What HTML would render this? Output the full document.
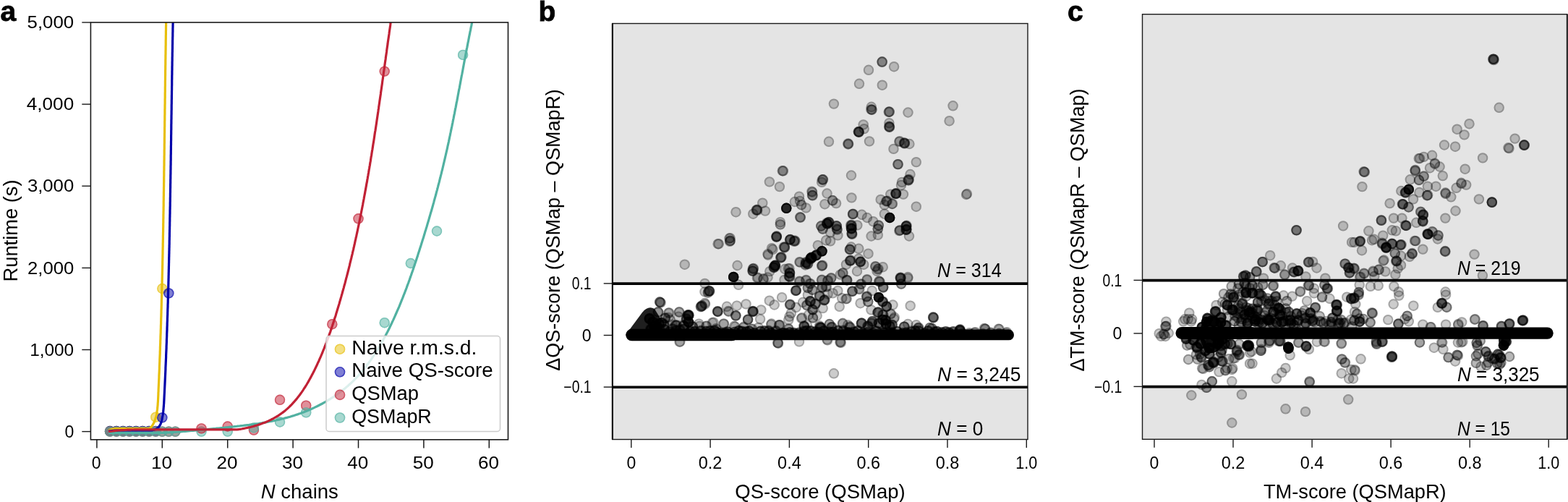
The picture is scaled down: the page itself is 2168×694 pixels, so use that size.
<!DOCTYPE html>
<html><head><meta charset="utf-8"><title>Figure</title>
<style>html,body{margin:0;padding:0;background:#fff;}svg{display:block;}text{font-family:"Liberation Sans", Arial, sans-serif;fill:#000;}.fa0{fill:#000;fill-opacity:0.243}.sa0{fill:none;stroke:#000;stroke-width:2;stroke-opacity:0.243}.fa1{fill:#000;fill-opacity:0.200}.sa1{fill:none;stroke:#000;stroke-width:2;stroke-opacity:0.200}.fa2{fill:#000;fill-opacity:0.284}.sa2{fill:none;stroke:#000;stroke-width:2;stroke-opacity:0.284}.fa3{fill:#000;fill-opacity:0.832}.sa3{fill:none;stroke:#000;stroke-width:2;stroke-opacity:0.832}.fa4{fill:#000;fill-opacity:0.893}.sa4{fill:none;stroke:#000;stroke-width:2;stroke-opacity:0.893}.fa5{fill:#000;fill-opacity:0.252}.sa5{fill:none;stroke:#000;stroke-width:2;stroke-opacity:0.252}</style>
</head><body>
<svg width="2168" height="694" viewBox="0 0 2168 694">
<defs><clipPath id="clipA"><rect x="125" y="31" width="577.5" height="576.5"/></clipPath></defs>
<rect width="2168" height="694" fill="#fff"/>
<rect x="125.4" y="31.0" width="577.1" height="576.8" fill="#fff"/>
<g clip-path="url(#clipA)">
<circle cx="152.0" cy="596.0" r="7.2" fill="#E8BF0A" fill-opacity="0.5"/><circle cx="152.0" cy="596.0" r="6.4" fill="none" stroke="#E8BF0A" stroke-opacity="0.5" stroke-width="1.6"/>
<circle cx="161.0" cy="596.0" r="7.2" fill="#E8BF0A" fill-opacity="0.5"/><circle cx="161.0" cy="596.0" r="6.4" fill="none" stroke="#E8BF0A" stroke-opacity="0.5" stroke-width="1.6"/>
<circle cx="170.1" cy="596.0" r="7.2" fill="#E8BF0A" fill-opacity="0.5"/><circle cx="170.1" cy="596.0" r="6.4" fill="none" stroke="#E8BF0A" stroke-opacity="0.5" stroke-width="1.6"/>
<circle cx="179.1" cy="596.0" r="7.2" fill="#E8BF0A" fill-opacity="0.5"/><circle cx="179.1" cy="596.0" r="6.4" fill="none" stroke="#E8BF0A" stroke-opacity="0.5" stroke-width="1.6"/>
<circle cx="188.1" cy="596.0" r="7.2" fill="#E8BF0A" fill-opacity="0.5"/><circle cx="188.1" cy="596.0" r="6.4" fill="none" stroke="#E8BF0A" stroke-opacity="0.5" stroke-width="1.6"/>
<circle cx="197.2" cy="596.0" r="7.2" fill="#E8BF0A" fill-opacity="0.5"/><circle cx="197.2" cy="596.0" r="6.4" fill="none" stroke="#E8BF0A" stroke-opacity="0.5" stroke-width="1.6"/>
<circle cx="206.2" cy="596.0" r="7.2" fill="#E8BF0A" fill-opacity="0.5"/><circle cx="206.2" cy="596.0" r="6.4" fill="none" stroke="#E8BF0A" stroke-opacity="0.5" stroke-width="1.6"/>
<circle cx="152.0" cy="596.0" r="7.2" fill="#0000AA" fill-opacity="0.5"/><circle cx="152.0" cy="596.0" r="6.4" fill="none" stroke="#0000AA" stroke-opacity="0.5" stroke-width="1.6"/>
<circle cx="161.0" cy="596.0" r="7.2" fill="#0000AA" fill-opacity="0.5"/><circle cx="161.0" cy="596.0" r="6.4" fill="none" stroke="#0000AA" stroke-opacity="0.5" stroke-width="1.6"/>
<circle cx="170.1" cy="596.0" r="7.2" fill="#0000AA" fill-opacity="0.5"/><circle cx="170.1" cy="596.0" r="6.4" fill="none" stroke="#0000AA" stroke-opacity="0.5" stroke-width="1.6"/>
<circle cx="179.1" cy="596.0" r="7.2" fill="#0000AA" fill-opacity="0.5"/><circle cx="179.1" cy="596.0" r="6.4" fill="none" stroke="#0000AA" stroke-opacity="0.5" stroke-width="1.6"/>
<circle cx="188.1" cy="596.0" r="7.2" fill="#0000AA" fill-opacity="0.5"/><circle cx="188.1" cy="596.0" r="6.4" fill="none" stroke="#0000AA" stroke-opacity="0.5" stroke-width="1.6"/>
<circle cx="197.2" cy="596.0" r="7.2" fill="#0000AA" fill-opacity="0.5"/><circle cx="197.2" cy="596.0" r="6.4" fill="none" stroke="#0000AA" stroke-opacity="0.5" stroke-width="1.6"/>
<circle cx="206.2" cy="596.0" r="7.2" fill="#0000AA" fill-opacity="0.5"/><circle cx="206.2" cy="596.0" r="6.4" fill="none" stroke="#0000AA" stroke-opacity="0.5" stroke-width="1.6"/>
<circle cx="215.3" cy="596.0" r="7.2" fill="#0000AA" fill-opacity="0.5"/><circle cx="215.3" cy="596.0" r="6.4" fill="none" stroke="#0000AA" stroke-opacity="0.5" stroke-width="1.6"/>
<circle cx="152.0" cy="596.6" r="7.2" fill="#C12135" fill-opacity="0.5"/><circle cx="152.0" cy="596.6" r="6.4" fill="none" stroke="#C12135" stroke-opacity="0.5" stroke-width="1.6"/>
<circle cx="161.0" cy="596.6" r="7.2" fill="#C12135" fill-opacity="0.5"/><circle cx="161.0" cy="596.6" r="6.4" fill="none" stroke="#C12135" stroke-opacity="0.5" stroke-width="1.6"/>
<circle cx="170.1" cy="596.6" r="7.2" fill="#C12135" fill-opacity="0.5"/><circle cx="170.1" cy="596.6" r="6.4" fill="none" stroke="#C12135" stroke-opacity="0.5" stroke-width="1.6"/>
<circle cx="179.1" cy="596.6" r="7.2" fill="#C12135" fill-opacity="0.5"/><circle cx="179.1" cy="596.6" r="6.4" fill="none" stroke="#C12135" stroke-opacity="0.5" stroke-width="1.6"/>
<circle cx="188.1" cy="596.6" r="7.2" fill="#C12135" fill-opacity="0.5"/><circle cx="188.1" cy="596.6" r="6.4" fill="none" stroke="#C12135" stroke-opacity="0.5" stroke-width="1.6"/>
<circle cx="197.2" cy="596.6" r="7.2" fill="#C12135" fill-opacity="0.5"/><circle cx="197.2" cy="596.6" r="6.4" fill="none" stroke="#C12135" stroke-opacity="0.5" stroke-width="1.6"/>
<circle cx="206.2" cy="596.6" r="7.2" fill="#C12135" fill-opacity="0.5"/><circle cx="206.2" cy="596.6" r="6.4" fill="none" stroke="#C12135" stroke-opacity="0.5" stroke-width="1.6"/>
<circle cx="215.3" cy="596.6" r="7.2" fill="#C12135" fill-opacity="0.5"/><circle cx="215.3" cy="596.6" r="6.4" fill="none" stroke="#C12135" stroke-opacity="0.5" stroke-width="1.6"/>
<circle cx="224.3" cy="596.6" r="7.2" fill="#C12135" fill-opacity="0.5"/><circle cx="224.3" cy="596.6" r="6.4" fill="none" stroke="#C12135" stroke-opacity="0.5" stroke-width="1.6"/>
<circle cx="233.3" cy="596.6" r="7.2" fill="#C12135" fill-opacity="0.5"/><circle cx="233.3" cy="596.6" r="6.4" fill="none" stroke="#C12135" stroke-opacity="0.5" stroke-width="1.6"/>
<circle cx="242.4" cy="596.6" r="7.2" fill="#C12135" fill-opacity="0.5"/><circle cx="242.4" cy="596.6" r="6.4" fill="none" stroke="#C12135" stroke-opacity="0.5" stroke-width="1.6"/>
<circle cx="152.0" cy="596.6" r="7.2" fill="#51B1A1" fill-opacity="0.5"/><circle cx="152.0" cy="596.6" r="6.4" fill="none" stroke="#51B1A1" stroke-opacity="0.5" stroke-width="1.6"/>
<circle cx="161.0" cy="596.6" r="7.2" fill="#51B1A1" fill-opacity="0.5"/><circle cx="161.0" cy="596.6" r="6.4" fill="none" stroke="#51B1A1" stroke-opacity="0.5" stroke-width="1.6"/>
<circle cx="170.1" cy="596.6" r="7.2" fill="#51B1A1" fill-opacity="0.5"/><circle cx="170.1" cy="596.6" r="6.4" fill="none" stroke="#51B1A1" stroke-opacity="0.5" stroke-width="1.6"/>
<circle cx="179.1" cy="596.6" r="7.2" fill="#51B1A1" fill-opacity="0.5"/><circle cx="179.1" cy="596.6" r="6.4" fill="none" stroke="#51B1A1" stroke-opacity="0.5" stroke-width="1.6"/>
<circle cx="188.1" cy="596.6" r="7.2" fill="#51B1A1" fill-opacity="0.5"/><circle cx="188.1" cy="596.6" r="6.4" fill="none" stroke="#51B1A1" stroke-opacity="0.5" stroke-width="1.6"/>
<circle cx="197.2" cy="596.6" r="7.2" fill="#51B1A1" fill-opacity="0.5"/><circle cx="197.2" cy="596.6" r="6.4" fill="none" stroke="#51B1A1" stroke-opacity="0.5" stroke-width="1.6"/>
<circle cx="206.2" cy="596.6" r="7.2" fill="#51B1A1" fill-opacity="0.5"/><circle cx="206.2" cy="596.6" r="6.4" fill="none" stroke="#51B1A1" stroke-opacity="0.5" stroke-width="1.6"/>
<circle cx="215.3" cy="596.6" r="7.2" fill="#51B1A1" fill-opacity="0.5"/><circle cx="215.3" cy="596.6" r="6.4" fill="none" stroke="#51B1A1" stroke-opacity="0.5" stroke-width="1.6"/>
<circle cx="224.3" cy="596.6" r="7.2" fill="#51B1A1" fill-opacity="0.5"/><circle cx="224.3" cy="596.6" r="6.4" fill="none" stroke="#51B1A1" stroke-opacity="0.5" stroke-width="1.6"/>
<circle cx="233.3" cy="596.6" r="7.2" fill="#51B1A1" fill-opacity="0.5"/><circle cx="233.3" cy="596.6" r="6.4" fill="none" stroke="#51B1A1" stroke-opacity="0.5" stroke-width="1.6"/>
<circle cx="242.4" cy="596.6" r="7.2" fill="#51B1A1" fill-opacity="0.5"/><circle cx="242.4" cy="596.6" r="6.4" fill="none" stroke="#51B1A1" stroke-opacity="0.5" stroke-width="1.6"/>
<circle cx="278.5" cy="596.6" r="7.2" fill="#51B1A1" fill-opacity="0.5"/><circle cx="278.5" cy="596.6" r="6.4" fill="none" stroke="#51B1A1" stroke-opacity="0.5" stroke-width="1.6"/>
<circle cx="314.7" cy="596.6" r="7.2" fill="#51B1A1" fill-opacity="0.5"/><circle cx="314.7" cy="596.6" r="6.4" fill="none" stroke="#51B1A1" stroke-opacity="0.5" stroke-width="1.6"/>
<circle cx="278.5" cy="592.4" r="7.2" fill="#C12135" fill-opacity="0.5"/><circle cx="278.5" cy="592.4" r="6.4" fill="none" stroke="#C12135" stroke-opacity="0.5" stroke-width="1.6"/>
<circle cx="314.7" cy="589.5" r="7.2" fill="#C12135" fill-opacity="0.5"/><circle cx="314.7" cy="589.5" r="6.4" fill="none" stroke="#C12135" stroke-opacity="0.5" stroke-width="1.6"/>
<circle cx="350.9" cy="594.6" r="7.2" fill="#C12135" fill-opacity="0.5"/><circle cx="350.9" cy="594.6" r="6.4" fill="none" stroke="#C12135" stroke-opacity="0.5" stroke-width="1.6"/>
<circle cx="215.3" cy="576.7" r="7.2" fill="#E8BF0A" fill-opacity="0.5"/><circle cx="215.3" cy="576.7" r="6.4" fill="none" stroke="#E8BF0A" stroke-opacity="0.5" stroke-width="1.6"/>
<circle cx="224.3" cy="399.0" r="7.2" fill="#E8BF0A" fill-opacity="0.5"/><circle cx="224.3" cy="399.0" r="6.4" fill="none" stroke="#E8BF0A" stroke-opacity="0.5" stroke-width="1.6"/>
<circle cx="224.3" cy="577.4" r="7.2" fill="#0000AA" fill-opacity="0.5"/><circle cx="224.3" cy="577.4" r="6.4" fill="none" stroke="#0000AA" stroke-opacity="0.5" stroke-width="1.6"/>
<circle cx="233.3" cy="405.4" r="7.2" fill="#0000AA" fill-opacity="0.5"/><circle cx="233.3" cy="405.4" r="6.4" fill="none" stroke="#0000AA" stroke-opacity="0.5" stroke-width="1.6"/>
<circle cx="387.0" cy="552.8" r="7.2" fill="#C12135" fill-opacity="0.5"/><circle cx="387.0" cy="552.8" r="6.4" fill="none" stroke="#C12135" stroke-opacity="0.5" stroke-width="1.6"/>
<circle cx="423.2" cy="560.7" r="7.2" fill="#C12135" fill-opacity="0.5"/><circle cx="423.2" cy="560.7" r="6.4" fill="none" stroke="#C12135" stroke-opacity="0.5" stroke-width="1.6"/>
<circle cx="459.3" cy="448.2" r="7.2" fill="#C12135" fill-opacity="0.5"/><circle cx="459.3" cy="448.2" r="6.4" fill="none" stroke="#C12135" stroke-opacity="0.5" stroke-width="1.6"/>
<circle cx="495.5" cy="302.3" r="7.2" fill="#C12135" fill-opacity="0.5"/><circle cx="495.5" cy="302.3" r="6.4" fill="none" stroke="#C12135" stroke-opacity="0.5" stroke-width="1.6"/>
<circle cx="531.7" cy="98.6" r="7.2" fill="#C12135" fill-opacity="0.5"/><circle cx="531.7" cy="98.6" r="6.4" fill="none" stroke="#C12135" stroke-opacity="0.5" stroke-width="1.6"/>
<circle cx="350.9" cy="591.4" r="7.2" fill="#51B1A1" fill-opacity="0.5"/><circle cx="350.9" cy="591.4" r="6.4" fill="none" stroke="#51B1A1" stroke-opacity="0.5" stroke-width="1.6"/>
<circle cx="387.0" cy="583.5" r="7.2" fill="#51B1A1" fill-opacity="0.5"/><circle cx="387.0" cy="583.5" r="6.4" fill="none" stroke="#51B1A1" stroke-opacity="0.5" stroke-width="1.6"/>
<circle cx="423.2" cy="570.4" r="7.2" fill="#51B1A1" fill-opacity="0.5"/><circle cx="423.2" cy="570.4" r="6.4" fill="none" stroke="#51B1A1" stroke-opacity="0.5" stroke-width="1.6"/>
<circle cx="531.7" cy="446.2" r="7.2" fill="#51B1A1" fill-opacity="0.5"/><circle cx="531.7" cy="446.2" r="6.4" fill="none" stroke="#51B1A1" stroke-opacity="0.5" stroke-width="1.6"/>
<circle cx="567.8" cy="364.0" r="7.2" fill="#51B1A1" fill-opacity="0.5"/><circle cx="567.8" cy="364.0" r="6.4" fill="none" stroke="#51B1A1" stroke-opacity="0.5" stroke-width="1.6"/>
<circle cx="604.0" cy="319.5" r="7.2" fill="#51B1A1" fill-opacity="0.5"/><circle cx="604.0" cy="319.5" r="6.4" fill="none" stroke="#51B1A1" stroke-opacity="0.5" stroke-width="1.6"/>
<circle cx="640.1" cy="75.9" r="7.2" fill="#51B1A1" fill-opacity="0.5"/><circle cx="640.1" cy="75.9" r="6.4" fill="none" stroke="#51B1A1" stroke-opacity="0.5" stroke-width="1.6"/>
<path d="M150.0,595.3 L151.6,594.5 L153.4,593.8 L155.2,593.3 L157.1,592.9 L159.1,592.7 L161.1,592.6 L163.2,592.6 L165.3,592.6 L167.5,592.6 L169.7,592.6 L172.0,592.6 L174.3,592.6 L176.6,592.6 L178.8,592.6 L181.2,592.6 L183.4,592.6 L185.7,592.6 L188.0,592.6 L190.2,592.6 L192.4,592.6 L194.5,592.6 L196.6,592.6 L198.7,592.6 L200.6,592.6 L202.5,592.6 L204.3,592.6 L206.0,592.6 L207.5,591.8 L208.9,590.5 L210.1,589.0 L211.2,587.4 L212.2,585.6 L213.1,583.8 L213.8,581.9 L214.5,579.9 L215.1,578.0 L215.7,576.0 L216.2,574.1 L216.6,572.1 L216.9,570.0 L217.2,568.0 L217.5,566.0 L217.7,563.9 L217.9,561.9 L218.1,559.8 L218.2,557.7 L218.4,555.6 L218.5,553.5 L218.6,551.4 L218.7,549.3 L218.8,547.2 L218.9,545.1 L218.9,543.0 L219.1,541.0 L219.1,538.9 L219.2,536.8 L219.3,534.7 L219.4,532.6 L219.5,530.5 L219.6,528.4 L219.7,526.3 L219.8,524.2 L219.9,522.1 L219.9,520.0 L220.0,517.9 L220.1,515.9 L220.2,513.8 L220.3,511.7 L220.4,509.6 L220.4,507.5 L220.5,505.4 L220.6,503.3 L220.7,501.2 L220.8,499.1 L220.8,497.0 L220.9,495.0 L221.0,492.9 L221.1,490.8 L221.2,488.7 L221.2,486.6 L221.3,484.5 L221.4,482.4 L221.4,480.3 L221.5,478.3 L221.6,476.2 L221.7,474.1 L221.7,472.0 L221.8,469.9 L221.9,467.8 L221.9,465.7 L222.0,463.6 L222.1,461.6 L222.2,459.5 L222.2,457.4 L222.3,455.3 L222.4,453.2 L222.4,451.1 L222.5,449.1 L222.6,447.0 L222.6,444.9 L222.7,442.8 L222.7,440.7 L222.8,438.6 L222.9,436.6 L222.9,434.5 L223.0,432.4 L223.0,430.3 L223.1,428.2 L223.2,426.1 L223.2,424.1 L223.3,422.0 L223.3,419.9 L223.4,417.8 L223.4,415.7 L223.5,413.6 L223.6,411.6 L223.6,409.5 L223.7,407.4 L223.7,405.3 L223.8,403.2 L223.8,401.2 L223.9,399.1 L223.9,397.0 L224.0,394.9 L224.0,392.8 L224.1,390.8 L224.1,388.7 L224.2,386.6 L224.2,384.5 L224.3,382.4 L224.3,380.4 L224.4,378.3 L224.4,376.2 L224.5,374.1 L224.5,372.0 L224.6,369.9 L224.6,367.9 L224.7,365.8 L224.7,363.7 L224.7,361.6 L224.8,359.6 L224.8,357.5 L224.9,355.4 L224.9,353.3 L225.0,351.2 L225.0,349.2 L225.0,347.1 L225.1,345.0 L225.1,342.9 L225.2,340.9 L225.2,338.8 L225.2,336.7 L225.3,334.6 L225.3,332.5 L225.4,330.5 L225.4,328.4 L225.4,326.3 L225.5,324.2 L225.5,322.1 L225.6,320.1 L225.6,318.0 L225.6,315.9 L225.7,313.8 L225.7,311.8 L225.7,309.7 L225.8,307.6 L225.8,305.5 L225.8,303.4 L225.9,301.4 L225.9,299.3 L225.9,297.2 L226.0,295.1 L226.0,293.1 L226.1,291.0 L226.1,288.9 L226.1,286.8 L226.2,284.8 L226.2,282.7 L226.2,280.6 L226.2,278.5 L226.3,276.4 L226.3,274.4 L226.3,272.3 L226.4,270.2 L226.4,268.1 L226.4,266.1 L226.5,264.0 L226.5,261.9 L226.5,259.8 L226.6,257.8 L226.6,255.7 L226.6,253.6 L226.7,251.5 L226.7,249.4 L226.7,247.4 L226.7,245.3 L226.8,243.2 L226.8,241.1 L226.8,239.1 L226.8,237.0 L226.9,234.9 L226.9,232.8 L226.9,230.7 L227.0,228.7 L227.0,226.6 L227.0,224.5 L227.0,222.4 L227.1,220.4 L227.1,218.3 L227.1,216.2 L227.2,214.1 L227.2,212.1 L227.2,210.0 L227.2,207.9 L227.3,205.8 L227.3,203.7 L227.3,201.7 L227.3,199.6 L227.4,197.5 L227.4,195.4 L227.4,193.3 L227.4,191.3 L227.5,189.2 L227.5,187.1 L227.5,185.0 L227.6,183.0 L227.6,180.9 L227.6,178.8 L227.6,176.7 L227.7,174.6 L227.7,172.6 L227.7,170.5 L227.7,168.4 L227.8,166.3 L227.8,164.2 L227.8,162.2 L227.8,160.1 L227.9,158.0 L227.9,155.9 L227.9,153.8 L227.9,151.8 L228.0,149.7 L228.0,147.6 L228.0,145.5 L228.1,143.4 L228.1,141.4 L228.1,139.3 L228.1,137.2 L228.2,135.1 L228.2,133.1 L228.2,131.0 L228.2,128.9 L228.3,126.8 L228.3,124.7 L228.3,122.7 L228.3,120.6 L228.4,118.5 L228.4,116.4 L228.4,114.3 L228.4,112.2 L228.5,110.2 L228.5,108.1 L228.5,106.0 L228.6,103.9 L228.6,101.8 L228.6,99.8 L228.6,97.7 L228.7,95.6 L228.7,93.5 L228.7,91.4 L228.8,89.3 L228.8,87.2 L228.8,85.2 L228.8,83.1 L228.9,81.0 L228.9,78.9 L228.9,76.8 L229.0,74.8 L229.0,72.7 L229.0,70.6 L229.1,68.5 L229.1,66.4 L229.1,64.3 L229.2,62.2 L229.2,60.1 L229.2,58.1 L229.2,56.0 L229.3,53.9 L229.3,51.8 L229.3,49.7 L229.4,47.6 L229.4,45.5 L229.4,43.5 L229.5,41.4 L229.5,39.3 L229.5,37.2 L229.6,35.1 L229.6,33.0 L229.6,30.9" fill="none" stroke="#E8BF0A" stroke-width="3.2"/>
<path d="M150.0,596.0 L152.1,595.8 L154.2,595.6 L156.3,595.4 L158.3,595.2 L160.4,595.1 L162.5,595.1 L164.6,595.0 L166.7,595.0 L168.8,595.0 L170.9,595.0 L173.0,595.0 L175.2,595.0 L177.3,595.0 L179.4,595.0 L181.6,595.0 L183.7,595.0 L185.9,595.0 L188.1,595.0 L190.2,595.0 L192.4,595.0 L194.6,595.0 L196.8,595.0 L199.1,595.0 L201.3,595.0 L203.5,595.0 L205.7,595.0 L207.9,595.0 L210.0,594.9 L212.0,594.5 L213.9,593.9 L215.7,593.1 L217.3,592.2 L218.7,591.1 L219.9,589.7 L221.0,588.2 L221.9,586.5 L222.6,584.6 L223.2,582.7 L223.8,580.6 L224.2,578.5 L224.6,576.4 L225.0,574.3 L225.3,572.2 L225.6,570.0 L225.8,567.9 L226.0,565.8 L226.2,563.7 L226.4,561.5 L226.5,559.4 L226.7,557.3 L226.8,555.2 L226.9,553.1 L227.0,551.0 L227.1,548.8 L227.2,546.7 L227.3,544.6 L227.4,542.5 L227.5,540.4 L227.6,538.2 L227.7,536.1 L227.8,534.0 L227.9,531.9 L228.0,529.8 L228.1,527.7 L228.2,525.5 L228.3,523.4 L228.4,521.3 L228.5,519.2 L228.6,517.1 L228.7,515.0 L228.8,512.8 L228.9,510.7 L228.9,508.6 L229.0,506.5 L229.1,504.4 L229.2,502.2 L229.3,500.1 L229.4,498.0 L229.5,495.9 L229.6,493.8 L229.6,491.7 L229.7,489.6 L229.8,487.4 L229.9,485.3 L230.0,483.2 L230.1,481.1 L230.1,479.0 L230.2,476.9 L230.3,474.8 L230.4,472.6 L230.4,470.5 L230.5,468.4 L230.6,466.3 L230.7,464.2 L230.7,462.1 L230.8,459.9 L230.9,457.8 L231.0,455.7 L231.0,453.6 L231.1,451.5 L231.2,449.4 L231.2,447.2 L231.3,445.1 L231.4,443.0 L231.4,440.9 L231.5,438.8 L231.6,436.7 L231.7,434.6 L231.7,432.5 L231.8,430.3 L231.8,428.2 L231.9,426.1 L232.0,424.0 L232.0,421.9 L232.1,419.8 L232.2,417.7 L232.2,415.5 L232.3,413.4 L232.3,411.3 L232.4,409.2 L232.5,407.1 L232.5,405.0 L232.6,402.9 L232.6,400.8 L232.7,398.6 L232.8,396.5 L232.8,394.4 L232.9,392.3 L232.9,390.2 L233.0,388.1 L233.0,386.0 L233.1,383.9 L233.1,381.7 L233.2,379.6 L233.2,377.5 L233.3,375.4 L233.3,373.3 L233.4,371.2 L233.4,369.1 L233.5,366.9 L233.5,364.8 L233.6,362.7 L233.6,360.6 L233.7,358.5 L233.7,356.4 L233.8,354.3 L233.8,352.2 L233.9,350.1 L233.9,347.9 L234.0,345.8 L234.0,343.7 L234.1,341.6 L234.1,339.5 L234.2,337.4 L234.2,335.3 L234.2,333.1 L234.3,331.0 L234.3,328.9 L234.4,326.8 L234.4,324.7 L234.4,322.6 L234.5,320.5 L234.5,318.4 L234.6,316.2 L234.6,314.1 L234.7,312.0 L234.7,309.9 L234.7,307.8 L234.8,305.7 L234.8,303.6 L234.8,301.5 L234.9,299.4 L234.9,297.2 L235.0,295.1 L235.0,293.0 L235.0,290.9 L235.1,288.8 L235.1,286.7 L235.2,284.6 L235.2,282.5 L235.2,280.4 L235.3,278.2 L235.3,276.1 L235.3,274.0 L235.4,271.9 L235.4,269.8 L235.4,267.7 L235.5,265.6 L235.5,263.5 L235.5,261.3 L235.6,259.2 L235.6,257.1 L235.6,255.0 L235.7,252.9 L235.7,250.8 L235.7,248.7 L235.8,246.6 L235.8,244.4 L235.8,242.3 L235.9,240.2 L235.9,238.1 L235.9,236.0 L236.0,233.9 L236.0,231.8 L236.0,229.7 L236.1,227.6 L236.1,225.4 L236.1,223.3 L236.2,221.2 L236.2,219.1 L236.2,217.0 L236.2,214.9 L236.3,212.8 L236.3,210.7 L236.3,208.6 L236.4,206.4 L236.4,204.3 L236.4,202.2 L236.5,200.1 L236.5,198.0 L236.5,195.9 L236.6,193.8 L236.6,191.7 L236.6,189.5 L236.6,187.4 L236.7,185.3 L236.7,183.2 L236.7,181.1 L236.8,179.0 L236.8,176.9 L236.8,174.8 L236.8,172.6 L236.9,170.5 L236.9,168.4 L236.9,166.3 L237.0,164.2 L237.0,162.1 L237.0,160.0 L237.1,157.8 L237.1,155.7 L237.1,153.6 L237.2,151.5 L237.2,149.4 L237.2,147.3 L237.2,145.2 L237.3,143.1 L237.3,140.9 L237.3,138.8 L237.4,136.7 L237.4,134.6 L237.4,132.5 L237.5,130.4 L237.5,128.3 L237.5,126.2 L237.6,124.0 L237.6,121.9 L237.6,119.8 L237.7,117.7 L237.7,115.6 L237.7,113.5 L237.7,111.3 L237.8,109.2 L237.8,107.1 L237.8,105.0 L237.9,102.9 L237.9,100.8 L237.9,98.7 L238.0,96.5 L238.0,94.4 L238.0,92.3 L238.1,90.2 L238.1,88.1 L238.1,86.0 L238.2,83.9 L238.2,81.8 L238.2,79.6 L238.3,77.5 L238.3,75.4 L238.3,73.3 L238.4,71.2 L238.4,69.1 L238.5,66.9 L238.5,64.8 L238.5,62.7 L238.6,60.6 L238.6,58.5 L238.6,56.4 L238.7,54.2 L238.7,52.1 L238.8,50.0 L238.8,47.9 L238.8,45.8 L238.9,43.7 L238.9,41.6 L238.9,39.4 L239.0,37.3 L239.0,35.2 L239.1,33.1 L239.1,31.0" fill="none" stroke="#0000AA" stroke-width="3.2"/>
<path d="M150.1,598.6 L152.4,598.6 L154.6,598.6 L156.8,598.6 L159.1,598.6 L161.3,598.6 L163.6,598.6 L165.8,598.6 L168.0,598.6 L170.2,598.6 L172.5,598.6 L174.7,598.6 L176.9,598.6 L179.1,598.6 L181.3,598.6 L183.6,598.6 L185.8,598.6 L188.0,598.6 L190.2,598.6 L192.4,598.6 L194.6,598.6 L196.8,598.6 L199.0,598.6 L201.2,598.6 L203.4,598.6 L205.6,598.6 L207.8,598.6 L210.0,598.6 L212.2,598.6 L214.4,598.6 L216.6,598.6 L218.7,598.6 L220.9,598.6 L223.1,598.5 L225.3,598.4 L227.5,598.2 L229.7,598.1 L231.9,598.0 L234.1,597.9 L236.2,597.7 L238.4,597.6 L240.6,597.4 L242.8,597.3 L245.0,597.1 L247.2,597.0 L249.3,596.8 L251.5,596.6 L253.7,596.5 L255.9,596.3 L258.1,596.1 L260.3,595.9 L262.5,595.7 L264.6,595.5 L266.8,595.4 L269.0,595.2 L271.2,595.0 L273.4,594.8 L275.6,594.6 L277.8,594.4 L280.0,594.2 L282.2,594.0 L284.4,593.8 L286.6,593.5 L288.8,593.3 L291.0,593.1 L293.2,592.9 L295.4,592.7 L297.6,592.5 L299.8,592.2 L302.0,592.0 L304.2,591.8 L306.4,591.6 L308.6,591.4 L310.9,591.1 L313.1,590.9 L315.3,590.7 L317.5,590.4 L319.8,590.2 L322.0,590.0 L324.2,589.7 L326.4,589.5 L328.6,589.2 L330.9,589.0 L333.1,588.7 L335.3,588.5 L337.6,588.2 L339.8,587.9 L342.0,587.6 L344.2,587.4 L346.4,587.1 L348.7,586.8 L350.9,586.5 L353.1,586.1 L355.3,585.8 L357.5,585.5 L359.7,585.1 L361.9,584.8 L364.1,584.4 L366.3,584.0 L368.5,583.6 L370.7,583.2 L372.9,582.8 L375.1,582.4 L377.3,582.0 L379.4,581.5 L381.6,581.0 L383.8,580.5 L385.9,580.1 L388.1,579.5 L390.2,579.0 L392.4,578.5 L394.5,577.9 L396.7,577.4 L398.8,576.8 L400.9,576.2 L403.0,575.5 L405.1,574.9 L407.2,574.2 L409.3,573.5 L411.4,572.9 L413.5,572.1 L415.6,571.4 L417.6,570.6 L419.7,569.9 L421.8,569.1 L423.8,568.2 L425.8,567.4 L427.8,566.6 L429.9,565.7 L431.9,564.8 L433.9,563.9 L435.8,562.9 L437.8,562.0 L439.8,561.0 L441.7,560.0 L443.6,559.0 L445.6,558.0 L447.5,556.9 L449.4,555.9 L451.3,554.8 L453.2,553.6 L455.0,552.5 L456.9,551.4 L458.7,550.2 L460.5,549.0 L462.4,547.8 L464.1,546.6 L465.9,545.3 L467.7,544.0 L469.4,542.8 L471.2,541.5 L472.9,540.1 L474.6,538.8 L476.3,537.4 L478.0,536.0 L479.6,534.6 L481.3,533.2 L482.9,531.7 L484.5,530.3 L486.1,528.8 L487.7,527.3 L489.2,525.8 L490.8,524.2 L492.3,522.6 L493.8,521.1 L495.3,519.5 L496.8,517.8 L498.2,516.2 L499.6,514.5 L501.1,512.9 L502.5,511.2 L503.8,509.5 L505.2,507.7 L506.6,506.0 L507.9,504.2 L509.2,502.5 L510.5,500.7 L511.8,498.9 L513.1,497.1 L514.3,495.3 L515.6,493.4 L516.8,491.6 L518.0,489.7 L519.2,487.9 L520.4,486.0 L521.6,484.1 L522.8,482.2 L523.9,480.3 L525.0,478.3 L526.2,476.4 L527.3,474.5 L528.4,472.5 L529.5,470.6 L530.5,468.6 L531.6,466.6 L532.7,464.7 L533.7,462.7 L534.7,460.7 L535.8,458.7 L536.8,456.7 L537.8,454.7 L538.8,452.7 L539.7,450.7 L540.7,448.7 L541.7,446.7 L542.6,444.6 L543.6,442.6 L544.5,440.6 L545.4,438.6 L546.3,436.6 L547.2,434.5 L548.1,432.5 L549.0,430.4 L549.9,428.4 L550.8,426.4 L551.7,424.3 L552.5,422.3 L553.4,420.2 L554.2,418.1 L555.0,416.1 L555.9,414.0 L556.7,412.0 L557.5,409.9 L558.3,407.8 L559.1,405.8 L559.9,403.7 L560.7,401.6 L561.5,399.6 L562.3,397.5 L563.0,395.4 L563.8,393.3 L564.6,391.2 L565.3,389.2 L566.1,387.1 L566.8,385.0 L567.5,382.9 L568.3,380.8 L569.0,378.7 L569.7,376.6 L570.5,374.5 L571.2,372.4 L571.9,370.3 L572.6,368.2 L573.3,366.1 L574.0,364.1 L574.7,361.9 L575.4,359.9 L576.1,357.8 L576.8,355.6 L577.5,353.6 L578.1,351.4 L578.8,349.3 L579.5,347.2 L580.2,345.1 L580.8,343.0 L581.5,340.9 L582.2,338.8 L582.8,336.7 L583.5,334.6 L584.1,332.5 L584.8,330.4 L585.5,328.3 L586.1,326.2 L586.8,324.1 L587.4,321.9 L588.0,319.8 L588.7,317.7 L589.3,315.6 L590.0,313.5 L590.6,311.4 L591.2,309.3 L591.8,307.2 L592.5,305.1 L593.1,302.9 L593.7,300.8 L594.3,298.7 L594.9,296.6 L595.5,294.5 L596.2,292.3 L596.8,290.2 L597.4,288.1 L598.0,286.0 L598.6,283.9 L599.2,281.7 L599.8,279.6 L600.3,277.5 L600.9,275.4 L601.5,273.2 L602.1,271.1 L602.7,269.0 L603.2,266.9 L603.8,264.7 L604.4,262.6 L604.9,260.5 L605.5,258.3 L606.0,256.2 L606.6,254.1 L607.2,251.9 L607.7,249.8 L608.2,247.7 L608.8,245.5 L609.3,243.4 L609.9,241.2 L610.4,239.1 L610.9,236.9 L611.5,234.8 L612.0,232.7 L612.5,230.5 L613.0,228.4 L613.5,226.2 L614.0,224.1 L614.5,221.9 L615.0,219.8 L615.5,217.6 L616.0,215.5 L616.5,213.3 L617.0,211.2 L617.5,209.0 L618.0,206.8 L618.5,204.7 L618.9,202.5 L619.4,200.4 L619.9,198.2 L620.4,196.0 L620.8,193.9 L621.3,191.7 L621.7,189.5 L622.2,187.4 L622.6,185.2 L623.1,183.0 L623.5,180.9 L624.0,178.7 L624.4,176.5 L624.9,174.3 L625.3,172.2 L625.8,170.0 L626.2,167.8 L626.6,165.7 L627.1,163.5 L627.5,161.3 L627.9,159.1 L628.4,157.0 L628.8,154.8 L629.2,152.6 L629.6,150.4 L630.1,148.3 L630.5,146.1 L630.9,143.9 L631.3,141.7 L631.8,139.6 L632.2,137.4 L632.6,135.2 L633.0,133.0 L633.4,130.8 L633.8,128.7 L634.2,126.5 L634.6,124.3 L635.1,122.1 L635.5,120.0 L635.9,117.8 L636.3,115.6 L636.7,113.4 L637.1,111.2 L637.5,109.0 L637.9,106.9 L638.3,104.7 L638.8,102.5 L639.2,100.3 L639.6,98.2 L640.0,96.0 L640.4,93.8 L640.8,91.6 L641.2,89.5 L641.6,87.3 L642.0,85.1 L642.4,82.9 L642.9,80.8 L643.3,78.6 L643.7,76.4 L644.1,74.2 L644.5,72.1 L644.9,69.9 L645.3,67.7 L645.8,65.6 L646.2,63.4 L646.6,61.2 L647.0,59.1 L647.5,56.9 L647.9,54.7 L648.3,52.6 L648.7,50.4 L649.2,48.2 L649.6,46.1 L650.0,43.9 L650.5,41.8 L650.9,39.6 L651.3,37.4 L651.8,35.3 L652.2,33.1 L652.6,31.0" fill="none" stroke="#51B1A1" stroke-width="3.2"/>
<path d="M150.1,596.7 L152.1,596.4 L154.1,596.1 L156.1,595.9 L158.2,595.6 L160.2,595.4 L162.2,595.2 L164.2,595.0 L166.2,594.9 L168.2,594.7 L170.2,594.6 L172.3,594.5 L174.3,594.3 L176.3,594.2 L178.3,594.1 L180.4,594.1 L182.4,594.0 L184.4,594.0 L186.4,593.9 L188.5,593.9 L190.5,593.9 L192.6,593.9 L194.6,593.9 L196.6,593.9 L198.7,593.9 L200.7,593.9 L202.7,593.9 L204.8,593.9 L206.8,593.9 L208.9,593.9 L210.9,593.9 L213.0,593.9 L215.0,593.9 L217.1,593.9 L219.1,593.9 L221.2,593.9 L223.2,593.9 L225.3,593.9 L227.3,593.9 L229.4,593.9 L231.4,593.9 L233.5,593.9 L235.5,593.9 L237.6,593.9 L239.6,593.9 L241.7,593.9 L243.7,593.9 L245.8,593.9 L247.9,593.9 L249.9,593.9 L252.0,593.9 L254.0,593.9 L256.1,593.9 L258.1,593.9 L260.2,593.9 L262.3,593.9 L264.3,593.9 L266.4,593.9 L268.4,593.9 L270.5,593.9 L272.6,593.9 L274.6,593.9 L276.7,593.9 L278.7,593.9 L280.8,593.9 L282.9,593.9 L284.9,593.9 L287.0,593.9 L289.0,593.9 L291.1,593.9 L293.1,593.9 L295.2,593.9 L297.3,593.9 L299.3,593.9 L301.4,593.9 L303.4,593.9 L305.5,593.9 L307.6,593.9 L309.6,593.9 L311.6,593.9 L313.7,593.9 L315.8,593.9 L317.8,593.9 L319.9,593.9 L321.9,593.9 L324.0,593.9 L326.0,593.9 L328.0,593.9 L330.1,593.7 L332.1,593.3 L334.1,593.0 L336.1,592.6 L338.1,592.2 L340.2,591.8 L342.1,591.4 L344.1,590.9 L346.1,590.5 L348.1,590.0 L350.1,589.5 L352.0,588.9 L353.9,588.3 L355.9,587.8 L357.8,587.1 L359.7,586.5 L361.6,585.8 L363.4,585.1 L365.3,584.4 L367.2,583.7 L369.0,582.9 L370.8,582.1 L372.6,581.3 L374.4,580.4 L376.1,579.5 L377.9,578.6 L379.6,577.6 L381.3,576.7 L383.0,575.6 L384.7,574.6 L386.3,573.5 L387.9,572.4 L389.5,571.3 L391.1,570.1 L392.7,568.9 L394.2,567.7 L395.7,566.4 L397.2,565.1 L398.6,563.8 L400.1,562.4 L401.5,561.0 L402.9,559.6 L404.3,558.1 L405.6,556.7 L407.0,555.2 L408.3,553.6 L409.6,552.1 L410.9,550.5 L412.1,548.9 L413.4,547.3 L414.6,545.7 L415.8,544.0 L417.0,542.4 L418.2,540.7 L419.3,539.0 L420.4,537.2 L421.6,535.5 L422.7,533.7 L423.8,532.0 L424.8,530.2 L425.9,528.4 L426.9,526.6 L427.9,524.8 L429.0,522.9 L430.0,521.1 L430.9,519.2 L431.9,517.4 L432.9,515.5 L433.8,513.7 L434.8,511.8 L435.7,509.9 L436.6,508.0 L437.5,506.1 L438.4,504.3 L439.2,502.4 L440.1,500.5 L441.0,498.6 L441.8,496.7 L442.6,494.8 L443.5,492.9 L444.3,491.0 L445.1,489.1 L445.9,487.2 L446.6,485.3 L447.4,483.4 L448.2,481.5 L448.9,479.6 L449.7,477.7 L450.4,475.8 L451.2,473.9 L451.9,471.9 L452.6,470.0 L453.3,468.1 L454.0,466.2 L454.7,464.3 L455.4,462.3 L456.1,460.4 L456.8,458.5 L457.4,456.6 L458.1,454.6 L458.7,452.7 L459.4,450.8 L460.0,448.8 L460.6,446.9 L461.3,444.9 L461.9,443.0 L462.5,441.1 L463.1,439.1 L463.8,437.2 L464.4,435.2 L464.9,433.3 L465.6,431.4 L466.1,429.4 L466.7,427.5 L467.3,425.5 L467.9,423.6 L468.5,421.6 L469.1,419.7 L469.6,417.7 L470.2,415.8 L470.8,413.8 L471.3,411.9 L471.9,409.9 L472.4,407.9 L473.0,406.0 L473.5,404.0 L474.1,402.1 L474.6,400.1 L475.2,398.1 L475.7,396.2 L476.2,394.2 L476.8,392.2 L477.3,390.3 L477.8,388.3 L478.3,386.4 L478.8,384.4 L479.4,382.4 L479.9,380.4 L480.4,378.5 L480.9,376.5 L481.4,374.5 L481.9,372.6 L482.4,370.6 L482.9,368.6 L483.4,366.6 L483.8,364.6 L484.3,362.7 L484.8,360.7 L485.3,358.7 L485.8,356.7 L486.2,354.8 L486.7,352.8 L487.2,350.8 L487.6,348.8 L488.1,346.8 L488.6,344.8 L489.0,342.9 L489.5,340.9 L489.9,338.9 L490.4,336.9 L490.8,334.9 L491.2,332.9 L491.7,330.9 L492.1,328.9 L492.6,326.9 L493.0,325.0 L493.4,323.0 L493.9,321.0 L494.3,319.0 L494.7,317.0 L495.1,315.0 L495.5,313.0 L496.0,311.0 L496.4,309.0 L496.8,307.0 L497.2,305.0 L497.6,303.0 L498.0,301.0 L498.4,299.0 L498.8,297.0 L499.2,295.0 L499.6,293.0 L500.0,291.0 L500.4,289.0 L500.8,287.0 L501.2,285.0 L501.6,283.0 L501.9,281.0 L502.3,279.0 L502.7,277.0 L503.1,275.0 L503.4,273.0 L503.8,271.0 L504.2,268.9 L504.6,266.9 L504.9,264.9 L505.3,262.9 L505.7,260.9 L506.0,258.9 L506.4,256.9 L506.7,254.9 L507.1,252.9 L507.5,250.9 L507.8,248.8 L508.2,246.8 L508.5,244.8 L508.9,242.8 L509.2,240.8 L509.6,238.8 L509.9,236.8 L510.2,234.8 L510.6,232.8 L510.9,230.7 L511.3,228.7 L511.6,226.7 L511.9,224.7 L512.3,222.7 L512.6,220.7 L512.9,218.6 L513.2,216.6 L513.6,214.6 L513.9,212.6 L514.2,210.6 L514.5,208.6 L514.9,206.5 L515.2,204.5 L515.5,202.5 L515.8,200.5 L516.1,198.5 L516.5,196.4 L516.8,194.4 L517.1,192.4 L517.4,190.4 L517.7,188.4 L518.0,186.3 L518.3,184.3 L518.6,182.3 L519.0,180.3 L519.3,178.3 L519.6,176.2 L519.9,174.2 L520.2,172.2 L520.5,170.2 L520.8,168.2 L521.1,166.1 L521.4,164.1 L521.7,162.1 L522.0,160.1 L522.3,158.0 L522.6,156.0 L522.9,154.0 L523.1,152.0 L523.5,150.0 L523.7,147.9 L524.0,145.9 L524.3,143.9 L524.6,141.9 L524.9,139.8 L525.2,137.8 L525.5,135.8 L525.8,133.8 L526.1,131.8 L526.4,129.7 L526.6,127.7 L526.9,125.7 L527.2,123.7 L527.5,121.7 L527.8,119.6 L528.1,117.6 L528.4,115.6 L528.6,113.6 L528.9,111.5 L529.2,109.5 L529.5,107.5 L529.8,105.5 L530.1,103.5 L530.3,101.4 L530.6,99.4 L530.9,97.4 L531.2,95.4 L531.5,93.4 L531.8,91.3 L532.0,89.3 L532.3,87.3 L532.6,85.3 L532.9,83.3 L533.2,81.2 L533.4,79.2 L533.7,77.2 L534.0,75.2 L534.3,73.2 L534.6,71.2 L534.8,69.1 L535.1,67.1 L535.4,65.1 L535.7,63.1 L536.0,61.1 L536.2,59.0 L536.5,57.0 L536.8,55.0 L537.1,53.0 L537.4,51.0 L537.7,49.0 L538.0,47.0 L538.2,45.0 L538.5,42.9 L538.8,40.9 L539.1,38.9 L539.4,36.9 L539.7,34.9 L539.9,32.9 L540.2,30.9" fill="none" stroke="#C12135" stroke-width="3.2"/>
</g>
<rect x="451" y="464.5" width="240.5" height="132" rx="4" fill="#fff" fill-opacity="0.8" stroke="#cccccc" stroke-width="1.5"/>
<circle cx="470" cy="482.7" r="7.3" fill="#E8BF0A" fill-opacity="0.5"/><circle cx="470" cy="482.7" r="6.5" fill="none" stroke="#E8BF0A" stroke-opacity="0.5" stroke-width="1.6"/>
<text x="486.2" y="489.7" font-size="26.8" text-anchor="start" font-weight="normal" textLength="173.3" lengthAdjust="spacingAndGlyphs">Naive r.m.s.d.</text>
<circle cx="470" cy="514.3" r="7.3" fill="#0000AA" fill-opacity="0.5"/><circle cx="470" cy="514.3" r="6.5" fill="none" stroke="#0000AA" stroke-opacity="0.5" stroke-width="1.6"/>
<text x="486.2" y="521.3" font-size="26.8" text-anchor="start" font-weight="normal" textLength="195.4" lengthAdjust="spacingAndGlyphs">Naive QS-score</text>
<circle cx="470" cy="545.9" r="7.3" fill="#C12135" fill-opacity="0.5"/><circle cx="470" cy="545.9" r="6.5" fill="none" stroke="#C12135" stroke-opacity="0.5" stroke-width="1.6"/>
<text x="486.2" y="552.9" font-size="26.8" text-anchor="start" font-weight="normal" textLength="92.8" lengthAdjust="spacingAndGlyphs">QSMap</text>
<circle cx="470" cy="577.5" r="7.3" fill="#51B1A1" fill-opacity="0.5"/><circle cx="470" cy="577.5" r="6.5" fill="none" stroke="#51B1A1" stroke-opacity="0.5" stroke-width="1.6"/>
<text x="486.2" y="584.5" font-size="26.8" text-anchor="start" font-weight="normal" textLength="110.6" lengthAdjust="spacingAndGlyphs">QSMapR</text>
<rect x="125.4" y="31.0" width="577.1" height="576.8" fill="none" stroke="#1a1a1a" stroke-width="1.6"/>
<line x1="113.3" y1="596.6" x2="125.4" y2="596.6" stroke="#1a1a1a" stroke-width="1.4"/>
<text x="102.2" y="604.8" font-size="23.0" text-anchor="end" font-weight="normal">0</text>
<line x1="113.3" y1="483.5" x2="125.4" y2="483.5" stroke="#1a1a1a" stroke-width="1.4"/>
<text x="102.2" y="491.7" font-size="23.0" text-anchor="end" font-weight="normal" textLength="61.0" lengthAdjust="spacingAndGlyphs">1,000</text>
<line x1="113.3" y1="370.4" x2="125.4" y2="370.4" stroke="#1a1a1a" stroke-width="1.4"/>
<text x="102.2" y="378.6" font-size="23.0" text-anchor="end" font-weight="normal" textLength="64.2" lengthAdjust="spacingAndGlyphs">2,000</text>
<line x1="113.3" y1="257.2" x2="125.4" y2="257.2" stroke="#1a1a1a" stroke-width="1.4"/>
<text x="102.2" y="265.4" font-size="23.0" text-anchor="end" font-weight="normal" textLength="64.3" lengthAdjust="spacingAndGlyphs">3,000</text>
<line x1="113.3" y1="144.1" x2="125.4" y2="144.1" stroke="#1a1a1a" stroke-width="1.4"/>
<text x="102.2" y="152.3" font-size="23.0" text-anchor="end" font-weight="normal" textLength="65.4" lengthAdjust="spacingAndGlyphs">4,000</text>
<line x1="113.3" y1="31.0" x2="125.4" y2="31.0" stroke="#1a1a1a" stroke-width="1.4"/>
<text x="102.2" y="39.2" font-size="23.0" text-anchor="end" font-weight="normal" textLength="64.6" lengthAdjust="spacingAndGlyphs">5,000</text>
<line x1="133.9" y1="607.8" x2="133.9" y2="619.5" stroke="#1a1a1a" stroke-width="1.5"/>
<text x="133.2" y="648.2" font-size="23.0" text-anchor="middle" font-weight="normal">0</text>
<line x1="224.3" y1="607.8" x2="224.3" y2="619.5" stroke="#1a1a1a" stroke-width="1.5"/>
<text x="223.6" y="648.2" font-size="23.0" text-anchor="middle" font-weight="normal" textLength="29.0" lengthAdjust="spacingAndGlyphs">10</text>
<line x1="314.7" y1="607.8" x2="314.7" y2="619.5" stroke="#1a1a1a" stroke-width="1.5"/>
<text x="314.0" y="648.2" font-size="23.0" text-anchor="middle" font-weight="normal" textLength="29.0" lengthAdjust="spacingAndGlyphs">20</text>
<line x1="405.1" y1="607.8" x2="405.1" y2="619.5" stroke="#1a1a1a" stroke-width="1.5"/>
<text x="404.4" y="648.2" font-size="23.0" text-anchor="middle" font-weight="normal" textLength="29.0" lengthAdjust="spacingAndGlyphs">30</text>
<line x1="495.5" y1="607.8" x2="495.5" y2="619.5" stroke="#1a1a1a" stroke-width="1.5"/>
<text x="494.8" y="648.2" font-size="23.0" text-anchor="middle" font-weight="normal" textLength="29.0" lengthAdjust="spacingAndGlyphs">40</text>
<line x1="585.9" y1="607.8" x2="585.9" y2="619.5" stroke="#1a1a1a" stroke-width="1.5"/>
<text x="585.2" y="648.2" font-size="23.0" text-anchor="middle" font-weight="normal" textLength="29.0" lengthAdjust="spacingAndGlyphs">50</text>
<line x1="676.3" y1="607.8" x2="676.3" y2="619.5" stroke="#1a1a1a" stroke-width="1.5"/>
<text x="675.6" y="648.2" font-size="23.0" text-anchor="middle" font-weight="normal" textLength="29.0" lengthAdjust="spacingAndGlyphs">60</text>
<text x="23.6" y="319.0" font-size="27.5" text-anchor="middle" font-weight="normal" textLength="141.0" lengthAdjust="spacingAndGlyphs" transform="rotate(-90 23.6 319.0)">Runtime (s)</text>
<text x="360.8" y="688.8" font-size="27.5" textLength="107" lengthAdjust="spacingAndGlyphs"><tspan font-style="italic">N</tspan> chains</text>
<text x="0.5" y="29.2" font-size="39.0" text-anchor="start" font-weight="bold" stroke="#000" stroke-width="0.8">a</text>
<rect x="846.7" y="32.5" width="574.3" height="575.0" fill="#e4e4e4"/>
<rect x="846.7" y="391.9" width="574.3" height="143.2" fill="#fff"/>
<text x="1296.0" y="383.1" font-size="27.5" textLength="88.8" lengthAdjust="spacingAndGlyphs"><tspan font-style="italic">N</tspan> = 314</text>
<text x="1296.0" y="526.6" font-size="27.5" textLength="115.4" lengthAdjust="spacingAndGlyphs"><tspan font-style="italic">N</tspan> = 3,245</text>
<text x="1296.0" y="601.5" font-size="27.5" textLength="63.2" lengthAdjust="spacingAndGlyphs"><tspan font-style="italic">N</tspan> = 0</text>
<g>
<line x1="873.5" y1="463.1" x2="1012.0" y2="463.1" stroke="#000" stroke-width="16.5" stroke-linecap="round"/>
<line x1="1012.0" y1="462.9" x2="1394.6" y2="462.9" stroke="#000" stroke-width="14.8" stroke-linecap="round"/>
<path d="M865,463 L888,432 Q896,422 905,427 L913,440 L917,457 L870,468 Z" fill="#000" fill-opacity="0.88"/>
<circle class="fa0" cx="1219.6" cy="85.8" r="7.2"/><circle class="sa0" cx="1219.6" cy="85.8" r="6.2"/>
<circle class="fa0" cx="1219.7" cy="85.3" r="7.2"/><circle class="sa0" cx="1219.7" cy="85.3" r="6.2"/>
<circle class="fa1" cx="1236.1" cy="92.2" r="7.2"/><circle class="sa1" cx="1236.1" cy="92.2" r="6.2"/>
<circle class="fa1" cx="1201.0" cy="96.8" r="7.2"/><circle class="sa1" cx="1201.0" cy="96.8" r="6.2"/>
<circle class="fa1" cx="1188.0" cy="115.8" r="7.2"/><circle class="sa1" cx="1188.0" cy="115.8" r="6.2"/>
<circle class="fa1" cx="1219.8" cy="117.7" r="7.2"/><circle class="sa1" cx="1219.8" cy="117.7" r="6.2"/>
<circle class="fa1" cx="1152.9" cy="143.6" r="7.2"/><circle class="sa1" cx="1152.9" cy="143.6" r="6.2"/>
<circle class="fa1" cx="1204.3" cy="151.4" r="7.2"/><circle class="sa1" cx="1204.3" cy="151.4" r="6.2"/>
<circle class="fa1" cx="1205.4" cy="151.7" r="7.2"/><circle class="sa1" cx="1205.4" cy="151.7" r="6.2"/>
<circle class="fa1" cx="1205.4" cy="151.6" r="7.2"/><circle class="sa1" cx="1205.4" cy="151.6" r="6.2"/>
<circle class="fa1" cx="1204.8" cy="147.8" r="7.2"/><circle class="sa1" cx="1204.8" cy="147.8" r="6.2"/>
<circle class="fa1" cx="1229.6" cy="154.5" r="7.2"/><circle class="sa1" cx="1229.6" cy="154.5" r="6.2"/>
<circle class="fa1" cx="1228.7" cy="154.8" r="7.2"/><circle class="sa1" cx="1228.7" cy="154.8" r="6.2"/>
<circle class="fa1" cx="1229.7" cy="154.7" r="7.2"/><circle class="sa1" cx="1229.7" cy="154.7" r="6.2"/>
<circle class="fa1" cx="1255.5" cy="155.5" r="7.2"/><circle class="sa1" cx="1255.5" cy="155.5" r="6.2"/>
<circle class="fa1" cx="1317.6" cy="146.3" r="7.2"/><circle class="sa1" cx="1317.6" cy="146.3" r="6.2"/>
<circle class="fa1" cx="1312.6" cy="167.2" r="7.2"/><circle class="sa1" cx="1312.6" cy="167.2" r="6.2"/>
<circle class="fa1" cx="1193.7" cy="172.4" r="7.2"/><circle class="sa1" cx="1193.7" cy="172.4" r="6.2"/>
<circle class="fa1" cx="1194.7" cy="178.1" r="7.2"/><circle class="sa1" cx="1194.7" cy="178.1" r="6.2"/>
<circle class="fa1" cx="1186.8" cy="182.0" r="7.2"/><circle class="sa1" cx="1186.8" cy="182.0" r="6.2"/>
<circle class="fa1" cx="1186.9" cy="182.3" r="7.2"/><circle class="sa1" cx="1186.9" cy="182.3" r="6.2"/>
<circle class="fa1" cx="1187.6" cy="182.6" r="7.2"/><circle class="sa1" cx="1187.6" cy="182.6" r="6.2"/>
<circle class="fa1" cx="1187.7" cy="182.2" r="7.2"/><circle class="sa1" cx="1187.7" cy="182.2" r="6.2"/>
<circle class="fa1" cx="1187.6" cy="182.8" r="7.2"/><circle class="sa1" cx="1187.6" cy="182.8" r="6.2"/>
<circle class="fa1" cx="1229.4" cy="170.1" r="7.2"/><circle class="sa1" cx="1229.4" cy="170.1" r="6.2"/>
<circle class="fa1" cx="1229.5" cy="175.9" r="7.2"/><circle class="sa1" cx="1229.5" cy="175.9" r="6.2"/>
<circle class="fa1" cx="1230.1" cy="175.7" r="7.2"/><circle class="sa1" cx="1230.1" cy="175.7" r="6.2"/>
<circle class="fa1" cx="1229.4" cy="174.7" r="7.2"/><circle class="sa1" cx="1229.4" cy="174.7" r="6.2"/>
<circle class="fa1" cx="1229.6" cy="175.0" r="7.2"/><circle class="sa1" cx="1229.6" cy="175.0" r="6.2"/>
<circle class="fa1" cx="1146.0" cy="195.8" r="7.2"/><circle class="sa1" cx="1146.0" cy="195.8" r="6.2"/>
<circle class="fa1" cx="1173.2" cy="199.0" r="7.2"/><circle class="sa1" cx="1173.2" cy="199.0" r="6.2"/>
<circle class="fa1" cx="1172.6" cy="198.4" r="7.2"/><circle class="sa1" cx="1172.6" cy="198.4" r="6.2"/>
<circle class="fa1" cx="1172.5" cy="199.5" r="7.2"/><circle class="sa1" cx="1172.5" cy="199.5" r="6.2"/>
<circle class="fa1" cx="1202.0" cy="195.4" r="7.2"/><circle class="sa1" cx="1202.0" cy="195.4" r="6.2"/>
<circle class="fa1" cx="1243.3" cy="195.9" r="7.2"/><circle class="sa1" cx="1243.3" cy="195.9" r="6.2"/>
<circle class="fa1" cx="1244.0" cy="195.1" r="7.2"/><circle class="sa1" cx="1244.0" cy="195.1" r="6.2"/>
<circle class="fa1" cx="1250.7" cy="198.6" r="7.2"/><circle class="sa1" cx="1250.7" cy="198.6" r="6.2"/>
<circle class="fa1" cx="1249.9" cy="197.8" r="7.2"/><circle class="sa1" cx="1249.9" cy="197.8" r="6.2"/>
<circle class="fa1" cx="1250.6" cy="197.4" r="7.2"/><circle class="sa1" cx="1250.6" cy="197.4" r="6.2"/>
<circle class="fa1" cx="1251.0" cy="197.9" r="7.2"/><circle class="sa1" cx="1251.0" cy="197.9" r="6.2"/>
<circle class="fa1" cx="1257.4" cy="199.0" r="7.2"/><circle class="sa1" cx="1257.4" cy="199.0" r="6.2"/>
<circle class="fa1" cx="1235.5" cy="205.9" r="7.2"/><circle class="sa1" cx="1235.5" cy="205.9" r="6.2"/>
<circle class="fa0" cx="1081.8" cy="236.2" r="7.2"/><circle class="sa0" cx="1081.8" cy="236.2" r="6.2"/>
<circle class="fa0" cx="1082.9" cy="236.3" r="7.2"/><circle class="sa0" cx="1082.9" cy="236.3" r="6.2"/>
<circle class="fa1" cx="1063.9" cy="251.4" r="7.2"/><circle class="sa1" cx="1063.9" cy="251.4" r="6.2"/>
<circle class="fa1" cx="1077.9" cy="258.1" r="7.2"/><circle class="sa1" cx="1077.9" cy="258.1" r="6.2"/>
<circle class="fa1" cx="1123.1" cy="265.6" r="7.2"/><circle class="sa1" cx="1123.1" cy="265.6" r="6.2"/>
<circle class="fa1" cx="1122.5" cy="264.7" r="7.2"/><circle class="sa1" cx="1122.5" cy="264.7" r="6.2"/>
<circle class="fa0" cx="1123.6" cy="270.3" r="7.2"/><circle class="sa0" cx="1123.6" cy="270.3" r="6.2"/>
<circle class="fa0" cx="1123.0" cy="270.0" r="7.2"/><circle class="sa0" cx="1123.0" cy="270.0" r="6.2"/>
<circle class="fa1" cx="1105.0" cy="271.7" r="7.2"/><circle class="sa1" cx="1105.0" cy="271.7" r="6.2"/>
<circle class="fa1" cx="1098.8" cy="279.0" r="7.2"/><circle class="sa1" cx="1098.8" cy="279.0" r="6.2"/>
<circle class="fa2" cx="1108.1" cy="283.2" r="7.2"/><circle class="sa2" cx="1108.1" cy="283.2" r="6.2"/>
<circle class="fa1" cx="1114.5" cy="287.4" r="7.2"/><circle class="sa1" cx="1114.5" cy="287.4" r="6.2"/>
<circle class="fa1" cx="1106.0" cy="278.0" r="7.2"/><circle class="sa1" cx="1106.0" cy="278.0" r="6.2"/>
<circle class="fa3" cx="1087.3" cy="287.8" r="7.2"/><circle class="sa3" cx="1087.3" cy="287.8" r="6.2"/>
<circle class="fa1" cx="1054.3" cy="280.7" r="7.2"/><circle class="sa1" cx="1054.3" cy="280.7" r="6.2"/>
<circle class="fa1" cx="1046.0" cy="290.2" r="7.2"/><circle class="sa1" cx="1046.0" cy="290.2" r="6.2"/>
<circle class="fa1" cx="1047.0" cy="289.8" r="7.2"/><circle class="sa1" cx="1047.0" cy="289.8" r="6.2"/>
<circle class="fa1" cx="1045.8" cy="290.6" r="7.2"/><circle class="sa1" cx="1045.8" cy="290.6" r="6.2"/>
<circle class="fa1" cx="1047.2" cy="290.8" r="7.2"/><circle class="sa1" cx="1047.2" cy="290.8" r="6.2"/>
<circle class="fa1" cx="1058.0" cy="291.6" r="7.2"/><circle class="sa1" cx="1058.0" cy="291.6" r="6.2"/>
<circle class="fa1" cx="1041.3" cy="295.7" r="7.2"/><circle class="sa1" cx="1041.3" cy="295.7" r="6.2"/>
<circle class="fa1" cx="1017.5" cy="293.2" r="7.2"/><circle class="sa1" cx="1017.5" cy="293.2" r="6.2"/>
<circle class="fa0" cx="1106.2" cy="300.3" r="7.2"/><circle class="sa0" cx="1106.2" cy="300.3" r="6.2"/>
<circle class="fa0" cx="1106.9" cy="300.6" r="7.2"/><circle class="sa0" cx="1106.9" cy="300.6" r="6.2"/>
<circle class="fa2" cx="1078.9" cy="310.4" r="7.2"/><circle class="sa2" cx="1078.9" cy="310.4" r="6.2"/>
<circle class="fa1" cx="1078.9" cy="307.2" r="7.2"/><circle class="sa1" cx="1078.9" cy="307.2" r="6.2"/>
<circle class="fa1" cx="1008.4" cy="329.5" r="7.2"/><circle class="sa1" cx="1008.4" cy="329.5" r="6.2"/>
<circle class="fa1" cx="1009.6" cy="329.1" r="7.2"/><circle class="sa1" cx="1009.6" cy="329.1" r="6.2"/>
<circle class="fa1" cx="1135.4" cy="312.5" r="7.2"/><circle class="sa1" cx="1135.4" cy="312.5" r="6.2"/>
<circle class="fa0" cx="1241.3" cy="227.1" r="7.2"/><circle class="sa0" cx="1241.3" cy="227.1" r="6.2"/>
<circle class="fa0" cx="1241.8" cy="227.1" r="7.2"/><circle class="sa0" cx="1241.8" cy="227.1" r="6.2"/>
<circle class="fa1" cx="1266.8" cy="224.1" r="7.2"/><circle class="sa1" cx="1266.8" cy="224.1" r="6.2"/>
<circle class="fa1" cx="1177.0" cy="242.5" r="7.2"/><circle class="sa1" cx="1177.0" cy="242.5" r="6.2"/>
<circle class="fa1" cx="1137.8" cy="248.3" r="7.2"/><circle class="sa1" cx="1137.8" cy="248.3" r="6.2"/>
<circle class="fa1" cx="1136.8" cy="248.5" r="7.2"/><circle class="sa1" cx="1136.8" cy="248.5" r="6.2"/>
<circle class="fa1" cx="1138.0" cy="248.3" r="7.2"/><circle class="sa1" cx="1138.0" cy="248.3" r="6.2"/>
<circle class="fa1" cx="1136.2" cy="251.9" r="7.2"/><circle class="sa1" cx="1136.2" cy="251.9" r="6.2"/>
<circle class="fa1" cx="1258.5" cy="241.0" r="7.2"/><circle class="sa1" cx="1258.5" cy="241.0" r="6.2"/>
<circle class="fa1" cx="1255.6" cy="248.4" r="7.2"/><circle class="sa1" cx="1255.6" cy="248.4" r="6.2"/>
<circle class="fa1" cx="1256.8" cy="247.9" r="7.2"/><circle class="sa1" cx="1256.8" cy="247.9" r="6.2"/>
<circle class="fa1" cx="1256.3" cy="249.3" r="7.2"/><circle class="sa1" cx="1256.3" cy="249.3" r="6.2"/>
<circle class="fa1" cx="1255.9" cy="249.4" r="7.2"/><circle class="sa1" cx="1255.9" cy="249.4" r="6.2"/>
<circle class="fa1" cx="1247.0" cy="251.9" r="7.2"/><circle class="sa1" cx="1247.0" cy="251.9" r="6.2"/>
<circle class="fa1" cx="1246.0" cy="256.0" r="7.2"/><circle class="sa1" cx="1246.0" cy="256.0" r="6.2"/>
<circle class="fa1" cx="1238.9" cy="267.4" r="7.2"/><circle class="sa1" cx="1238.9" cy="267.4" r="6.2"/>
<circle class="fa1" cx="1238.8" cy="267.9" r="7.2"/><circle class="sa1" cx="1238.8" cy="267.9" r="6.2"/>
<circle class="fa1" cx="1238.7" cy="268.1" r="7.2"/><circle class="sa1" cx="1238.7" cy="268.1" r="6.2"/>
<circle class="fa1" cx="1238.2" cy="267.3" r="7.2"/><circle class="sa1" cx="1238.2" cy="267.3" r="6.2"/>
<circle class="fa1" cx="1239.2" cy="267.5" r="7.2"/><circle class="sa1" cx="1239.2" cy="267.5" r="6.2"/>
<circle class="fa1" cx="1231.3" cy="268.6" r="7.2"/><circle class="sa1" cx="1231.3" cy="268.6" r="6.2"/>
<circle class="fa1" cx="1249.0" cy="268.6" r="7.2"/><circle class="sa1" cx="1249.0" cy="268.6" r="6.2"/>
<circle class="fa1" cx="1217.7" cy="275.9" r="7.2"/><circle class="sa1" cx="1217.7" cy="275.9" r="6.2"/>
<circle class="fa1" cx="1225.6" cy="278.5" r="7.2"/><circle class="sa1" cx="1225.6" cy="278.5" r="6.2"/>
<circle class="fa1" cx="1226.8" cy="277.8" r="7.2"/><circle class="sa1" cx="1226.8" cy="277.8" r="6.2"/>
<circle class="fa1" cx="1225.4" cy="277.9" r="7.2"/><circle class="sa1" cx="1225.4" cy="277.9" r="6.2"/>
<circle class="fa1" cx="1233.3" cy="282.0" r="7.2"/><circle class="sa1" cx="1233.3" cy="282.0" r="6.2"/>
<circle class="fa1" cx="1234.0" cy="281.7" r="7.2"/><circle class="sa1" cx="1234.0" cy="281.7" r="6.2"/>
<circle class="fa1" cx="1222.9" cy="283.2" r="7.2"/><circle class="sa1" cx="1222.9" cy="283.2" r="6.2"/>
<circle class="fa1" cx="1266.8" cy="285.7" r="7.2"/><circle class="sa1" cx="1266.8" cy="285.7" r="6.2"/>
<circle class="fa1" cx="1337.0" cy="268.0" r="7.2"/><circle class="sa1" cx="1337.0" cy="268.0" r="6.2"/>
<circle class="fa1" cx="1336.0" cy="269.0" r="7.2"/><circle class="sa1" cx="1336.0" cy="269.0" r="6.2"/>
<circle class="fa1" cx="1143.5" cy="267.5" r="7.2"/><circle class="sa1" cx="1143.5" cy="267.5" r="6.2"/>
<circle class="fa1" cx="1151.4" cy="277.3" r="7.2"/><circle class="sa1" cx="1151.4" cy="277.3" r="6.2"/>
<circle class="fa1" cx="1151.0" cy="277.0" r="7.2"/><circle class="sa1" cx="1151.0" cy="277.0" r="6.2"/>
<circle class="fa1" cx="1156.1" cy="281.1" r="7.2"/><circle class="sa1" cx="1156.1" cy="281.1" r="6.2"/>
<circle class="fa1" cx="1140.4" cy="282.2" r="7.2"/><circle class="sa1" cx="1140.4" cy="282.2" r="6.2"/>
<circle class="fa1" cx="1177.4" cy="273.4" r="7.2"/><circle class="sa1" cx="1177.4" cy="273.4" r="6.2"/>
<circle class="fa1" cx="1179.2" cy="296.1" r="7.2"/><circle class="sa1" cx="1179.2" cy="296.1" r="6.2"/>
<circle class="fa1" cx="1179.0" cy="295.9" r="7.2"/><circle class="sa1" cx="1179.0" cy="295.9" r="6.2"/>
<circle class="fa1" cx="1179.5" cy="295.7" r="7.2"/><circle class="sa1" cx="1179.5" cy="295.7" r="6.2"/>
<circle class="fa1" cx="1191.6" cy="296.8" r="7.2"/><circle class="sa1" cx="1191.6" cy="296.8" r="6.2"/>
<circle class="fa1" cx="1198.9" cy="301.0" r="7.2"/><circle class="sa1" cx="1198.9" cy="301.0" r="6.2"/>
<circle class="fa1" cx="1207.3" cy="306.2" r="7.2"/><circle class="sa1" cx="1207.3" cy="306.2" r="6.2"/>
<circle class="fa1" cx="1214.6" cy="311.7" r="7.2"/><circle class="sa1" cx="1214.6" cy="311.7" r="6.2"/>
<circle class="fa1" cx="1215.0" cy="311.5" r="7.2"/><circle class="sa1" cx="1215.0" cy="311.5" r="6.2"/>
<circle class="fa1" cx="1222.9" cy="295.7" r="7.2"/><circle class="sa1" cx="1222.9" cy="295.7" r="6.2"/>
<circle class="fa4" cx="1230.2" cy="301.0" r="7.2"/><circle class="sa4" cx="1230.2" cy="301.0" r="6.2"/>
<circle class="fa1" cx="1252.9" cy="312.3" r="7.2"/><circle class="sa1" cx="1252.9" cy="312.3" r="6.2"/>
<circle class="fa1" cx="1253.2" cy="313.0" r="7.2"/><circle class="sa1" cx="1253.2" cy="313.0" r="6.2"/>
<circle class="fa1" cx="1253.0" cy="312.7" r="7.2"/><circle class="sa1" cx="1253.0" cy="312.7" r="6.2"/>
<circle class="fa1" cx="1253.7" cy="311.8" r="7.2"/><circle class="sa1" cx="1253.7" cy="311.8" r="6.2"/>
<circle class="fa1" cx="1252.6" cy="312.6" r="7.2"/><circle class="sa1" cx="1252.6" cy="312.6" r="6.2"/>
<circle class="fa1" cx="1145.8" cy="307.3" r="7.2"/><circle class="sa1" cx="1145.8" cy="307.3" r="6.2"/>
<circle class="fa1" cx="1145.3" cy="307.6" r="7.2"/><circle class="sa1" cx="1145.3" cy="307.6" r="6.2"/>
<circle class="fa1" cx="1145.8" cy="306.9" r="7.2"/><circle class="sa1" cx="1145.8" cy="306.9" r="6.2"/>
<circle class="fa1" cx="1146.5" cy="307.3" r="7.2"/><circle class="sa1" cx="1146.5" cy="307.3" r="6.2"/>
<circle class="fa1" cx="1135.2" cy="312.5" r="7.2"/><circle class="sa1" cx="1135.2" cy="312.5" r="6.2"/>
<circle class="fa1" cx="1156.8" cy="312.4" r="7.2"/><circle class="sa1" cx="1156.8" cy="312.4" r="6.2"/>
<circle class="fa1" cx="1157.0" cy="312.5" r="7.2"/><circle class="sa1" cx="1157.0" cy="312.5" r="6.2"/>
<circle class="fa1" cx="1156.2" cy="312.3" r="7.2"/><circle class="sa1" cx="1156.2" cy="312.3" r="6.2"/>
<circle class="fa1" cx="1177.5" cy="310.8" r="7.2"/><circle class="sa1" cx="1177.5" cy="310.8" r="6.2"/>
<circle class="fa1" cx="1177.0" cy="311.9" r="7.2"/><circle class="sa1" cx="1177.0" cy="311.9" r="6.2"/>
<circle class="fa1" cx="1177.4" cy="312.1" r="7.2"/><circle class="sa1" cx="1177.4" cy="312.1" r="6.2"/>
<circle class="fa1" cx="1176.2" cy="311.2" r="7.2"/><circle class="sa1" cx="1176.2" cy="311.2" r="6.2"/>
<circle class="fa1" cx="1185.3" cy="311.4" r="7.2"/><circle class="sa1" cx="1185.3" cy="311.4" r="6.2"/>
<circle class="fa1" cx="1009.0" cy="333.9" r="7.2"/><circle class="sa1" cx="1009.0" cy="333.9" r="6.2"/>
<circle class="fa1" cx="1009.5" cy="332.7" r="7.2"/><circle class="sa1" cx="1009.5" cy="332.7" r="6.2"/>
<circle class="fa1" cx="1009.7" cy="332.9" r="7.2"/><circle class="sa1" cx="1009.7" cy="332.9" r="6.2"/>
<circle class="fa1" cx="1073.8" cy="326.3" r="7.2"/><circle class="sa1" cx="1073.8" cy="326.3" r="6.2"/>
<circle class="fa1" cx="1073.6" cy="327.6" r="7.2"/><circle class="sa1" cx="1073.6" cy="327.6" r="6.2"/>
<circle class="fa1" cx="1073.4" cy="327.1" r="7.2"/><circle class="sa1" cx="1073.4" cy="327.1" r="6.2"/>
<circle class="fa1" cx="1074.0" cy="327.1" r="7.2"/><circle class="sa1" cx="1074.0" cy="327.1" r="6.2"/>
<circle class="fa1" cx="1073.5" cy="327.7" r="7.2"/><circle class="sa1" cx="1073.5" cy="327.7" r="6.2"/>
<circle class="fa1" cx="1092.5" cy="331.1" r="7.2"/><circle class="sa1" cx="1092.5" cy="331.1" r="6.2"/>
<circle class="fa1" cx="1092.7" cy="331.0" r="7.2"/><circle class="sa1" cx="1092.7" cy="331.0" r="6.2"/>
<circle class="fa1" cx="1092.4" cy="331.1" r="7.2"/><circle class="sa1" cx="1092.4" cy="331.1" r="6.2"/>
<circle class="fa1" cx="1092.0" cy="331.7" r="7.2"/><circle class="sa1" cx="1092.0" cy="331.7" r="6.2"/>
<circle class="fa1" cx="1099.5" cy="333.4" r="7.2"/><circle class="sa1" cx="1099.5" cy="333.4" r="6.2"/>
<circle class="fa1" cx="1098.8" cy="332.4" r="7.2"/><circle class="sa1" cx="1098.8" cy="332.4" r="6.2"/>
<circle class="fa1" cx="1084.6" cy="341.6" r="7.2"/><circle class="sa1" cx="1084.6" cy="341.6" r="6.2"/>
<circle class="fa1" cx="1083.8" cy="341.4" r="7.2"/><circle class="sa1" cx="1083.8" cy="341.4" r="6.2"/>
<circle class="fa1" cx="1084.9" cy="342.5" r="7.2"/><circle class="sa1" cx="1084.9" cy="342.5" r="6.2"/>
<circle class="fa1" cx="1085.0" cy="341.7" r="7.2"/><circle class="sa1" cx="1085.0" cy="341.7" r="6.2"/>
<circle class="fa1" cx="1067.0" cy="343.2" r="7.2"/><circle class="sa1" cx="1067.0" cy="343.2" r="6.2"/>
<circle class="fa1" cx="1061.6" cy="351.3" r="7.2"/><circle class="sa1" cx="1061.6" cy="351.3" r="6.2"/>
<circle class="fa1" cx="1061.9" cy="352.6" r="7.2"/><circle class="sa1" cx="1061.9" cy="352.6" r="6.2"/>
<circle class="fa1" cx="1079.6" cy="356.4" r="7.2"/><circle class="sa1" cx="1079.6" cy="356.4" r="6.2"/>
<circle class="fa1" cx="1080.6" cy="355.6" r="7.2"/><circle class="sa1" cx="1080.6" cy="355.6" r="6.2"/>
<circle class="fa1" cx="1079.3" cy="356.2" r="7.2"/><circle class="sa1" cx="1079.3" cy="356.2" r="6.2"/>
<circle class="fa1" cx="1079.9" cy="355.3" r="7.2"/><circle class="sa1" cx="1079.9" cy="355.3" r="6.2"/>
<circle class="fa1" cx="1071.5" cy="367.3" r="7.2"/><circle class="sa1" cx="1071.5" cy="367.3" r="6.2"/>
<circle class="fa1" cx="1072.0" cy="366.5" r="7.2"/><circle class="sa1" cx="1072.0" cy="366.5" r="6.2"/>
<circle class="fa1" cx="1071.8" cy="367.7" r="7.2"/><circle class="sa1" cx="1071.8" cy="367.7" r="6.2"/>
<circle class="fa1" cx="1072.0" cy="366.9" r="7.2"/><circle class="sa1" cx="1072.0" cy="366.9" r="6.2"/>
<circle class="fa1" cx="1070.9" cy="367.5" r="7.2"/><circle class="sa1" cx="1070.9" cy="367.5" r="6.2"/>
<circle class="fa1" cx="1071.4" cy="367.1" r="7.2"/><circle class="sa1" cx="1071.4" cy="367.1" r="6.2"/>
<circle class="fa1" cx="1091.5" cy="371.2" r="7.2"/><circle class="sa1" cx="1091.5" cy="371.2" r="6.2"/>
<circle class="fa1" cx="1089.9" cy="371.2" r="7.2"/><circle class="sa1" cx="1089.9" cy="371.2" r="6.2"/>
<circle class="fa1" cx="1019.5" cy="367.0" r="7.2"/><circle class="sa1" cx="1019.5" cy="367.0" r="6.2"/>
<circle class="fa1" cx="1040.8" cy="371.6" r="7.2"/><circle class="sa1" cx="1040.8" cy="371.6" r="6.2"/>
<circle class="fa1" cx="1041.8" cy="370.9" r="7.2"/><circle class="sa1" cx="1041.8" cy="370.9" r="6.2"/>
<circle class="fa1" cx="1041.6" cy="371.8" r="7.2"/><circle class="sa1" cx="1041.6" cy="371.8" r="6.2"/>
<circle class="fa1" cx="1143.7" cy="309.3" r="7.2"/><circle class="sa1" cx="1143.7" cy="309.3" r="6.2"/>
<circle class="fa1" cx="1143.7" cy="309.2" r="7.2"/><circle class="sa1" cx="1143.7" cy="309.2" r="6.2"/>
<circle class="fa1" cx="1144.3" cy="309.2" r="7.2"/><circle class="sa1" cx="1144.3" cy="309.2" r="6.2"/>
<circle class="fa1" cx="1143.3" cy="309.1" r="7.2"/><circle class="sa1" cx="1143.3" cy="309.1" r="6.2"/>
<circle class="fa1" cx="1143.0" cy="308.2" r="7.2"/><circle class="sa1" cx="1143.0" cy="308.2" r="6.2"/>
<circle class="fa1" cx="1121.3" cy="356.6" r="7.2"/><circle class="sa1" cx="1121.3" cy="356.6" r="6.2"/>
<circle class="fa1" cx="1121.4" cy="356.2" r="7.2"/><circle class="sa1" cx="1121.4" cy="356.2" r="6.2"/>
<circle class="fa1" cx="1122.0" cy="356.2" r="7.2"/><circle class="sa1" cx="1122.0" cy="356.2" r="6.2"/>
<circle class="fa1" cx="1121.7" cy="356.3" r="7.2"/><circle class="sa1" cx="1121.7" cy="356.3" r="6.2"/>
<circle class="fa1" cx="1122.9" cy="356.2" r="7.2"/><circle class="sa1" cx="1122.9" cy="356.2" r="6.2"/>
<circle class="fa1" cx="1122.4" cy="356.7" r="7.2"/><circle class="sa1" cx="1122.4" cy="356.7" r="6.2"/>
<circle class="fa1" cx="1122.0" cy="355.5" r="7.2"/><circle class="sa1" cx="1122.0" cy="355.5" r="6.2"/>
<circle class="fa1" cx="1114.3" cy="363.3" r="7.2"/><circle class="sa1" cx="1114.3" cy="363.3" r="6.2"/>
<circle class="fa1" cx="1113.9" cy="362.4" r="7.2"/><circle class="sa1" cx="1113.9" cy="362.4" r="6.2"/>
<circle class="fa1" cx="1115.1" cy="363.1" r="7.2"/><circle class="sa1" cx="1115.1" cy="363.1" r="6.2"/>
<circle class="fa1" cx="1105.4" cy="362.1" r="7.2"/><circle class="sa1" cx="1105.4" cy="362.1" r="6.2"/>
<circle class="fa1" cx="1113.5" cy="366.5" r="7.2"/><circle class="sa1" cx="1113.5" cy="366.5" r="6.2"/>
<circle class="fa1" cx="1113.6" cy="365.4" r="7.2"/><circle class="sa1" cx="1113.6" cy="365.4" r="6.2"/>
<circle class="fa1" cx="992.6" cy="337.2" r="7.2"/><circle class="sa1" cx="992.6" cy="337.2" r="6.2"/>
<circle class="fa1" cx="993.8" cy="337.2" r="7.2"/><circle class="sa1" cx="993.8" cy="337.2" r="6.2"/>
<circle class="fa1" cx="946.7" cy="365.7" r="7.2"/><circle class="sa1" cx="946.7" cy="365.7" r="6.2"/>
<circle class="fa1" cx="1040.8" cy="374.3" r="7.2"/><circle class="sa1" cx="1040.8" cy="374.3" r="6.2"/>
<circle class="fa1" cx="1040.6" cy="374.6" r="7.2"/><circle class="sa1" cx="1040.6" cy="374.6" r="6.2"/>
<circle class="fa1" cx="1040.7" cy="374.9" r="7.2"/><circle class="sa1" cx="1040.7" cy="374.9" r="6.2"/>
<circle class="fa1" cx="1068.5" cy="344.8" r="7.2"/><circle class="sa1" cx="1068.5" cy="344.8" r="6.2"/>
<circle class="fa1" cx="1069.7" cy="370.0" r="7.2"/><circle class="sa1" cx="1069.7" cy="370.0" r="6.2"/>
<circle class="fa1" cx="1070.3" cy="369.1" r="7.2"/><circle class="sa1" cx="1070.3" cy="369.1" r="6.2"/>
<circle class="fa1" cx="1071.0" cy="369.7" r="7.2"/><circle class="sa1" cx="1071.0" cy="369.7" r="6.2"/>
<circle class="fa1" cx="1069.8" cy="369.6" r="7.2"/><circle class="sa1" cx="1069.8" cy="369.6" r="6.2"/>
<circle class="fa1" cx="1064.3" cy="375.1" r="7.2"/><circle class="sa1" cx="1064.3" cy="375.1" r="6.2"/>
<circle class="fa1" cx="1097.9" cy="333.1" r="7.2"/><circle class="sa1" cx="1097.9" cy="333.1" r="6.2"/>
<circle class="fa1" cx="1098.1" cy="333.8" r="7.2"/><circle class="sa1" cx="1098.1" cy="333.8" r="6.2"/>
<circle class="fa1" cx="1091.9" cy="377.4" r="7.2"/><circle class="sa1" cx="1091.9" cy="377.4" r="6.2"/>
<circle class="fa1" cx="1092.2" cy="377.5" r="7.2"/><circle class="sa1" cx="1092.2" cy="377.5" r="6.2"/>
<circle class="fa1" cx="1091.7" cy="376.4" r="7.2"/><circle class="sa1" cx="1091.7" cy="376.4" r="6.2"/>
<circle class="fa1" cx="1091.9" cy="377.8" r="7.2"/><circle class="sa1" cx="1091.9" cy="377.8" r="6.2"/>
<circle class="fa1" cx="1085.2" cy="372.0" r="7.2"/><circle class="sa1" cx="1085.2" cy="372.0" r="6.2"/>
<circle class="fa1" cx="1106.1" cy="362.6" r="7.2"/><circle class="sa1" cx="1106.1" cy="362.6" r="6.2"/>
<circle class="fa1" cx="1120.5" cy="357.1" r="7.2"/><circle class="sa1" cx="1120.5" cy="357.1" r="6.2"/>
<circle class="fa1" cx="1121.4" cy="356.8" r="7.2"/><circle class="sa1" cx="1121.4" cy="356.8" r="6.2"/>
<circle class="fa1" cx="1120.9" cy="358.3" r="7.2"/><circle class="sa1" cx="1120.9" cy="358.3" r="6.2"/>
<circle class="fa1" cx="1120.2" cy="357.8" r="7.2"/><circle class="sa1" cx="1120.2" cy="357.8" r="6.2"/>
<circle class="fa1" cx="1117.3" cy="364.6" r="7.2"/><circle class="sa1" cx="1117.3" cy="364.6" r="6.2"/>
<circle class="fa1" cx="1116.8" cy="365.2" r="7.2"/><circle class="sa1" cx="1116.8" cy="365.2" r="6.2"/>
<circle class="fa1" cx="1116.0" cy="364.6" r="7.2"/><circle class="sa1" cx="1116.0" cy="364.6" r="6.2"/>
<circle class="fa1" cx="1114.5" cy="387.7" r="7.2"/><circle class="sa1" cx="1114.5" cy="387.7" r="6.2"/>
<circle class="fa1" cx="974.5" cy="391.9" r="7.2"/><circle class="sa1" cx="974.5" cy="391.9" r="6.2"/>
<circle class="fa1" cx="980.9" cy="402.8" r="7.2"/><circle class="sa1" cx="980.9" cy="402.8" r="6.2"/>
<circle class="fa1" cx="980.7" cy="402.2" r="7.2"/><circle class="sa1" cx="980.7" cy="402.2" r="6.2"/>
<circle class="fa1" cx="980.1" cy="402.1" r="7.2"/><circle class="sa1" cx="980.1" cy="402.1" r="6.2"/>
<circle class="fa1" cx="981.2" cy="402.4" r="7.2"/><circle class="sa1" cx="981.2" cy="402.4" r="6.2"/>
<circle class="fa1" cx="974.5" cy="403.4" r="7.2"/><circle class="sa1" cx="974.5" cy="403.4" r="6.2"/>
<circle class="fa1" cx="912.3" cy="417.5" r="7.2"/><circle class="sa1" cx="912.3" cy="417.5" r="6.2"/>
<circle class="fa1" cx="913.6" cy="418.4" r="7.2"/><circle class="sa1" cx="913.6" cy="418.4" r="6.2"/>
<circle class="fa0" cx="970.5" cy="422.3" r="7.2"/><circle class="sa0" cx="970.5" cy="422.3" r="6.2"/>
<circle class="fa0" cx="970.7" cy="423.5" r="7.2"/><circle class="sa0" cx="970.7" cy="423.5" r="6.2"/>
<circle class="fa1" cx="974.5" cy="419.0" r="7.2"/><circle class="sa1" cx="974.5" cy="419.0" r="6.2"/>
<circle class="fa1" cx="924.3" cy="432.6" r="7.2"/><circle class="sa1" cx="924.3" cy="432.6" r="6.2"/>
<circle class="fa1" cx="938.9" cy="431.6" r="7.2"/><circle class="sa1" cx="938.9" cy="431.6" r="6.2"/>
<circle class="fa1" cx="935.6" cy="449.5" r="7.2"/><circle class="sa1" cx="935.6" cy="449.5" r="6.2"/>
<circle class="fa1" cx="934.8" cy="449.6" r="7.2"/><circle class="sa1" cx="934.8" cy="449.6" r="6.2"/>
<circle class="fa1" cx="926.4" cy="442.0" r="7.2"/><circle class="sa1" cx="926.4" cy="442.0" r="6.2"/>
<circle class="fa1" cx="950.7" cy="436.1" r="7.2"/><circle class="sa1" cx="950.7" cy="436.1" r="6.2"/>
<circle class="fa1" cx="951.7" cy="435.3" r="7.2"/><circle class="sa1" cx="951.7" cy="435.3" r="6.2"/>
<circle class="fa1" cx="952.0" cy="436.4" r="7.2"/><circle class="sa1" cx="952.0" cy="436.4" r="6.2"/>
<circle class="fa1" cx="950.8" cy="435.4" r="7.2"/><circle class="sa1" cx="950.8" cy="435.4" r="6.2"/>
<circle class="fa1" cx="951.7" cy="435.8" r="7.2"/><circle class="sa1" cx="951.7" cy="435.8" r="6.2"/>
<circle class="fa1" cx="951.3" cy="444.6" r="7.2"/><circle class="sa1" cx="951.3" cy="444.6" r="6.2"/>
<circle class="fa1" cx="952.3" cy="445.5" r="7.2"/><circle class="sa1" cx="952.3" cy="445.5" r="6.2"/>
<circle class="fa1" cx="951.0" cy="444.5" r="7.2"/><circle class="sa1" cx="951.0" cy="444.5" r="6.2"/>
<circle class="fa1" cx="952.2" cy="445.5" r="7.2"/><circle class="sa1" cx="952.2" cy="445.5" r="6.2"/>
<circle class="fa1" cx="909.7" cy="431.6" r="7.2"/><circle class="sa1" cx="909.7" cy="431.6" r="6.2"/>
<circle class="fa1" cx="984.9" cy="446.2" r="7.2"/><circle class="sa1" cx="984.9" cy="446.2" r="6.2"/>
<circle class="fa1" cx="1120.8" cy="392.3" r="7.2"/><circle class="sa1" cx="1120.8" cy="392.3" r="6.2"/>
<circle class="fa1" cx="1119.5" cy="392.2" r="7.2"/><circle class="sa1" cx="1119.5" cy="392.2" r="6.2"/>
<circle class="fa1" cx="912.0" cy="417.5" r="7.2"/><circle class="sa1" cx="912.0" cy="417.5" r="6.2"/>
<circle class="fa1" cx="912.8" cy="418.1" r="7.2"/><circle class="sa1" cx="912.8" cy="418.1" r="6.2"/>
<circle class="fa1" cx="925.2" cy="432.4" r="7.2"/><circle class="sa1" cx="925.2" cy="432.4" r="6.2"/>
<circle class="fa1" cx="939.3" cy="431.3" r="7.2"/><circle class="sa1" cx="939.3" cy="431.3" r="6.2"/>
<circle class="fa1" cx="924.2" cy="438.9" r="7.2"/><circle class="sa1" cx="924.2" cy="438.9" r="6.2"/>
<circle class="fa1" cx="938.2" cy="437.8" r="7.2"/><circle class="sa1" cx="938.2" cy="437.8" r="6.2"/>
<circle class="fa1" cx="933.5" cy="449.6" r="7.2"/><circle class="sa1" cx="933.5" cy="449.6" r="6.2"/>
<circle class="fa1" cx="934.2" cy="449.9" r="7.2"/><circle class="sa1" cx="934.2" cy="449.9" r="6.2"/>
<circle class="fa1" cx="929.6" cy="448.6" r="7.2"/><circle class="sa1" cx="929.6" cy="448.6" r="6.2"/>
<circle class="fa2" cx="910.1" cy="431.3" r="7.2"/><circle class="sa2" cx="910.1" cy="431.3" r="6.2"/>
<circle class="fa1" cx="952.7" cy="435.8" r="7.2"/><circle class="sa1" cx="952.7" cy="435.8" r="6.2"/>
<circle class="fa1" cx="952.1" cy="436.2" r="7.2"/><circle class="sa1" cx="952.1" cy="436.2" r="6.2"/>
<circle class="fa1" cx="952.3" cy="435.2" r="7.2"/><circle class="sa1" cx="952.3" cy="435.2" r="6.2"/>
<circle class="fa1" cx="951.9" cy="445.4" r="7.2"/><circle class="sa1" cx="951.9" cy="445.4" r="6.2"/>
<circle class="fa1" cx="952.2" cy="445.5" r="7.2"/><circle class="sa1" cx="952.2" cy="445.5" r="6.2"/>
<circle class="fa1" cx="952.3" cy="445.5" r="7.2"/><circle class="sa1" cx="952.3" cy="445.5" r="6.2"/>
<circle class="fa1" cx="948.9" cy="440.3" r="7.2"/><circle class="sa1" cx="948.9" cy="440.3" r="6.2"/>
<circle class="fa1" cx="949.2" cy="441.6" r="7.2"/><circle class="sa1" cx="949.2" cy="441.6" r="6.2"/>
<circle class="fa1" cx="949.3" cy="440.9" r="7.2"/><circle class="sa1" cx="949.3" cy="440.9" r="6.2"/>
<circle class="fa1" cx="969.8" cy="423.3" r="7.2"/><circle class="sa1" cx="969.8" cy="423.3" r="6.2"/>
<circle class="fa1" cx="968.8" cy="423.8" r="7.2"/><circle class="sa1" cx="968.8" cy="423.8" r="6.2"/>
<circle class="fa1" cx="969.1" cy="424.2" r="7.2"/><circle class="sa1" cx="969.1" cy="424.2" r="6.2"/>
<circle class="fa1" cx="975.0" cy="420.5" r="7.2"/><circle class="sa1" cx="975.0" cy="420.5" r="6.2"/>
<circle class="fa1" cx="979.0" cy="403.5" r="7.2"/><circle class="sa1" cx="979.0" cy="403.5" r="6.2"/>
<circle class="fa1" cx="978.8" cy="405.0" r="7.2"/><circle class="sa1" cx="978.8" cy="405.0" r="6.2"/>
<circle class="fa1" cx="966.3" cy="447.6" r="7.2"/><circle class="sa1" cx="966.3" cy="447.6" r="6.2"/>
<circle class="fa1" cx="977.1" cy="450.8" r="7.2"/><circle class="sa1" cx="977.1" cy="450.8" r="6.2"/>
<circle class="fa1" cx="911.0" cy="446.9" r="7.2"/><circle class="sa1" cx="911.0" cy="446.9" r="6.2"/>
<circle class="fa1" cx="910.8" cy="447.9" r="7.2"/><circle class="sa1" cx="910.8" cy="447.9" r="6.2"/>
<circle class="fa1" cx="911.5" cy="447.7" r="7.2"/><circle class="sa1" cx="911.5" cy="447.7" r="6.2"/>
<circle class="fa1" cx="911.9" cy="447.9" r="7.2"/><circle class="sa1" cx="911.9" cy="447.9" r="6.2"/>
<circle class="fa1" cx="917.7" cy="449.0" r="7.2"/><circle class="sa1" cx="917.7" cy="449.0" r="6.2"/>
<circle class="fa1" cx="918.4" cy="449.0" r="7.2"/><circle class="sa1" cx="918.4" cy="449.0" r="6.2"/>
<circle class="fa1" cx="918.2" cy="448.1" r="7.2"/><circle class="sa1" cx="918.2" cy="448.1" r="6.2"/>
<circle class="fa1" cx="897.9" cy="440.4" r="7.2"/><circle class="sa1" cx="897.9" cy="440.4" r="6.2"/>
<circle class="fa1" cx="897.8" cy="440.6" r="7.2"/><circle class="sa1" cx="897.8" cy="440.6" r="6.2"/>
<circle class="fa1" cx="898.3" cy="440.5" r="7.2"/><circle class="sa1" cx="898.3" cy="440.5" r="6.2"/>
<circle class="fa1" cx="897.9" cy="440.9" r="7.2"/><circle class="sa1" cx="897.9" cy="440.9" r="6.2"/>
<circle class="fa1" cx="898.7" cy="439.9" r="7.2"/><circle class="sa1" cx="898.7" cy="439.9" r="6.2"/>
<circle class="fa1" cx="898.0" cy="440.9" r="7.2"/><circle class="sa1" cx="898.0" cy="440.9" r="6.2"/>
<circle class="fa1" cx="902.8" cy="445.5" r="7.2"/><circle class="sa1" cx="902.8" cy="445.5" r="6.2"/>
<circle class="fa1" cx="903.6" cy="445.0" r="7.2"/><circle class="sa1" cx="903.6" cy="445.0" r="6.2"/>
<circle class="fa1" cx="902.4" cy="445.1" r="7.2"/><circle class="sa1" cx="902.4" cy="445.1" r="6.2"/>
<circle class="fa1" cx="903.2" cy="445.6" r="7.2"/><circle class="sa1" cx="903.2" cy="445.6" r="6.2"/>
<circle class="fa1" cx="900.5" cy="455.0" r="7.2"/><circle class="sa1" cx="900.5" cy="455.0" r="6.2"/>
<circle class="fa1" cx="900.5" cy="455.3" r="7.2"/><circle class="sa1" cx="900.5" cy="455.3" r="6.2"/>
<circle class="fa1" cx="900.1" cy="455.0" r="7.2"/><circle class="sa1" cx="900.1" cy="455.0" r="6.2"/>
<circle class="fa1" cx="899.9" cy="455.4" r="7.2"/><circle class="sa1" cx="899.9" cy="455.4" r="6.2"/>
<circle class="fa1" cx="899.4" cy="454.7" r="7.2"/><circle class="sa1" cx="899.4" cy="454.7" r="6.2"/>
<circle class="fa1" cx="1360.8" cy="454.0" r="7.2"/><circle class="sa1" cx="1360.8" cy="454.0" r="6.2"/>
<circle class="fa1" cx="1381.7" cy="455.0" r="7.2"/><circle class="sa1" cx="1381.7" cy="455.0" r="6.2"/>
<circle class="fa1" cx="1327.4" cy="456.0" r="7.2"/><circle class="sa1" cx="1327.4" cy="456.0" r="6.2"/>
<circle class="fa1" cx="1327.2" cy="455.9" r="7.2"/><circle class="sa1" cx="1327.2" cy="455.9" r="6.2"/>
<circle class="fa1" cx="939.6" cy="472.7" r="7.2"/><circle class="sa1" cx="939.6" cy="472.7" r="6.2"/>
<circle class="fa1" cx="940.3" cy="472.4" r="7.2"/><circle class="sa1" cx="940.3" cy="472.4" r="6.2"/>
<circle class="fa1" cx="1075.1" cy="473.8" r="7.2"/><circle class="sa1" cx="1075.1" cy="473.8" r="6.2"/>
<circle class="fa1" cx="1076.0" cy="474.7" r="7.2"/><circle class="sa1" cx="1076.0" cy="474.7" r="6.2"/>
<circle class="fa1" cx="1075.8" cy="474.1" r="7.2"/><circle class="sa1" cx="1075.8" cy="474.1" r="6.2"/>
<circle class="fa1" cx="1105.0" cy="472.4" r="7.2"/><circle class="sa1" cx="1105.0" cy="472.4" r="6.2"/>
<circle class="fa1" cx="1162.2" cy="472.6" r="7.2"/><circle class="sa1" cx="1162.2" cy="472.6" r="6.2"/>
<circle class="fa1" cx="1162.7" cy="473.9" r="7.2"/><circle class="sa1" cx="1162.7" cy="473.9" r="6.2"/>
<circle class="fa1" cx="1161.5" cy="473.4" r="7.2"/><circle class="sa1" cx="1161.5" cy="473.4" r="6.2"/>
<circle class="fa1" cx="1152.9" cy="516.3" r="7.2"/><circle class="sa1" cx="1152.9" cy="516.3" r="6.2"/>
<circle class="fa1" cx="1143.5" cy="469.3" r="7.2"/><circle class="sa1" cx="1143.5" cy="469.3" r="6.2"/>
<circle class="fa4" cx="1014.2" cy="382.9" r="7.2"/><circle class="sa4" cx="1014.2" cy="382.9" r="6.2"/>
<circle class="fa1" cx="1021.1" cy="393.8" r="7.2"/><circle class="sa1" cx="1021.1" cy="393.8" r="6.2"/>
<circle class="fa1" cx="1047.9" cy="383.8" r="7.2"/><circle class="sa1" cx="1047.9" cy="383.8" r="6.2"/>
<circle class="fa1" cx="1046.9" cy="384.2" r="7.2"/><circle class="sa1" cx="1046.9" cy="384.2" r="6.2"/>
<circle class="fa1" cx="1055.4" cy="385.1" r="7.2"/><circle class="sa1" cx="1055.4" cy="385.1" r="6.2"/>
<circle class="fa1" cx="1055.7" cy="386.0" r="7.2"/><circle class="sa1" cx="1055.7" cy="386.0" r="6.2"/>
<circle class="fa1" cx="1061.5" cy="383.5" r="7.2"/><circle class="sa1" cx="1061.5" cy="383.5" r="6.2"/>
<circle class="fa1" cx="1091.9" cy="382.7" r="7.2"/><circle class="sa1" cx="1091.9" cy="382.7" r="6.2"/>
<circle class="fa1" cx="1092.2" cy="382.8" r="7.2"/><circle class="sa1" cx="1092.2" cy="382.8" r="6.2"/>
<circle class="fa1" cx="1090.8" cy="382.0" r="7.2"/><circle class="sa1" cx="1090.8" cy="382.0" r="6.2"/>
<circle class="fa1" cx="1091.0" cy="381.8" r="7.2"/><circle class="sa1" cx="1091.0" cy="381.8" r="6.2"/>
<circle class="fa1" cx="1084.5" cy="386.9" r="7.2"/><circle class="sa1" cx="1084.5" cy="386.9" r="6.2"/>
<circle class="fa1" cx="1100.6" cy="401.9" r="7.2"/><circle class="sa1" cx="1100.6" cy="401.9" r="6.2"/>
<circle class="fa1" cx="1100.9" cy="401.2" r="7.2"/><circle class="sa1" cx="1100.9" cy="401.2" r="6.2"/>
<circle class="fa1" cx="1100.0" cy="401.9" r="7.2"/><circle class="sa1" cx="1100.0" cy="401.9" r="6.2"/>
<circle class="fa1" cx="1100.6" cy="401.7" r="7.2"/><circle class="sa1" cx="1100.6" cy="401.7" r="6.2"/>
<circle class="fa1" cx="1105.3" cy="388.7" r="7.2"/><circle class="sa1" cx="1105.3" cy="388.7" r="6.2"/>
<circle class="fa1" cx="1105.7" cy="389.4" r="7.2"/><circle class="sa1" cx="1105.7" cy="389.4" r="6.2"/>
<circle class="fa1" cx="1063.8" cy="415.7" r="7.2"/><circle class="sa1" cx="1063.8" cy="415.7" r="6.2"/>
<circle class="fa1" cx="1070.7" cy="421.5" r="7.2"/><circle class="sa1" cx="1070.7" cy="421.5" r="6.2"/>
<circle class="fa1" cx="1081.1" cy="411.1" r="7.2"/><circle class="sa1" cx="1081.1" cy="411.1" r="6.2"/>
<circle class="fa1" cx="1092.5" cy="421.1" r="7.2"/><circle class="sa1" cx="1092.5" cy="421.1" r="6.2"/>
<circle class="fa1" cx="1092.5" cy="420.6" r="7.2"/><circle class="sa1" cx="1092.5" cy="420.6" r="6.2"/>
<circle class="fa1" cx="1092.0" cy="421.5" r="7.2"/><circle class="sa1" cx="1092.0" cy="421.5" r="6.2"/>
<circle class="fa1" cx="1100.7" cy="425.0" r="7.2"/><circle class="sa1" cx="1100.7" cy="425.0" r="6.2"/>
<circle class="fa1" cx="1091.5" cy="437.6" r="7.2"/><circle class="sa1" cx="1091.5" cy="437.6" r="6.2"/>
<circle class="fa1" cx="1093.8" cy="433.0" r="7.2"/><circle class="sa1" cx="1093.8" cy="433.0" r="6.2"/>
<circle class="fa1" cx="1108.1" cy="440.1" r="7.2"/><circle class="sa1" cx="1108.1" cy="440.1" r="6.2"/>
<circle class="fa1" cx="1108.9" cy="439.3" r="7.2"/><circle class="sa1" cx="1108.9" cy="439.3" r="6.2"/>
<circle class="fa1" cx="1005.0" cy="423.8" r="7.2"/><circle class="sa1" cx="1005.0" cy="423.8" r="6.2"/>
<circle class="fa1" cx="1018.8" cy="422.7" r="7.2"/><circle class="sa1" cx="1018.8" cy="422.7" r="6.2"/>
<circle class="fa1" cx="1031.5" cy="420.4" r="7.2"/><circle class="sa1" cx="1031.5" cy="420.4" r="6.2"/>
<circle class="fa1" cx="992.1" cy="430.5" r="7.2"/><circle class="sa1" cx="992.1" cy="430.5" r="6.2"/>
<circle class="fa1" cx="992.6" cy="431.1" r="7.2"/><circle class="sa1" cx="992.6" cy="431.1" r="6.2"/>
<circle class="fa1" cx="992.3" cy="430.2" r="7.2"/><circle class="sa1" cx="992.3" cy="430.2" r="6.2"/>
<circle class="fa1" cx="992.2" cy="430.7" r="7.2"/><circle class="sa1" cx="992.2" cy="430.7" r="6.2"/>
<circle class="fa1" cx="1007.7" cy="430.9" r="7.2"/><circle class="sa1" cx="1007.7" cy="430.9" r="6.2"/>
<circle class="fa1" cx="1006.9" cy="430.0" r="7.2"/><circle class="sa1" cx="1006.9" cy="430.0" r="6.2"/>
<circle class="fa1" cx="1017.5" cy="436.1" r="7.2"/><circle class="sa1" cx="1017.5" cy="436.1" r="6.2"/>
<circle class="fa1" cx="1017.1" cy="436.4" r="7.2"/><circle class="sa1" cx="1017.1" cy="436.4" r="6.2"/>
<circle class="fa1" cx="1017.4" cy="436.6" r="7.2"/><circle class="sa1" cx="1017.4" cy="436.6" r="6.2"/>
<circle class="fa1" cx="1041.0" cy="430.5" r="7.2"/><circle class="sa1" cx="1041.0" cy="430.5" r="6.2"/>
<circle class="fa1" cx="1041.6" cy="430.6" r="7.2"/><circle class="sa1" cx="1041.6" cy="430.6" r="6.2"/>
<circle class="fa1" cx="1041.3" cy="430.8" r="7.2"/><circle class="sa1" cx="1041.3" cy="430.8" r="6.2"/>
<circle class="fa1" cx="1041.1" cy="429.9" r="7.2"/><circle class="sa1" cx="1041.1" cy="429.9" r="6.2"/>
<circle class="fa1" cx="1040.3" cy="430.8" r="7.2"/><circle class="sa1" cx="1040.3" cy="430.8" r="6.2"/>
<circle class="fa1" cx="1034.0" cy="441.9" r="7.2"/><circle class="sa1" cx="1034.0" cy="441.9" r="6.2"/>
<circle class="fa1" cx="1034.0" cy="441.8" r="7.2"/><circle class="sa1" cx="1034.0" cy="441.8" r="6.2"/>
<circle class="fa1" cx="1034.2" cy="441.6" r="7.2"/><circle class="sa1" cx="1034.2" cy="441.6" r="6.2"/>
<circle class="fa1" cx="1051.1" cy="441.1" r="7.2"/><circle class="sa1" cx="1051.1" cy="441.1" r="6.2"/>
<circle class="fa1" cx="1052.3" cy="428.4" r="7.2"/><circle class="sa1" cx="1052.3" cy="428.4" r="6.2"/>
<circle class="fa1" cx="1000.7" cy="447.9" r="7.2"/><circle class="sa1" cx="1000.7" cy="447.9" r="6.2"/>
<circle class="fa1" cx="1000.7" cy="447.4" r="7.2"/><circle class="sa1" cx="1000.7" cy="447.4" r="6.2"/>
<circle class="fa1" cx="1016.5" cy="451.5" r="7.2"/><circle class="sa1" cx="1016.5" cy="451.5" r="6.2"/>
<circle class="fa1" cx="1066.7" cy="447.5" r="7.2"/><circle class="sa1" cx="1066.7" cy="447.5" r="6.2"/>
<circle class="fa1" cx="1066.2" cy="448.8" r="7.2"/><circle class="sa1" cx="1066.2" cy="448.8" r="6.2"/>
<circle class="fa1" cx="1077.5" cy="449.2" r="7.2"/><circle class="sa1" cx="1077.5" cy="449.2" r="6.2"/>
<circle class="fa1" cx="1078.2" cy="449.2" r="7.2"/><circle class="sa1" cx="1078.2" cy="449.2" r="6.2"/>
<circle class="fa1" cx="1077.1" cy="449.4" r="7.2"/><circle class="sa1" cx="1077.1" cy="449.4" r="6.2"/>
<circle class="fa1" cx="1090.3" cy="442.3" r="7.2"/><circle class="sa1" cx="1090.3" cy="442.3" r="6.2"/>
<circle class="fa1" cx="1117.2" cy="397.7" r="7.2"/><circle class="sa1" cx="1117.2" cy="397.7" r="6.2"/>
<circle class="fa1" cx="1116.6" cy="398.1" r="7.2"/><circle class="sa1" cx="1116.6" cy="398.1" r="6.2"/>
<circle class="fa1" cx="1123.5" cy="400.8" r="7.2"/><circle class="sa1" cx="1123.5" cy="400.8" r="6.2"/>
<circle class="fa1" cx="1122.9" cy="400.5" r="7.2"/><circle class="sa1" cx="1122.9" cy="400.5" r="6.2"/>
<circle class="fa1" cx="1137.2" cy="397.0" r="7.2"/><circle class="sa1" cx="1137.2" cy="397.0" r="6.2"/>
<circle class="fa1" cx="1136.9" cy="397.0" r="7.2"/><circle class="sa1" cx="1136.9" cy="397.0" r="6.2"/>
<circle class="fa1" cx="1136.1" cy="397.7" r="7.2"/><circle class="sa1" cx="1136.1" cy="397.7" r="6.2"/>
<circle class="fa1" cx="1143.0" cy="396.1" r="7.2"/><circle class="sa1" cx="1143.0" cy="396.1" r="6.2"/>
<circle class="fa1" cx="1141.9" cy="396.6" r="7.2"/><circle class="sa1" cx="1141.9" cy="396.6" r="6.2"/>
<circle class="fa1" cx="1116.9" cy="407.7" r="7.2"/><circle class="sa1" cx="1116.9" cy="407.7" r="6.2"/>
<circle class="fa1" cx="1133.1" cy="409.0" r="7.2"/><circle class="sa1" cx="1133.1" cy="409.0" r="6.2"/>
<circle class="fa1" cx="1133.8" cy="409.3" r="7.2"/><circle class="sa1" cx="1133.8" cy="409.3" r="6.2"/>
<circle class="fa1" cx="1132.9" cy="409.6" r="7.2"/><circle class="sa1" cx="1132.9" cy="409.6" r="6.2"/>
<circle class="fa1" cx="1140.0" cy="415.1" r="7.2"/><circle class="sa1" cx="1140.0" cy="415.1" r="6.2"/>
<circle class="fa1" cx="1139.6" cy="414.6" r="7.2"/><circle class="sa1" cx="1139.6" cy="414.6" r="6.2"/>
<circle class="fa1" cx="1139.4" cy="415.2" r="7.2"/><circle class="sa1" cx="1139.4" cy="415.2" r="6.2"/>
<circle class="fa1" cx="1140.6" cy="414.1" r="7.2"/><circle class="sa1" cx="1140.6" cy="414.1" r="6.2"/>
<circle class="fa1" cx="1144.6" cy="406.5" r="7.2"/><circle class="sa1" cx="1144.6" cy="406.5" r="6.2"/>
<circle class="fa1" cx="1119.8" cy="416.3" r="7.2"/><circle class="sa1" cx="1119.8" cy="416.3" r="6.2"/>
<circle class="fa1" cx="1121.0" cy="416.7" r="7.2"/><circle class="sa1" cx="1121.0" cy="416.7" r="6.2"/>
<circle class="fa1" cx="1120.4" cy="416.7" r="7.2"/><circle class="sa1" cx="1120.4" cy="416.7" r="6.2"/>
<circle class="fa1" cx="1120.3" cy="416.3" r="7.2"/><circle class="sa1" cx="1120.3" cy="416.3" r="6.2"/>
<circle class="fa1" cx="1127.3" cy="419.7" r="7.2"/><circle class="sa1" cx="1127.3" cy="419.7" r="6.2"/>
<circle class="fa1" cx="1127.3" cy="420.6" r="7.2"/><circle class="sa1" cx="1127.3" cy="420.6" r="6.2"/>
<circle class="fa1" cx="1127.6" cy="420.3" r="7.2"/><circle class="sa1" cx="1127.6" cy="420.3" r="6.2"/>
<circle class="fa1" cx="1115.3" cy="421.6" r="7.2"/><circle class="sa1" cx="1115.3" cy="421.6" r="6.2"/>
<circle class="fa1" cx="1115.6" cy="422.2" r="7.2"/><circle class="sa1" cx="1115.6" cy="422.2" r="6.2"/>
<circle class="fa1" cx="1137.7" cy="426.1" r="7.2"/><circle class="sa1" cx="1137.7" cy="426.1" r="6.2"/>
<circle class="fa1" cx="1124.3" cy="428.3" r="7.2"/><circle class="sa1" cx="1124.3" cy="428.3" r="6.2"/>
<circle class="fa1" cx="1123.5" cy="428.0" r="7.2"/><circle class="sa1" cx="1123.5" cy="428.0" r="6.2"/>
<circle class="fa1" cx="1123.3" cy="428.2" r="7.2"/><circle class="sa1" cx="1123.3" cy="428.2" r="6.2"/>
<circle class="fa1" cx="1118.1" cy="435.3" r="7.2"/><circle class="sa1" cx="1118.1" cy="435.3" r="6.2"/>
<circle class="fa1" cx="1129.6" cy="436.5" r="7.2"/><circle class="sa1" cx="1129.6" cy="436.5" r="6.2"/>
<circle class="fa1" cx="1124.0" cy="439.1" r="7.2"/><circle class="sa1" cx="1124.0" cy="439.1" r="6.2"/>
<circle class="fa1" cx="1124.0" cy="439.6" r="7.2"/><circle class="sa1" cx="1124.0" cy="439.6" r="6.2"/>
<circle class="fa1" cx="1110.0" cy="418.0" r="7.2"/><circle class="sa1" cx="1110.0" cy="418.0" r="6.2"/>
<circle class="fa1" cx="1158.4" cy="401.9" r="7.2"/><circle class="sa1" cx="1158.4" cy="401.9" r="6.2"/>
<circle class="fa1" cx="1151.5" cy="405.4" r="7.2"/><circle class="sa1" cx="1151.5" cy="405.4" r="6.2"/>
<circle class="fa1" cx="1169.6" cy="413.4" r="7.2"/><circle class="sa1" cx="1169.6" cy="413.4" r="6.2"/>
<circle class="fa1" cx="1170.7" cy="412.9" r="7.2"/><circle class="sa1" cx="1170.7" cy="412.9" r="6.2"/>
<circle class="fa1" cx="1164.2" cy="412.3" r="7.2"/><circle class="sa1" cx="1164.2" cy="412.3" r="6.2"/>
<circle class="fa1" cx="1160.7" cy="423.8" r="7.2"/><circle class="sa1" cx="1160.7" cy="423.8" r="6.2"/>
<circle class="fa1" cx="1178.3" cy="402.6" r="7.2"/><circle class="sa1" cx="1178.3" cy="402.6" r="6.2"/>
<circle class="fa1" cx="1178.7" cy="402.8" r="7.2"/><circle class="sa1" cx="1178.7" cy="402.8" r="6.2"/>
<circle class="fa1" cx="1178.5" cy="402.7" r="7.2"/><circle class="sa1" cx="1178.5" cy="402.7" r="6.2"/>
<circle class="fa1" cx="1189.6" cy="419.2" r="7.2"/><circle class="sa1" cx="1189.6" cy="419.2" r="6.2"/>
<circle class="fa1" cx="1188.4" cy="400.1" r="7.2"/><circle class="sa1" cx="1188.4" cy="400.1" r="6.2"/>
<circle class="fa1" cx="1187.6" cy="399.2" r="7.2"/><circle class="sa1" cx="1187.6" cy="399.2" r="6.2"/>
<circle class="fa1" cx="1198.8" cy="409.4" r="7.2"/><circle class="sa1" cx="1198.8" cy="409.4" r="6.2"/>
<circle class="fa1" cx="1198.2" cy="410.3" r="7.2"/><circle class="sa1" cx="1198.2" cy="410.3" r="6.2"/>
<circle class="fa1" cx="1198.4" cy="410.4" r="7.2"/><circle class="sa1" cx="1198.4" cy="410.4" r="6.2"/>
<circle class="fa1" cx="1200.3" cy="417.1" r="7.2"/><circle class="sa1" cx="1200.3" cy="417.1" r="6.2"/>
<circle class="fa1" cx="1200.2" cy="416.8" r="7.2"/><circle class="sa1" cx="1200.2" cy="416.8" r="6.2"/>
<circle class="fa1" cx="1205.7" cy="401.9" r="7.2"/><circle class="sa1" cx="1205.7" cy="401.9" r="6.2"/>
<circle class="fa1" cx="1204.5" cy="428.4" r="7.2"/><circle class="sa1" cx="1204.5" cy="428.4" r="6.2"/>
<circle class="fa4" cx="1214.9" cy="411.1" r="7.2"/><circle class="sa4" cx="1214.9" cy="411.1" r="6.2"/>
<circle class="fa1" cx="1220.0" cy="416.9" r="7.2"/><circle class="sa1" cx="1220.0" cy="416.9" r="6.2"/>
<circle class="fa1" cx="1221.0" cy="416.6" r="7.2"/><circle class="sa1" cx="1221.0" cy="416.6" r="6.2"/>
<circle class="fa1" cx="1220.6" cy="417.3" r="7.2"/><circle class="sa1" cx="1220.6" cy="417.3" r="6.2"/>
<circle class="fa1" cx="1220.2" cy="417.3" r="7.2"/><circle class="sa1" cx="1220.2" cy="417.3" r="6.2"/>
<circle class="fa1" cx="1226.1" cy="423.6" r="7.2"/><circle class="sa1" cx="1226.1" cy="423.6" r="6.2"/>
<circle class="fa1" cx="1225.4" cy="423.7" r="7.2"/><circle class="sa1" cx="1225.4" cy="423.7" r="6.2"/>
<circle class="fa1" cx="1226.0" cy="424.0" r="7.2"/><circle class="sa1" cx="1226.0" cy="424.0" r="6.2"/>
<circle class="fa1" cx="1225.8" cy="423.4" r="7.2"/><circle class="sa1" cx="1225.8" cy="423.4" r="6.2"/>
<circle class="fa1" cx="1213.8" cy="431.9" r="7.2"/><circle class="sa1" cx="1213.8" cy="431.9" r="6.2"/>
<circle class="fa1" cx="1213.1" cy="432.4" r="7.2"/><circle class="sa1" cx="1213.1" cy="432.4" r="6.2"/>
<circle class="fa1" cx="1214.2" cy="431.2" r="7.2"/><circle class="sa1" cx="1214.2" cy="431.2" r="6.2"/>
<circle class="fa1" cx="1214.2" cy="431.8" r="7.2"/><circle class="sa1" cx="1214.2" cy="431.8" r="6.2"/>
<circle class="fa1" cx="1221.0" cy="435.5" r="7.2"/><circle class="sa1" cx="1221.0" cy="435.5" r="6.2"/>
<circle class="fa1" cx="1220.0" cy="435.2" r="7.2"/><circle class="sa1" cx="1220.0" cy="435.2" r="6.2"/>
<circle class="fa1" cx="1221.4" cy="435.0" r="7.2"/><circle class="sa1" cx="1221.4" cy="435.0" r="6.2"/>
<circle class="fa1" cx="1231.7" cy="433.6" r="7.2"/><circle class="sa1" cx="1231.7" cy="433.6" r="6.2"/>
<circle class="fa1" cx="1231.6" cy="434.4" r="7.2"/><circle class="sa1" cx="1231.6" cy="434.4" r="6.2"/>
<circle class="fa1" cx="1234.5" cy="421.5" r="7.2"/><circle class="sa1" cx="1234.5" cy="421.5" r="6.2"/>
<circle class="fa1" cx="1236.8" cy="438.8" r="7.2"/><circle class="sa1" cx="1236.8" cy="438.8" r="6.2"/>
<circle class="fa1" cx="1224.9" cy="442.5" r="7.2"/><circle class="sa1" cx="1224.9" cy="442.5" r="6.2"/>
<circle class="fa1" cx="1224.2" cy="443.2" r="7.2"/><circle class="sa1" cx="1224.2" cy="443.2" r="6.2"/>
<circle class="fa1" cx="1223.8" cy="441.9" r="7.2"/><circle class="sa1" cx="1223.8" cy="441.9" r="6.2"/>
<circle class="fa1" cx="1224.4" cy="442.6" r="7.2"/><circle class="sa1" cx="1224.4" cy="442.6" r="6.2"/>
<circle class="fa1" cx="1258.7" cy="422.7" r="7.2"/><circle class="sa1" cx="1258.7" cy="422.7" r="6.2"/>
<circle class="fa1" cx="1290.3" cy="438.3" r="7.2"/><circle class="sa1" cx="1290.3" cy="438.3" r="6.2"/>
<circle class="fa1" cx="1291.0" cy="439.1" r="7.2"/><circle class="sa1" cx="1291.0" cy="439.1" r="6.2"/>
<circle class="fa1" cx="1290.1" cy="438.8" r="7.2"/><circle class="sa1" cx="1290.1" cy="438.8" r="6.2"/>
<circle class="fa1" cx="1290.5" cy="439.2" r="7.2"/><circle class="sa1" cx="1290.5" cy="439.2" r="6.2"/>
<circle class="fa1" cx="1115.8" cy="449.2" r="7.2"/><circle class="sa1" cx="1115.8" cy="449.2" r="6.2"/>
<circle class="fa1" cx="1133.1" cy="450.3" r="7.2"/><circle class="sa1" cx="1133.1" cy="450.3" r="6.2"/>
<circle class="fa1" cx="1146.9" cy="448.0" r="7.2"/><circle class="sa1" cx="1146.9" cy="448.0" r="6.2"/>
<circle class="fa1" cx="1165.2" cy="446.8" r="7.2"/><circle class="sa1" cx="1165.2" cy="446.8" r="6.2"/>
<circle class="fa1" cx="1165.1" cy="447.5" r="7.2"/><circle class="sa1" cx="1165.1" cy="447.5" r="6.2"/>
<circle class="fa1" cx="1172.3" cy="449.2" r="7.2"/><circle class="sa1" cx="1172.3" cy="449.2" r="6.2"/>
<circle class="fa1" cx="1191.4" cy="446.7" r="7.2"/><circle class="sa1" cx="1191.4" cy="446.7" r="6.2"/>
<circle class="fa1" cx="1191.2" cy="446.5" r="7.2"/><circle class="sa1" cx="1191.2" cy="446.5" r="6.2"/>
<circle class="fa1" cx="1190.7" cy="447.3" r="7.2"/><circle class="sa1" cx="1190.7" cy="447.3" r="6.2"/>
<circle class="fa1" cx="1191.4" cy="446.7" r="7.2"/><circle class="sa1" cx="1191.4" cy="446.7" r="6.2"/>
<circle class="fa1" cx="1205.7" cy="447.0" r="7.2"/><circle class="sa1" cx="1205.7" cy="447.0" r="6.2"/>
<circle class="fa1" cx="1205.0" cy="446.9" r="7.2"/><circle class="sa1" cx="1205.0" cy="446.9" r="6.2"/>
<circle class="fa1" cx="1224.9" cy="448.2" r="7.2"/><circle class="sa1" cx="1224.9" cy="448.2" r="6.2"/>
<circle class="fa1" cx="1224.9" cy="447.2" r="7.2"/><circle class="sa1" cx="1224.9" cy="447.2" r="6.2"/>
<circle class="fa1" cx="1225.3" cy="448.2" r="7.2"/><circle class="sa1" cx="1225.3" cy="448.2" r="6.2"/>
<circle class="fa1" cx="1225.0" cy="448.5" r="7.2"/><circle class="sa1" cx="1225.0" cy="448.5" r="6.2"/>
<circle class="fa1" cx="1225.1" cy="447.6" r="7.2"/><circle class="sa1" cx="1225.1" cy="447.6" r="6.2"/>
<circle class="fa1" cx="1225.5" cy="447.3" r="7.2"/><circle class="sa1" cx="1225.5" cy="447.3" r="6.2"/>
<circle class="fa1" cx="1233.0" cy="449.2" r="7.2"/><circle class="sa1" cx="1233.0" cy="449.2" r="6.2"/>
<circle class="fa1" cx="1233.9" cy="449.1" r="7.2"/><circle class="sa1" cx="1233.9" cy="449.1" r="6.2"/>
<circle class="fa1" cx="1233.6" cy="448.8" r="7.2"/><circle class="sa1" cx="1233.6" cy="448.8" r="6.2"/>
<circle class="fa1" cx="1255.3" cy="448.0" r="7.2"/><circle class="sa1" cx="1255.3" cy="448.0" r="6.2"/>
<circle class="fa1" cx="1266.8" cy="449.3" r="7.2"/><circle class="sa1" cx="1266.8" cy="449.3" r="6.2"/>
<circle class="fa1" cx="1285.7" cy="453.3" r="7.2"/><circle class="sa1" cx="1285.7" cy="453.3" r="6.2"/>
<circle class="fa1" cx="1285.4" cy="453.3" r="7.2"/><circle class="sa1" cx="1285.4" cy="453.3" r="6.2"/>
<circle class="fa1" cx="1137.3" cy="316.2" r="7.2"/><circle class="sa1" cx="1137.3" cy="316.2" r="6.2"/>
<circle class="fa1" cx="1137.8" cy="316.8" r="7.2"/><circle class="sa1" cx="1137.8" cy="316.8" r="6.2"/>
<circle class="fa1" cx="1156.9" cy="315.9" r="7.2"/><circle class="sa1" cx="1156.9" cy="315.9" r="6.2"/>
<circle class="fa1" cx="1157.6" cy="317.1" r="7.2"/><circle class="sa1" cx="1157.6" cy="317.1" r="6.2"/>
<circle class="fa1" cx="1157.5" cy="317.6" r="7.2"/><circle class="sa1" cx="1157.5" cy="317.6" r="6.2"/>
<circle class="fa1" cx="1148.1" cy="321.3" r="7.2"/><circle class="sa1" cx="1148.1" cy="321.3" r="6.2"/>
<circle class="fa1" cx="1158.4" cy="325.4" r="7.2"/><circle class="sa1" cx="1158.4" cy="325.4" r="6.2"/>
<circle class="fa1" cx="1177.0" cy="316.4" r="7.2"/><circle class="sa1" cx="1177.0" cy="316.4" r="6.2"/>
<circle class="fa1" cx="1177.4" cy="316.4" r="7.2"/><circle class="sa1" cx="1177.4" cy="316.4" r="6.2"/>
<circle class="fa1" cx="1177.6" cy="315.7" r="7.2"/><circle class="sa1" cx="1177.6" cy="315.7" r="6.2"/>
<circle class="fa1" cx="1176.8" cy="315.3" r="7.2"/><circle class="sa1" cx="1176.8" cy="315.3" r="6.2"/>
<circle class="fa1" cx="1177.4" cy="316.0" r="7.2"/><circle class="sa1" cx="1177.4" cy="316.0" r="6.2"/>
<circle class="fa1" cx="1178.3" cy="323.9" r="7.2"/><circle class="sa1" cx="1178.3" cy="323.9" r="6.2"/>
<circle class="fa1" cx="1178.0" cy="322.9" r="7.2"/><circle class="sa1" cx="1178.0" cy="322.9" r="6.2"/>
<circle class="fa1" cx="1177.7" cy="322.6" r="7.2"/><circle class="sa1" cx="1177.7" cy="322.6" r="6.2"/>
<circle class="fa1" cx="1177.6" cy="323.5" r="7.2"/><circle class="sa1" cx="1177.6" cy="323.5" r="6.2"/>
<circle class="fa1" cx="1204.6" cy="326.5" r="7.2"/><circle class="sa1" cx="1204.6" cy="326.5" r="6.2"/>
<circle class="fa1" cx="1213.8" cy="324.8" r="7.2"/><circle class="sa1" cx="1213.8" cy="324.8" r="6.2"/>
<circle class="fa1" cx="1213.8" cy="316.2" r="7.2"/><circle class="sa1" cx="1213.8" cy="316.2" r="6.2"/>
<circle class="fa1" cx="1213.7" cy="316.7" r="7.2"/><circle class="sa1" cx="1213.7" cy="316.7" r="6.2"/>
<circle class="fa1" cx="1244.1" cy="318.4" r="7.2"/><circle class="sa1" cx="1244.1" cy="318.4" r="6.2"/>
<circle class="fa1" cx="1244.2" cy="318.4" r="7.2"/><circle class="sa1" cx="1244.2" cy="318.4" r="6.2"/>
<circle class="fa1" cx="1243.3" cy="319.1" r="7.2"/><circle class="sa1" cx="1243.3" cy="319.1" r="6.2"/>
<circle class="fa1" cx="1253.3" cy="316.8" r="7.2"/><circle class="sa1" cx="1253.3" cy="316.8" r="6.2"/>
<circle class="fa1" cx="1253.6" cy="317.5" r="7.2"/><circle class="sa1" cx="1253.6" cy="317.5" r="6.2"/>
<circle class="fa1" cx="1252.4" cy="317.9" r="7.2"/><circle class="sa1" cx="1252.4" cy="317.9" r="6.2"/>
<circle class="fa1" cx="1253.2" cy="317.8" r="7.2"/><circle class="sa1" cx="1253.2" cy="317.8" r="6.2"/>
<circle class="fa1" cx="1253.1" cy="317.2" r="7.2"/><circle class="sa1" cx="1253.1" cy="317.2" r="6.2"/>
<circle class="fa1" cx="1257.0" cy="326.5" r="7.2"/><circle class="sa1" cx="1257.0" cy="326.5" r="6.2"/>
<circle class="fa1" cx="1148.1" cy="333.4" r="7.2"/><circle class="sa1" cx="1148.1" cy="333.4" r="6.2"/>
<circle class="fa1" cx="1142.3" cy="332.3" r="7.2"/><circle class="sa1" cx="1142.3" cy="332.3" r="6.2"/>
<circle class="fa1" cx="1130.8" cy="339.2" r="7.2"/><circle class="sa1" cx="1130.8" cy="339.2" r="6.2"/>
<circle class="fa3" cx="1136.5" cy="347.3" r="7.2"/><circle class="sa3" cx="1136.5" cy="347.3" r="6.2"/>
<circle class="fa1" cx="1127.8" cy="353.4" r="7.2"/><circle class="sa1" cx="1127.8" cy="353.4" r="6.2"/>
<circle class="fa1" cx="1128.5" cy="352.8" r="7.2"/><circle class="sa1" cx="1128.5" cy="352.8" r="6.2"/>
<circle class="fa1" cx="1128.7" cy="353.0" r="7.2"/><circle class="sa1" cx="1128.7" cy="353.0" r="6.2"/>
<circle class="fa1" cx="1128.9" cy="352.8" r="7.2"/><circle class="sa1" cx="1128.9" cy="352.8" r="6.2"/>
<circle class="fa1" cx="1128.5" cy="352.1" r="7.2"/><circle class="sa1" cx="1128.5" cy="352.1" r="6.2"/>
<circle class="fa1" cx="1128.3" cy="353.4" r="7.2"/><circle class="sa1" cx="1128.3" cy="353.4" r="6.2"/>
<circle class="fa1" cx="1137.2" cy="366.7" r="7.2"/><circle class="sa1" cx="1137.2" cy="366.7" r="6.2"/>
<circle class="fa1" cx="1136.4" cy="367.7" r="7.2"/><circle class="sa1" cx="1136.4" cy="367.7" r="6.2"/>
<circle class="fa1" cx="1136.3" cy="367.3" r="7.2"/><circle class="sa1" cx="1136.3" cy="367.3" r="6.2"/>
<circle class="fa1" cx="1175.4" cy="345.0" r="7.2"/><circle class="sa1" cx="1175.4" cy="345.0" r="6.2"/>
<circle class="fa1" cx="1175.2" cy="344.6" r="7.2"/><circle class="sa1" cx="1175.2" cy="344.6" r="6.2"/>
<circle class="fa1" cx="1174.7" cy="345.0" r="7.2"/><circle class="sa1" cx="1174.7" cy="345.0" r="6.2"/>
<circle class="fa1" cx="1176.9" cy="341.5" r="7.2"/><circle class="sa1" cx="1176.9" cy="341.5" r="6.2"/>
<circle class="fa1" cx="1187.3" cy="343.8" r="7.2"/><circle class="sa1" cx="1187.3" cy="343.8" r="6.2"/>
<circle class="fa1" cx="1200.5" cy="350.7" r="7.2"/><circle class="sa1" cx="1200.5" cy="350.7" r="6.2"/>
<circle class="fa1" cx="1175.8" cy="360.6" r="7.2"/><circle class="sa1" cx="1175.8" cy="360.6" r="6.2"/>
<circle class="fa1" cx="1176.5" cy="359.8" r="7.2"/><circle class="sa1" cx="1176.5" cy="359.8" r="6.2"/>
<circle class="fa1" cx="1175.4" cy="360.3" r="7.2"/><circle class="sa1" cx="1175.4" cy="360.3" r="6.2"/>
<circle class="fa1" cx="1175.1" cy="360.3" r="7.2"/><circle class="sa1" cx="1175.1" cy="360.3" r="6.2"/>
<circle class="fa1" cx="1189.9" cy="362.1" r="7.2"/><circle class="sa1" cx="1189.9" cy="362.1" r="6.2"/>
<circle class="fa1" cx="1189.9" cy="361.6" r="7.2"/><circle class="sa1" cx="1189.9" cy="361.6" r="6.2"/>
<circle class="fa1" cx="1189.9" cy="361.6" r="7.2"/><circle class="sa1" cx="1189.9" cy="361.6" r="6.2"/>
<circle class="fa1" cx="1189.2" cy="362.0" r="7.2"/><circle class="sa1" cx="1189.2" cy="362.0" r="6.2"/>
<circle class="fa1" cx="1194.2" cy="365.7" r="7.2"/><circle class="sa1" cx="1194.2" cy="365.7" r="6.2"/>
<circle class="fa1" cx="1187.3" cy="357.7" r="7.2"/><circle class="sa1" cx="1187.3" cy="357.7" r="6.2"/>
<circle class="fa1" cx="1170.0" cy="365.7" r="7.2"/><circle class="sa1" cx="1170.0" cy="365.7" r="6.2"/>
<circle class="fa1" cx="1185.0" cy="375.0" r="7.2"/><circle class="sa1" cx="1185.0" cy="375.0" r="6.2"/>
<circle class="fa1" cx="1165.2" cy="377.8" r="7.2"/><circle class="sa1" cx="1165.2" cy="377.8" r="6.2"/>
<circle class="fa1" cx="1165.5" cy="377.1" r="7.2"/><circle class="sa1" cx="1165.5" cy="377.1" r="6.2"/>
<circle class="fa1" cx="1161.9" cy="379.6" r="7.2"/><circle class="sa1" cx="1161.9" cy="379.6" r="6.2"/>
<circle class="fa1" cx="1210.6" cy="368.7" r="7.2"/><circle class="sa1" cx="1210.6" cy="368.7" r="6.2"/>
<circle class="fa1" cx="1210.3" cy="368.2" r="7.2"/><circle class="sa1" cx="1210.3" cy="368.2" r="6.2"/>
<circle class="fa1" cx="1214.5" cy="371.6" r="7.2"/><circle class="sa1" cx="1214.5" cy="371.6" r="6.2"/>
<circle class="fa1" cx="1213.4" cy="372.3" r="7.2"/><circle class="sa1" cx="1213.4" cy="372.3" r="6.2"/>
<circle class="fa1" cx="1220.7" cy="369.2" r="7.2"/><circle class="sa1" cx="1220.7" cy="369.2" r="6.2"/>
<circle class="fa1" cx="1212.6" cy="375.0" r="7.2"/><circle class="sa1" cx="1212.6" cy="375.0" r="6.2"/>
<circle class="fa1" cx="1245.6" cy="383.6" r="7.2"/><circle class="sa1" cx="1245.6" cy="383.6" r="6.2"/>
<circle class="fa1" cx="1244.9" cy="384.5" r="7.2"/><circle class="sa1" cx="1244.9" cy="384.5" r="6.2"/>
<circle class="fa1" cx="1245.4" cy="384.6" r="7.2"/><circle class="sa1" cx="1245.4" cy="384.6" r="6.2"/>
<circle class="fa1" cx="1244.7" cy="383.6" r="7.2"/><circle class="sa1" cx="1244.7" cy="383.6" r="6.2"/>
<circle class="fa1" cx="1245.0" cy="384.8" r="7.2"/><circle class="sa1" cx="1245.0" cy="384.8" r="6.2"/>
<circle class="fa1" cx="1255.3" cy="383.0" r="7.2"/><circle class="sa1" cx="1255.3" cy="383.0" r="6.2"/>
<circle class="fa1" cx="1149.2" cy="384.2" r="7.2"/><circle class="sa1" cx="1149.2" cy="384.2" r="6.2"/>
<circle class="fa1" cx="1136.0" cy="387.1" r="7.2"/><circle class="sa1" cx="1136.0" cy="387.1" r="6.2"/>
<circle class="fa1" cx="1136.5" cy="386.8" r="7.2"/><circle class="sa1" cx="1136.5" cy="386.8" r="6.2"/>
<circle class="fa1" cx="1170.9" cy="387.3" r="7.2"/><circle class="sa1" cx="1170.9" cy="387.3" r="6.2"/>
<circle class="fa1" cx="1171.4" cy="387.2" r="7.2"/><circle class="sa1" cx="1171.4" cy="387.2" r="6.2"/>
<circle class="fa1" cx="1170.6" cy="387.4" r="7.2"/><circle class="sa1" cx="1170.6" cy="387.4" r="6.2"/>
<circle class="fa1" cx="1198.8" cy="386.1" r="7.2"/><circle class="sa1" cx="1198.8" cy="386.1" r="6.2"/>
<circle class="fa1" cx="1198.8" cy="386.9" r="7.2"/><circle class="sa1" cx="1198.8" cy="386.9" r="6.2"/>
<circle class="fa1" cx="1216.6" cy="389.5" r="7.2"/><circle class="sa1" cx="1216.6" cy="389.5" r="6.2"/>
<circle class="fa1" cx="1215.6" cy="388.6" r="7.2"/><circle class="sa1" cx="1215.6" cy="388.6" r="6.2"/>
<circle class="fa1" cx="1215.4" cy="389.3" r="7.2"/><circle class="sa1" cx="1215.4" cy="389.3" r="6.2"/>
<circle class="fa1" cx="1114.6" cy="386.9" r="7.2"/><circle class="sa1" cx="1114.6" cy="386.9" r="6.2"/>
<circle class="fa1" cx="1144.2" cy="388.1" r="7.2"/><circle class="sa1" cx="1144.2" cy="388.1" r="6.2"/>
<circle class="fa1" cx="1144.9" cy="387.4" r="7.2"/><circle class="sa1" cx="1144.9" cy="387.4" r="6.2"/>
<circle class="fa1" cx="1149.2" cy="384.6" r="7.2"/><circle class="sa1" cx="1149.2" cy="384.6" r="6.2"/>
<circle class="fa1" cx="1191.0" cy="392.7" r="7.2"/><circle class="sa1" cx="1191.0" cy="392.7" r="6.2"/>
<circle class="fa1" cx="1189.9" cy="392.8" r="7.2"/><circle class="sa1" cx="1189.9" cy="392.8" r="6.2"/>
<circle class="fa1" cx="1221.2" cy="396.6" r="7.2"/><circle class="sa1" cx="1221.2" cy="396.6" r="6.2"/>
<circle class="fa1" cx="1221.2" cy="397.4" r="7.2"/><circle class="sa1" cx="1221.2" cy="397.4" r="6.2"/>
<circle class="fa1" cx="1221.0" cy="397.6" r="7.2"/><circle class="sa1" cx="1221.0" cy="397.6" r="6.2"/>
<circle class="fa1" cx="1246.2" cy="392.6" r="7.2"/><circle class="sa1" cx="1246.2" cy="392.6" r="6.2"/>
<circle class="fa1" cx="1246.0" cy="392.5" r="7.2"/><circle class="sa1" cx="1246.0" cy="392.5" r="6.2"/>
<circle class="fa1" cx="1255.3" cy="384.6" r="7.2"/><circle class="sa1" cx="1255.3" cy="384.6" r="6.2"/>
<circle class="fa1" cx="967.2" cy="450.9" r="7.2"/><circle class="sa1" cx="967.2" cy="450.9" r="6.2"/>
<circle class="fa1" cx="976.2" cy="450.9" r="7.2"/><circle class="sa1" cx="976.2" cy="450.9" r="6.2"/>
<circle class="fa1" cx="986.6" cy="445.7" r="7.2"/><circle class="sa1" cx="986.6" cy="445.7" r="6.2"/>
<circle class="fa1" cx="1015.0" cy="451.0" r="7.2"/><circle class="sa1" cx="1015.0" cy="451.0" r="6.2"/>
<circle class="fa1" cx="1028.3" cy="451.8" r="7.2"/><circle class="sa1" cx="1028.3" cy="451.8" r="6.2"/>
<circle class="fa1" cx="1027.9" cy="453.0" r="7.2"/><circle class="sa1" cx="1027.9" cy="453.0" r="6.2"/>
<circle class="fa1" cx="1048.6" cy="452.9" r="7.2"/><circle class="sa1" cx="1048.6" cy="452.9" r="6.2"/>
<circle class="fa1" cx="1112.1" cy="450.8" r="7.2"/><circle class="sa1" cx="1112.1" cy="450.8" r="6.2"/>
<circle class="fa1" cx="1111.2" cy="450.5" r="7.2"/><circle class="sa1" cx="1111.2" cy="450.5" r="6.2"/>
<circle class="fa1" cx="1111.9" cy="451.4" r="7.2"/><circle class="sa1" cx="1111.9" cy="451.4" r="6.2"/>
<circle class="fa1" cx="1112.1" cy="451.2" r="7.2"/><circle class="sa1" cx="1112.1" cy="451.2" r="6.2"/>
<circle class="fa1" cx="1133.8" cy="452.9" r="7.2"/><circle class="sa1" cx="1133.8" cy="452.9" r="6.2"/>
<circle class="fa1" cx="1133.6" cy="451.9" r="7.2"/><circle class="sa1" cx="1133.6" cy="451.9" r="6.2"/>
<circle class="fa1" cx="1134.3" cy="452.2" r="7.2"/><circle class="sa1" cx="1134.3" cy="452.2" r="6.2"/>
<circle class="fa1" cx="1146.8" cy="448.3" r="7.2"/><circle class="sa1" cx="1146.8" cy="448.3" r="6.2"/>
<circle class="fa1" cx="1206.0" cy="444.2" r="7.2"/><circle class="sa1" cx="1206.0" cy="444.2" r="6.2"/>
<circle class="fa1" cx="1206.0" cy="444.9" r="7.2"/><circle class="sa1" cx="1206.0" cy="444.9" r="6.2"/>
<circle class="fa1" cx="1206.4" cy="443.9" r="7.2"/><circle class="sa1" cx="1206.4" cy="443.9" r="6.2"/>
<circle class="fa1" cx="1220.7" cy="442.0" r="7.2"/><circle class="sa1" cx="1220.7" cy="442.0" r="6.2"/>
<circle class="fa1" cx="1219.9" cy="442.3" r="7.2"/><circle class="sa1" cx="1219.9" cy="442.3" r="6.2"/>
<circle class="fa1" cx="1220.2" cy="441.7" r="7.2"/><circle class="sa1" cx="1220.2" cy="441.7" r="6.2"/>
<circle class="fa1" cx="1220.8" cy="442.5" r="7.2"/><circle class="sa1" cx="1220.8" cy="442.5" r="6.2"/>
<circle class="fa1" cx="1235.9" cy="440.6" r="7.2"/><circle class="sa1" cx="1235.9" cy="440.6" r="6.2"/>
<circle class="fa1" cx="1288.5" cy="453.8" r="7.2"/><circle class="sa1" cx="1288.5" cy="453.8" r="6.2"/>
<circle class="fa1" cx="1288.6" cy="454.3" r="7.2"/><circle class="sa1" cx="1288.6" cy="454.3" r="6.2"/>
<circle class="fa1" cx="1362.2" cy="454.7" r="7.2"/><circle class="sa1" cx="1362.2" cy="454.7" r="6.2"/>
<circle class="fa1" cx="1362.1" cy="454.6" r="7.2"/><circle class="sa1" cx="1362.1" cy="454.6" r="6.2"/>
<circle class="fa1" cx="1380.5" cy="454.8" r="7.2"/><circle class="sa1" cx="1380.5" cy="454.8" r="6.2"/>
<circle class="fa1" cx="1327.6" cy="455.3" r="7.2"/><circle class="sa1" cx="1327.6" cy="455.3" r="6.2"/>
<circle class="fa1" cx="1326.7" cy="456.3" r="7.2"/><circle class="sa1" cx="1326.7" cy="456.3" r="6.2"/>
<circle class="fa1" cx="1134.9" cy="452.6" r="7.2"/><circle class="sa1" cx="1134.9" cy="452.6" r="6.2"/>
<circle class="fa1" cx="1135.9" cy="453.0" r="7.2"/><circle class="sa1" cx="1135.9" cy="453.0" r="6.2"/>
<circle class="fa1" cx="1134.3" cy="453.4" r="7.2"/><circle class="sa1" cx="1134.3" cy="453.4" r="6.2"/>
<circle class="fa1" cx="1149.3" cy="452.5" r="7.2"/><circle class="sa1" cx="1149.3" cy="452.5" r="6.2"/>
<circle class="fa1" cx="1149.6" cy="452.1" r="7.2"/><circle class="sa1" cx="1149.6" cy="452.1" r="6.2"/>
<circle class="fa1" cx="1150.7" cy="452.1" r="7.2"/><circle class="sa1" cx="1150.7" cy="452.1" r="6.2"/>
<circle class="fa1" cx="1174.5" cy="451.3" r="7.2"/><circle class="sa1" cx="1174.5" cy="451.3" r="6.2"/>
<circle class="fa1" cx="1175.6" cy="452.4" r="7.2"/><circle class="sa1" cx="1175.6" cy="452.4" r="6.2"/>
<circle class="fa1" cx="1174.6" cy="452.5" r="7.2"/><circle class="sa1" cx="1174.6" cy="452.5" r="6.2"/>
<circle class="fa1" cx="1200.3" cy="451.4" r="7.2"/><circle class="sa1" cx="1200.3" cy="451.4" r="6.2"/>
<circle class="fa1" cx="1199.1" cy="450.9" r="7.2"/><circle class="sa1" cx="1199.1" cy="450.9" r="6.2"/>
<circle class="fa1" cx="1200.5" cy="451.4" r="7.2"/><circle class="sa1" cx="1200.5" cy="451.4" r="6.2"/>
<circle class="fa1" cx="1200.3" cy="450.2" r="7.2"/><circle class="sa1" cx="1200.3" cy="450.2" r="6.2"/>
<circle class="fa1" cx="1230.1" cy="451.3" r="7.2"/><circle class="sa1" cx="1230.1" cy="451.3" r="6.2"/>
<circle class="fa1" cx="1230.8" cy="450.7" r="7.2"/><circle class="sa1" cx="1230.8" cy="450.7" r="6.2"/>
<circle class="fa1" cx="1229.8" cy="451.0" r="7.2"/><circle class="sa1" cx="1229.8" cy="451.0" r="6.2"/>
<circle class="fa1" cx="1230.5" cy="450.7" r="7.2"/><circle class="sa1" cx="1230.5" cy="450.7" r="6.2"/>
<circle class="fa1" cx="1250.6" cy="451.6" r="7.2"/><circle class="sa1" cx="1250.6" cy="451.6" r="6.2"/>
<circle class="fa1" cx="1250.2" cy="451.7" r="7.2"/><circle class="sa1" cx="1250.2" cy="451.7" r="6.2"/>
<circle class="fa1" cx="1250.1" cy="451.6" r="7.2"/><circle class="sa1" cx="1250.1" cy="451.6" r="6.2"/>
<circle class="fa1" cx="1269.3" cy="453.5" r="7.2"/><circle class="sa1" cx="1269.3" cy="453.5" r="6.2"/>
<circle class="fa1" cx="1270.2" cy="452.7" r="7.2"/><circle class="sa1" cx="1270.2" cy="452.7" r="6.2"/>
<circle class="fa1" cx="1270.1" cy="453.6" r="7.2"/><circle class="sa1" cx="1270.1" cy="453.6" r="6.2"/>
<circle class="fa1" cx="1214.4" cy="446.9" r="7.2"/><circle class="sa1" cx="1214.4" cy="446.9" r="6.2"/>
<circle class="fa1" cx="1215.3" cy="447.3" r="7.2"/><circle class="sa1" cx="1215.3" cy="447.3" r="6.2"/>
<circle class="fa1" cx="1214.9" cy="446.2" r="7.2"/><circle class="sa1" cx="1214.9" cy="446.2" r="6.2"/>
<circle class="fa1" cx="1215.7" cy="447.2" r="7.2"/><circle class="sa1" cx="1215.7" cy="447.2" r="6.2"/>
<circle class="fa1" cx="1144.2" cy="470.3" r="7.2"/><circle class="sa1" cx="1144.2" cy="470.3" r="6.2"/>
<circle class="fa1" cx="905.0" cy="451.8" r="7.2"/><circle class="sa1" cx="905.0" cy="451.8" r="6.2"/>
<circle class="fa1" cx="905.2" cy="451.7" r="7.2"/><circle class="sa1" cx="905.2" cy="451.7" r="6.2"/>
<circle class="fa1" cx="904.5" cy="451.6" r="7.2"/><circle class="sa1" cx="904.5" cy="451.6" r="6.2"/>
<circle class="fa1" cx="904.7" cy="451.6" r="7.2"/><circle class="sa1" cx="904.7" cy="451.6" r="6.2"/>
<circle class="fa1" cx="914.4" cy="446.3" r="7.2"/><circle class="sa1" cx="914.4" cy="446.3" r="6.2"/>
<circle class="fa1" cx="914.3" cy="446.3" r="7.2"/><circle class="sa1" cx="914.3" cy="446.3" r="6.2"/>
<circle class="fa1" cx="914.4" cy="446.2" r="7.2"/><circle class="sa1" cx="914.4" cy="446.2" r="6.2"/>
<circle class="fa1" cx="915.7" cy="446.1" r="7.2"/><circle class="sa1" cx="915.7" cy="446.1" r="6.2"/>
<circle class="fa1" cx="919.6" cy="440.0" r="7.2"/><circle class="sa1" cx="919.6" cy="440.0" r="6.2"/>
<circle class="fa1" cx="920.1" cy="439.2" r="7.2"/><circle class="sa1" cx="920.1" cy="439.2" r="6.2"/>
<circle class="fa1" cx="919.6" cy="440.1" r="7.2"/><circle class="sa1" cx="919.6" cy="440.1" r="6.2"/>
<circle class="fa1" cx="944.7" cy="450.0" r="7.2"/><circle class="sa1" cx="944.7" cy="450.0" r="6.2"/>
<circle class="fa1" cx="945.4" cy="450.4" r="7.2"/><circle class="sa1" cx="945.4" cy="450.4" r="6.2"/>
<circle class="fa1" cx="945.5" cy="450.3" r="7.2"/><circle class="sa1" cx="945.5" cy="450.3" r="6.2"/>
<circle class="fa1" cx="944.8" cy="450.0" r="7.2"/><circle class="sa1" cx="944.8" cy="450.0" r="6.2"/>
<circle class="fa1" cx="957.8" cy="451.8" r="7.2"/><circle class="sa1" cx="957.8" cy="451.8" r="6.2"/>
<circle class="fa1" cx="957.9" cy="451.2" r="7.2"/><circle class="sa1" cx="957.9" cy="451.2" r="6.2"/>
<circle class="fa1" cx="957.8" cy="452.0" r="7.2"/><circle class="sa1" cx="957.8" cy="452.0" r="6.2"/>
<circle class="fa1" cx="929.4" cy="455.0" r="7.2"/><circle class="sa1" cx="929.4" cy="455.0" r="6.2"/>
<circle class="fa1" cx="930.3" cy="454.9" r="7.2"/><circle class="sa1" cx="930.3" cy="454.9" r="6.2"/>
<circle class="fa1" cx="930.6" cy="454.3" r="7.2"/><circle class="sa1" cx="930.6" cy="454.3" r="6.2"/>
<circle class="fa1" cx="989.9" cy="454.2" r="7.2"/><circle class="sa1" cx="989.9" cy="454.2" r="6.2"/>
<circle class="fa1" cx="990.3" cy="455.8" r="7.2"/><circle class="sa1" cx="990.3" cy="455.8" r="6.2"/>
<circle class="fa1" cx="1039.1" cy="455.0" r="7.2"/><circle class="sa1" cx="1039.1" cy="455.0" r="6.2"/>
<circle class="fa1" cx="1040.3" cy="454.8" r="7.2"/><circle class="sa1" cx="1040.3" cy="454.8" r="6.2"/>
<circle class="fa1" cx="1090.2" cy="454.2" r="7.2"/><circle class="sa1" cx="1090.2" cy="454.2" r="6.2"/>
<circle class="fa1" cx="1090.5" cy="455.2" r="7.2"/><circle class="sa1" cx="1090.5" cy="455.2" r="6.2"/>
<circle class="fa1" cx="990.5" cy="459.2" r="7.2"/><circle class="sa1" cx="990.5" cy="459.2" r="6.2"/>
<circle class="fa1" cx="990.9" cy="459.3" r="7.2"/><circle class="sa1" cx="990.9" cy="459.3" r="6.2"/>
<circle class="fa1" cx="990.6" cy="459.3" r="7.2"/><circle class="sa1" cx="990.6" cy="459.3" r="6.2"/>
<circle class="fa1" cx="996.3" cy="460.3" r="7.2"/><circle class="sa1" cx="996.3" cy="460.3" r="6.2"/>
<circle class="fa1" cx="997.3" cy="460.7" r="7.2"/><circle class="sa1" cx="997.3" cy="460.7" r="6.2"/>
<circle class="fa1" cx="996.7" cy="460.3" r="7.2"/><circle class="sa1" cx="996.7" cy="460.3" r="6.2"/>
<circle class="fa1" cx="1003.4" cy="460.3" r="7.2"/><circle class="sa1" cx="1003.4" cy="460.3" r="6.2"/>
<circle class="fa1" cx="1003.5" cy="460.9" r="7.2"/><circle class="sa1" cx="1003.5" cy="460.9" r="6.2"/>
<circle class="fa1" cx="1002.6" cy="459.4" r="7.2"/><circle class="sa1" cx="1002.6" cy="459.4" r="6.2"/>
<circle class="fa1" cx="1006.5" cy="459.3" r="7.2"/><circle class="sa1" cx="1006.5" cy="459.3" r="6.2"/>
<circle class="fa1" cx="1006.6" cy="459.0" r="7.2"/><circle class="sa1" cx="1006.6" cy="459.0" r="6.2"/>
<circle class="fa1" cx="1005.7" cy="458.2" r="7.2"/><circle class="sa1" cx="1005.7" cy="458.2" r="6.2"/>
<circle class="fa1" cx="1016.3" cy="458.8" r="7.2"/><circle class="sa1" cx="1016.3" cy="458.8" r="6.2"/>
<circle class="fa1" cx="1015.1" cy="458.9" r="7.2"/><circle class="sa1" cx="1015.1" cy="458.9" r="6.2"/>
<circle class="fa1" cx="1016.5" cy="459.8" r="7.2"/><circle class="sa1" cx="1016.5" cy="459.8" r="6.2"/>
<circle class="fa1" cx="1021.2" cy="457.0" r="7.2"/><circle class="sa1" cx="1021.2" cy="457.0" r="6.2"/>
<circle class="fa1" cx="1021.7" cy="457.0" r="7.2"/><circle class="sa1" cx="1021.7" cy="457.0" r="6.2"/>
<circle class="fa1" cx="1022.3" cy="457.4" r="7.2"/><circle class="sa1" cx="1022.3" cy="457.4" r="6.2"/>
<circle class="fa1" cx="1025.4" cy="458.5" r="7.2"/><circle class="sa1" cx="1025.4" cy="458.5" r="6.2"/>
<circle class="fa1" cx="1025.5" cy="458.0" r="7.2"/><circle class="sa1" cx="1025.5" cy="458.0" r="6.2"/>
<circle class="fa1" cx="1025.9" cy="457.7" r="7.2"/><circle class="sa1" cx="1025.9" cy="457.7" r="6.2"/>
<circle class="fa1" cx="1032.4" cy="458.6" r="7.2"/><circle class="sa1" cx="1032.4" cy="458.6" r="6.2"/>
<circle class="fa1" cx="1031.6" cy="458.3" r="7.2"/><circle class="sa1" cx="1031.6" cy="458.3" r="6.2"/>
<circle class="fa1" cx="1031.6" cy="458.6" r="7.2"/><circle class="sa1" cx="1031.6" cy="458.6" r="6.2"/>
<circle class="fa1" cx="1036.1" cy="457.8" r="7.2"/><circle class="sa1" cx="1036.1" cy="457.8" r="6.2"/>
<circle class="fa1" cx="1036.4" cy="457.9" r="7.2"/><circle class="sa1" cx="1036.4" cy="457.9" r="6.2"/>
<circle class="fa1" cx="1035.7" cy="457.4" r="7.2"/><circle class="sa1" cx="1035.7" cy="457.4" r="6.2"/>
<circle class="fa1" cx="1042.3" cy="460.1" r="7.2"/><circle class="sa1" cx="1042.3" cy="460.1" r="6.2"/>
<circle class="fa1" cx="1043.4" cy="460.5" r="7.2"/><circle class="sa1" cx="1043.4" cy="460.5" r="6.2"/>
<circle class="fa1" cx="1043.0" cy="460.1" r="7.2"/><circle class="sa1" cx="1043.0" cy="460.1" r="6.2"/>
<circle class="fa1" cx="1051.6" cy="457.6" r="7.2"/><circle class="sa1" cx="1051.6" cy="457.6" r="6.2"/>
<circle class="fa1" cx="1051.5" cy="457.9" r="7.2"/><circle class="sa1" cx="1051.5" cy="457.9" r="6.2"/>
<circle class="fa1" cx="1051.2" cy="458.3" r="7.2"/><circle class="sa1" cx="1051.2" cy="458.3" r="6.2"/>
<circle class="fa1" cx="1056.9" cy="457.3" r="7.2"/><circle class="sa1" cx="1056.9" cy="457.3" r="6.2"/>
<circle class="fa1" cx="1056.8" cy="457.1" r="7.2"/><circle class="sa1" cx="1056.8" cy="457.1" r="6.2"/>
<circle class="fa1" cx="1057.8" cy="458.2" r="7.2"/><circle class="sa1" cx="1057.8" cy="458.2" r="6.2"/>
<circle class="fa1" cx="1062.5" cy="457.7" r="7.2"/><circle class="sa1" cx="1062.5" cy="457.7" r="6.2"/>
<circle class="fa1" cx="1063.1" cy="457.8" r="7.2"/><circle class="sa1" cx="1063.1" cy="457.8" r="6.2"/>
<circle class="fa1" cx="1063.0" cy="456.8" r="7.2"/><circle class="sa1" cx="1063.0" cy="456.8" r="6.2"/>
<circle class="fa1" cx="1065.6" cy="460.3" r="7.2"/><circle class="sa1" cx="1065.6" cy="460.3" r="6.2"/>
<circle class="fa1" cx="1066.7" cy="460.1" r="7.2"/><circle class="sa1" cx="1066.7" cy="460.1" r="6.2"/>
<circle class="fa1" cx="1065.5" cy="459.8" r="7.2"/><circle class="sa1" cx="1065.5" cy="459.8" r="6.2"/>
<circle class="fa1" cx="1072.4" cy="457.3" r="7.2"/><circle class="sa1" cx="1072.4" cy="457.3" r="6.2"/>
<circle class="fa1" cx="1073.5" cy="457.5" r="7.2"/><circle class="sa1" cx="1073.5" cy="457.5" r="6.2"/>
<circle class="fa1" cx="1072.8" cy="458.7" r="7.2"/><circle class="sa1" cx="1072.8" cy="458.7" r="6.2"/>
<circle class="fa1" cx="1082.5" cy="460.3" r="7.2"/><circle class="sa1" cx="1082.5" cy="460.3" r="6.2"/>
<circle class="fa1" cx="1081.5" cy="460.3" r="7.2"/><circle class="sa1" cx="1081.5" cy="460.3" r="6.2"/>
<circle class="fa1" cx="1082.6" cy="460.4" r="7.2"/><circle class="sa1" cx="1082.6" cy="460.4" r="6.2"/>
<circle class="fa1" cx="1085.9" cy="460.5" r="7.2"/><circle class="sa1" cx="1085.9" cy="460.5" r="6.2"/>
<circle class="fa1" cx="1085.5" cy="460.3" r="7.2"/><circle class="sa1" cx="1085.5" cy="460.3" r="6.2"/>
<circle class="fa1" cx="1085.4" cy="461.1" r="7.2"/><circle class="sa1" cx="1085.4" cy="461.1" r="6.2"/>
<circle class="fa1" cx="1091.5" cy="459.4" r="7.2"/><circle class="sa1" cx="1091.5" cy="459.4" r="6.2"/>
<circle class="fa1" cx="1092.3" cy="459.1" r="7.2"/><circle class="sa1" cx="1092.3" cy="459.1" r="6.2"/>
<circle class="fa1" cx="1092.0" cy="459.9" r="7.2"/><circle class="sa1" cx="1092.0" cy="459.9" r="6.2"/>
<circle class="fa1" cx="1097.6" cy="460.6" r="7.2"/><circle class="sa1" cx="1097.6" cy="460.6" r="6.2"/>
<circle class="fa1" cx="1097.0" cy="459.6" r="7.2"/><circle class="sa1" cx="1097.0" cy="459.6" r="6.2"/>
<circle class="fa1" cx="1097.6" cy="460.3" r="7.2"/><circle class="sa1" cx="1097.6" cy="460.3" r="6.2"/>
<circle class="fa1" cx="1104.8" cy="459.8" r="7.2"/><circle class="sa1" cx="1104.8" cy="459.8" r="6.2"/>
<circle class="fa1" cx="1104.8" cy="459.8" r="7.2"/><circle class="sa1" cx="1104.8" cy="459.8" r="6.2"/>
<circle class="fa1" cx="1104.8" cy="460.7" r="7.2"/><circle class="sa1" cx="1104.8" cy="460.7" r="6.2"/>
<circle class="fa1" cx="1111.6" cy="458.2" r="7.2"/><circle class="sa1" cx="1111.6" cy="458.2" r="6.2"/>
<circle class="fa1" cx="1111.2" cy="458.7" r="7.2"/><circle class="sa1" cx="1111.2" cy="458.7" r="6.2"/>
<circle class="fa1" cx="1111.3" cy="457.2" r="7.2"/><circle class="sa1" cx="1111.3" cy="457.2" r="6.2"/>
<circle class="fa1" cx="1115.3" cy="457.1" r="7.2"/><circle class="sa1" cx="1115.3" cy="457.1" r="6.2"/>
<circle class="fa1" cx="1114.8" cy="457.4" r="7.2"/><circle class="sa1" cx="1114.8" cy="457.4" r="6.2"/>
<circle class="fa1" cx="1115.6" cy="457.0" r="7.2"/><circle class="sa1" cx="1115.6" cy="457.0" r="6.2"/>
<circle class="fa1" cx="1120.5" cy="457.9" r="7.2"/><circle class="sa1" cx="1120.5" cy="457.9" r="6.2"/>
<circle class="fa1" cx="1121.0" cy="457.1" r="7.2"/><circle class="sa1" cx="1121.0" cy="457.1" r="6.2"/>
<circle class="fa1" cx="1120.7" cy="457.1" r="7.2"/><circle class="sa1" cx="1120.7" cy="457.1" r="6.2"/>
<circle class="fa1" cx="1127.2" cy="459.5" r="7.2"/><circle class="sa1" cx="1127.2" cy="459.5" r="6.2"/>
<circle class="fa1" cx="1127.2" cy="458.2" r="7.2"/><circle class="sa1" cx="1127.2" cy="458.2" r="6.2"/>
<circle class="fa1" cx="1127.2" cy="458.6" r="7.2"/><circle class="sa1" cx="1127.2" cy="458.6" r="6.2"/>
<circle class="fa1" cx="1132.4" cy="459.0" r="7.2"/><circle class="sa1" cx="1132.4" cy="459.0" r="6.2"/>
<circle class="fa1" cx="1132.1" cy="460.3" r="7.2"/><circle class="sa1" cx="1132.1" cy="460.3" r="6.2"/>
<circle class="fa1" cx="1131.5" cy="458.9" r="7.2"/><circle class="sa1" cx="1131.5" cy="458.9" r="6.2"/>
<circle class="fa1" cx="1138.9" cy="457.3" r="7.2"/><circle class="sa1" cx="1138.9" cy="457.3" r="6.2"/>
<circle class="fa1" cx="1138.6" cy="458.3" r="7.2"/><circle class="sa1" cx="1138.6" cy="458.3" r="6.2"/>
<circle class="fa1" cx="1139.1" cy="457.3" r="7.2"/><circle class="sa1" cx="1139.1" cy="457.3" r="6.2"/>
<circle class="fa1" cx="1146.6" cy="459.0" r="7.2"/><circle class="sa1" cx="1146.6" cy="459.0" r="6.2"/>
<circle class="fa1" cx="1146.8" cy="458.5" r="7.2"/><circle class="sa1" cx="1146.8" cy="458.5" r="6.2"/>
<circle class="fa1" cx="1147.5" cy="459.4" r="7.2"/><circle class="sa1" cx="1147.5" cy="459.4" r="6.2"/>
<circle class="fa1" cx="1152.1" cy="459.1" r="7.2"/><circle class="sa1" cx="1152.1" cy="459.1" r="6.2"/>
<circle class="fa1" cx="1151.4" cy="458.8" r="7.2"/><circle class="sa1" cx="1151.4" cy="458.8" r="6.2"/>
<circle class="fa1" cx="1152.0" cy="459.2" r="7.2"/><circle class="sa1" cx="1152.0" cy="459.2" r="6.2"/>
<circle class="fa1" cx="1158.6" cy="457.5" r="7.2"/><circle class="sa1" cx="1158.6" cy="457.5" r="6.2"/>
<circle class="fa1" cx="1159.0" cy="457.2" r="7.2"/><circle class="sa1" cx="1159.0" cy="457.2" r="6.2"/>
<circle class="fa1" cx="1158.5" cy="456.5" r="7.2"/><circle class="sa1" cx="1158.5" cy="456.5" r="6.2"/>
<circle class="fa1" cx="1165.6" cy="456.4" r="7.2"/><circle class="sa1" cx="1165.6" cy="456.4" r="6.2"/>
<circle class="fa1" cx="1166.5" cy="457.4" r="7.2"/><circle class="sa1" cx="1166.5" cy="457.4" r="6.2"/>
<circle class="fa1" cx="1165.4" cy="457.7" r="7.2"/><circle class="sa1" cx="1165.4" cy="457.7" r="6.2"/>
<circle class="fa1" cx="1171.4" cy="459.2" r="7.2"/><circle class="sa1" cx="1171.4" cy="459.2" r="6.2"/>
<circle class="fa1" cx="1171.8" cy="460.3" r="7.2"/><circle class="sa1" cx="1171.8" cy="460.3" r="6.2"/>
<circle class="fa1" cx="1171.8" cy="459.6" r="7.2"/><circle class="sa1" cx="1171.8" cy="459.6" r="6.2"/>
<circle class="fa1" cx="1174.4" cy="460.1" r="7.2"/><circle class="sa1" cx="1174.4" cy="460.1" r="6.2"/>
<circle class="fa1" cx="1174.2" cy="459.9" r="7.2"/><circle class="sa1" cx="1174.2" cy="459.9" r="6.2"/>
<circle class="fa1" cx="1174.6" cy="459.1" r="7.2"/><circle class="sa1" cx="1174.6" cy="459.1" r="6.2"/>
<circle class="fa1" cx="1181.0" cy="458.4" r="7.2"/><circle class="sa1" cx="1181.0" cy="458.4" r="6.2"/>
<circle class="fa1" cx="1181.2" cy="458.6" r="7.2"/><circle class="sa1" cx="1181.2" cy="458.6" r="6.2"/>
<circle class="fa1" cx="1181.7" cy="459.2" r="7.2"/><circle class="sa1" cx="1181.7" cy="459.2" r="6.2"/>
<circle class="fa1" cx="1186.0" cy="456.8" r="7.2"/><circle class="sa1" cx="1186.0" cy="456.8" r="6.2"/>
<circle class="fa1" cx="1185.8" cy="457.7" r="7.2"/><circle class="sa1" cx="1185.8" cy="457.7" r="6.2"/>
<circle class="fa1" cx="1186.5" cy="457.3" r="7.2"/><circle class="sa1" cx="1186.5" cy="457.3" r="6.2"/>
<circle class="fa1" cx="1192.5" cy="461.0" r="7.2"/><circle class="sa1" cx="1192.5" cy="461.0" r="6.2"/>
<circle class="fa1" cx="1192.4" cy="460.7" r="7.2"/><circle class="sa1" cx="1192.4" cy="460.7" r="6.2"/>
<circle class="fa1" cx="1193.3" cy="460.2" r="7.2"/><circle class="sa1" cx="1193.3" cy="460.2" r="6.2"/>
<circle class="fa1" cx="1199.2" cy="459.0" r="7.2"/><circle class="sa1" cx="1199.2" cy="459.0" r="6.2"/>
<circle class="fa1" cx="1199.4" cy="459.7" r="7.2"/><circle class="sa1" cx="1199.4" cy="459.7" r="6.2"/>
<circle class="fa1" cx="1198.1" cy="459.9" r="7.2"/><circle class="sa1" cx="1198.1" cy="459.9" r="6.2"/>
<circle class="fa1" cx="1207.3" cy="460.9" r="7.2"/><circle class="sa1" cx="1207.3" cy="460.9" r="6.2"/>
<circle class="fa1" cx="1207.3" cy="460.2" r="7.2"/><circle class="sa1" cx="1207.3" cy="460.2" r="6.2"/>
<circle class="fa1" cx="1207.9" cy="460.1" r="7.2"/><circle class="sa1" cx="1207.9" cy="460.1" r="6.2"/>
<circle class="fa1" cx="1211.6" cy="457.9" r="7.2"/><circle class="sa1" cx="1211.6" cy="457.9" r="6.2"/>
<circle class="fa1" cx="1211.8" cy="458.2" r="7.2"/><circle class="sa1" cx="1211.8" cy="458.2" r="6.2"/>
<circle class="fa1" cx="1211.5" cy="457.3" r="7.2"/><circle class="sa1" cx="1211.5" cy="457.3" r="6.2"/>
<circle class="fa1" cx="1218.7" cy="459.7" r="7.2"/><circle class="sa1" cx="1218.7" cy="459.7" r="6.2"/>
<circle class="fa1" cx="1217.3" cy="459.7" r="7.2"/><circle class="sa1" cx="1217.3" cy="459.7" r="6.2"/>
<circle class="fa1" cx="1218.4" cy="460.3" r="7.2"/><circle class="sa1" cx="1218.4" cy="460.3" r="6.2"/>
<circle class="fa1" cx="1221.9" cy="460.3" r="7.2"/><circle class="sa1" cx="1221.9" cy="460.3" r="6.2"/>
<circle class="fa1" cx="1222.3" cy="460.5" r="7.2"/><circle class="sa1" cx="1222.3" cy="460.5" r="6.2"/>
<circle class="fa1" cx="1222.3" cy="460.0" r="7.2"/><circle class="sa1" cx="1222.3" cy="460.0" r="6.2"/>
<circle class="fa1" cx="1231.0" cy="459.4" r="7.2"/><circle class="sa1" cx="1231.0" cy="459.4" r="6.2"/>
<circle class="fa1" cx="1231.8" cy="460.5" r="7.2"/><circle class="sa1" cx="1231.8" cy="460.5" r="6.2"/>
<circle class="fa1" cx="1231.9" cy="460.4" r="7.2"/><circle class="sa1" cx="1231.9" cy="460.4" r="6.2"/>
<circle class="fa1" cx="1233.8" cy="459.5" r="7.2"/><circle class="sa1" cx="1233.8" cy="459.5" r="6.2"/>
<circle class="fa1" cx="1233.7" cy="459.9" r="7.2"/><circle class="sa1" cx="1233.7" cy="459.9" r="6.2"/>
<circle class="fa1" cx="1233.6" cy="460.6" r="7.2"/><circle class="sa1" cx="1233.6" cy="460.6" r="6.2"/>
<circle class="fa1" cx="1240.6" cy="458.0" r="7.2"/><circle class="sa1" cx="1240.6" cy="458.0" r="6.2"/>
<circle class="fa1" cx="1240.5" cy="458.1" r="7.2"/><circle class="sa1" cx="1240.5" cy="458.1" r="6.2"/>
<circle class="fa1" cx="1240.5" cy="458.6" r="7.2"/><circle class="sa1" cx="1240.5" cy="458.6" r="6.2"/>
<circle class="fa1" cx="1248.9" cy="459.8" r="7.2"/><circle class="sa1" cx="1248.9" cy="459.8" r="6.2"/>
<circle class="fa1" cx="1247.8" cy="460.8" r="7.2"/><circle class="sa1" cx="1247.8" cy="460.8" r="6.2"/>
<circle class="fa1" cx="1248.5" cy="460.8" r="7.2"/><circle class="sa1" cx="1248.5" cy="460.8" r="6.2"/>
<circle class="fa1" cx="1252.6" cy="460.0" r="7.2"/><circle class="sa1" cx="1252.6" cy="460.0" r="6.2"/>
<circle class="fa1" cx="1253.4" cy="459.5" r="7.2"/><circle class="sa1" cx="1253.4" cy="459.5" r="6.2"/>
<circle class="fa1" cx="1253.1" cy="460.6" r="7.2"/><circle class="sa1" cx="1253.1" cy="460.6" r="6.2"/>
<circle class="fa1" cx="1260.7" cy="458.8" r="7.2"/><circle class="sa1" cx="1260.7" cy="458.8" r="6.2"/>
<circle class="fa1" cx="1259.8" cy="457.4" r="7.2"/><circle class="sa1" cx="1259.8" cy="457.4" r="6.2"/>
<circle class="fa1" cx="1260.5" cy="458.6" r="7.2"/><circle class="sa1" cx="1260.5" cy="458.6" r="6.2"/>
<circle class="fa1" cx="1265.4" cy="456.9" r="7.2"/><circle class="sa1" cx="1265.4" cy="456.9" r="6.2"/>
<circle class="fa1" cx="1265.7" cy="458.0" r="7.2"/><circle class="sa1" cx="1265.7" cy="458.0" r="6.2"/>
<circle class="fa1" cx="1265.6" cy="457.3" r="7.2"/><circle class="sa1" cx="1265.6" cy="457.3" r="6.2"/>
<circle class="fa1" cx="1270.5" cy="458.0" r="7.2"/><circle class="sa1" cx="1270.5" cy="458.0" r="6.2"/>
<circle class="fa1" cx="1270.1" cy="456.7" r="7.2"/><circle class="sa1" cx="1270.1" cy="456.7" r="6.2"/>
<circle class="fa1" cx="1270.5" cy="457.8" r="7.2"/><circle class="sa1" cx="1270.5" cy="457.8" r="6.2"/>
<circle class="fa1" cx="1278.8" cy="461.0" r="7.2"/><circle class="sa1" cx="1278.8" cy="461.0" r="6.2"/>
<circle class="fa1" cx="1278.4" cy="460.4" r="7.2"/><circle class="sa1" cx="1278.4" cy="460.4" r="6.2"/>
<circle class="fa1" cx="1278.6" cy="460.8" r="7.2"/><circle class="sa1" cx="1278.6" cy="460.8" r="6.2"/>
<circle class="fa1" cx="1283.4" cy="457.1" r="7.2"/><circle class="sa1" cx="1283.4" cy="457.1" r="6.2"/>
<circle class="fa1" cx="1283.3" cy="457.7" r="7.2"/><circle class="sa1" cx="1283.3" cy="457.7" r="6.2"/>
<circle class="fa1" cx="1283.0" cy="457.5" r="7.2"/><circle class="sa1" cx="1283.0" cy="457.5" r="6.2"/>
<circle class="fa1" cx="1292.7" cy="458.8" r="7.2"/><circle class="sa1" cx="1292.7" cy="458.8" r="6.2"/>
<circle class="fa1" cx="1291.8" cy="458.3" r="7.2"/><circle class="sa1" cx="1291.8" cy="458.3" r="6.2"/>
<circle class="fa1" cx="1292.1" cy="459.6" r="7.2"/><circle class="sa1" cx="1292.1" cy="459.6" r="6.2"/>
<circle class="fa1" cx="1295.9" cy="458.1" r="7.2"/><circle class="sa1" cx="1295.9" cy="458.1" r="6.2"/>
<circle class="fa1" cx="1295.5" cy="457.9" r="7.2"/><circle class="sa1" cx="1295.5" cy="457.9" r="6.2"/>
<circle class="fa1" cx="1295.0" cy="458.3" r="7.2"/><circle class="sa1" cx="1295.0" cy="458.3" r="6.2"/>
<circle class="fa1" cx="1302.2" cy="459.3" r="7.2"/><circle class="sa1" cx="1302.2" cy="459.3" r="6.2"/>
<circle class="fa1" cx="1302.0" cy="459.4" r="7.2"/><circle class="sa1" cx="1302.0" cy="459.4" r="6.2"/>
<circle class="fa1" cx="1302.8" cy="460.4" r="7.2"/><circle class="sa1" cx="1302.8" cy="460.4" r="6.2"/>
<circle class="fa1" cx="1307.2" cy="458.9" r="7.2"/><circle class="sa1" cx="1307.2" cy="458.9" r="6.2"/>
<circle class="fa1" cx="1308.3" cy="458.2" r="7.2"/><circle class="sa1" cx="1308.3" cy="458.2" r="6.2"/>
<circle class="fa1" cx="1307.1" cy="458.2" r="7.2"/><circle class="sa1" cx="1307.1" cy="458.2" r="6.2"/>
<circle class="fa1" cx="1311.8" cy="460.4" r="7.2"/><circle class="sa1" cx="1311.8" cy="460.4" r="6.2"/>
<circle class="fa1" cx="1312.1" cy="459.4" r="7.2"/><circle class="sa1" cx="1312.1" cy="459.4" r="6.2"/>
<circle class="fa1" cx="1312.3" cy="459.5" r="7.2"/><circle class="sa1" cx="1312.3" cy="459.5" r="6.2"/>
<circle class="fa1" cx="1318.5" cy="458.1" r="7.2"/><circle class="sa1" cx="1318.5" cy="458.1" r="6.2"/>
<circle class="fa1" cx="1317.7" cy="458.2" r="7.2"/><circle class="sa1" cx="1317.7" cy="458.2" r="6.2"/>
<circle class="fa1" cx="1317.8" cy="459.4" r="7.2"/><circle class="sa1" cx="1317.8" cy="459.4" r="6.2"/>
<circle class="fa1" cx="1327.9" cy="457.8" r="7.2"/><circle class="sa1" cx="1327.9" cy="457.8" r="6.2"/>
<circle class="fa1" cx="1327.6" cy="456.8" r="7.2"/><circle class="sa1" cx="1327.6" cy="456.8" r="6.2"/>
<circle class="fa1" cx="1327.1" cy="457.2" r="7.2"/><circle class="sa1" cx="1327.1" cy="457.2" r="6.2"/>
<circle class="fa1" cx="1330.4" cy="461.6" r="7.2"/><circle class="sa1" cx="1330.4" cy="461.6" r="6.2"/>
<circle class="fa1" cx="1330.5" cy="460.9" r="7.2"/><circle class="sa1" cx="1330.5" cy="460.9" r="6.2"/>
<circle class="fa1" cx="1340.1" cy="460.1" r="7.2"/><circle class="sa1" cx="1340.1" cy="460.1" r="6.2"/>
<circle class="fa1" cx="1340.8" cy="461.6" r="7.2"/><circle class="sa1" cx="1340.8" cy="461.6" r="6.2"/>
<circle class="fa1" cx="1348.5" cy="459.2" r="7.2"/><circle class="sa1" cx="1348.5" cy="459.2" r="6.2"/>
<circle class="fa1" cx="1347.5" cy="459.9" r="7.2"/><circle class="sa1" cx="1347.5" cy="459.9" r="6.2"/>
<circle class="fa1" cx="1359.2" cy="461.2" r="7.2"/><circle class="sa1" cx="1359.2" cy="461.2" r="6.2"/>
<circle class="fa1" cx="1359.0" cy="461.7" r="7.2"/><circle class="sa1" cx="1359.0" cy="461.7" r="6.2"/>
<circle class="fa1" cx="1369.8" cy="459.7" r="7.2"/><circle class="sa1" cx="1369.8" cy="459.7" r="6.2"/>
<circle class="fa1" cx="1369.7" cy="460.3" r="7.2"/><circle class="sa1" cx="1369.7" cy="460.3" r="6.2"/>
<circle class="fa1" cx="1381.3" cy="460.9" r="7.2"/><circle class="sa1" cx="1381.3" cy="460.9" r="6.2"/>
<circle class="fa1" cx="1381.3" cy="461.0" r="7.2"/><circle class="sa1" cx="1381.3" cy="461.0" r="6.2"/>
<circle class="fa1" cx="1392.2" cy="459.3" r="7.2"/><circle class="sa1" cx="1392.2" cy="459.3" r="6.2"/>
<circle class="fa1" cx="1391.2" cy="460.4" r="7.2"/><circle class="sa1" cx="1391.2" cy="460.4" r="6.2"/>
<circle class="fa1" cx="905.2" cy="458.3" r="7.2"/><circle class="sa1" cx="905.2" cy="458.3" r="6.2"/>
<circle class="fa1" cx="904.4" cy="458.1" r="7.2"/><circle class="sa1" cx="904.4" cy="458.1" r="6.2"/>
<circle class="fa1" cx="905.6" cy="458.2" r="7.2"/><circle class="sa1" cx="905.6" cy="458.2" r="6.2"/>
<circle class="fa1" cx="911.8" cy="455.7" r="7.2"/><circle class="sa1" cx="911.8" cy="455.7" r="6.2"/>
<circle class="fa1" cx="911.8" cy="456.1" r="7.2"/><circle class="sa1" cx="911.8" cy="456.1" r="6.2"/>
<circle class="fa1" cx="912.5" cy="455.5" r="7.2"/><circle class="sa1" cx="912.5" cy="455.5" r="6.2"/>
<circle class="fa1" cx="917.9" cy="455.1" r="7.2"/><circle class="sa1" cx="917.9" cy="455.1" r="6.2"/>
<circle class="fa1" cx="918.3" cy="455.1" r="7.2"/><circle class="sa1" cx="918.3" cy="455.1" r="6.2"/>
<circle class="fa1" cx="918.7" cy="455.5" r="7.2"/><circle class="sa1" cx="918.7" cy="455.5" r="6.2"/>
<circle class="fa1" cx="926.1" cy="458.7" r="7.2"/><circle class="sa1" cx="926.1" cy="458.7" r="6.2"/>
<circle class="fa1" cx="925.7" cy="459.7" r="7.2"/><circle class="sa1" cx="925.7" cy="459.7" r="6.2"/>
<circle class="fa1" cx="925.2" cy="459.2" r="7.2"/><circle class="sa1" cx="925.2" cy="459.2" r="6.2"/>
<circle class="fa1" cx="935.3" cy="457.7" r="7.2"/><circle class="sa1" cx="935.3" cy="457.7" r="6.2"/>
<circle class="fa1" cx="935.1" cy="456.4" r="7.2"/><circle class="sa1" cx="935.1" cy="456.4" r="6.2"/>
<circle class="fa1" cx="934.1" cy="457.2" r="7.2"/><circle class="sa1" cx="934.1" cy="457.2" r="6.2"/>
<circle class="fa1" cx="940.1" cy="456.6" r="7.2"/><circle class="sa1" cx="940.1" cy="456.6" r="6.2"/>
<circle class="fa1" cx="939.6" cy="456.3" r="7.2"/><circle class="sa1" cx="939.6" cy="456.3" r="6.2"/>
<circle class="fa1" cx="940.3" cy="455.0" r="7.2"/><circle class="sa1" cx="940.3" cy="455.0" r="6.2"/>
<circle class="fa1" cx="944.9" cy="455.5" r="7.2"/><circle class="sa1" cx="944.9" cy="455.5" r="6.2"/>
<circle class="fa1" cx="945.1" cy="455.3" r="7.2"/><circle class="sa1" cx="945.1" cy="455.3" r="6.2"/>
<circle class="fa1" cx="945.7" cy="454.9" r="7.2"/><circle class="sa1" cx="945.7" cy="454.9" r="6.2"/>
<circle class="fa1" cx="955.4" cy="457.9" r="7.2"/><circle class="sa1" cx="955.4" cy="457.9" r="6.2"/>
<circle class="fa1" cx="954.8" cy="458.6" r="7.2"/><circle class="sa1" cx="954.8" cy="458.6" r="6.2"/>
<circle class="fa1" cx="954.8" cy="458.5" r="7.2"/><circle class="sa1" cx="954.8" cy="458.5" r="6.2"/>
<circle class="fa1" cx="961.2" cy="457.9" r="7.2"/><circle class="sa1" cx="961.2" cy="457.9" r="6.2"/>
<circle class="fa1" cx="960.3" cy="458.3" r="7.2"/><circle class="sa1" cx="960.3" cy="458.3" r="6.2"/>
<circle class="fa1" cx="960.2" cy="458.5" r="7.2"/><circle class="sa1" cx="960.2" cy="458.5" r="6.2"/>
<circle class="fa1" cx="968.5" cy="457.8" r="7.2"/><circle class="sa1" cx="968.5" cy="457.8" r="6.2"/>
<circle class="fa1" cx="968.8" cy="457.0" r="7.2"/><circle class="sa1" cx="968.8" cy="457.0" r="6.2"/>
<circle class="fa1" cx="969.8" cy="457.1" r="7.2"/><circle class="sa1" cx="969.8" cy="457.1" r="6.2"/>
<circle class="fa1" cx="976.5" cy="458.1" r="7.2"/><circle class="sa1" cx="976.5" cy="458.1" r="6.2"/>
<circle class="fa1" cx="976.4" cy="457.4" r="7.2"/><circle class="sa1" cx="976.4" cy="457.4" r="6.2"/>
<circle class="fa1" cx="976.2" cy="458.4" r="7.2"/><circle class="sa1" cx="976.2" cy="458.4" r="6.2"/>
<circle class="fa1" cx="981.4" cy="457.4" r="7.2"/><circle class="sa1" cx="981.4" cy="457.4" r="6.2"/>
<circle class="fa1" cx="982.4" cy="457.6" r="7.2"/><circle class="sa1" cx="982.4" cy="457.6" r="6.2"/>
<circle class="fa1" cx="981.2" cy="457.1" r="7.2"/><circle class="sa1" cx="981.2" cy="457.1" r="6.2"/>
<circle class="fa1" cx="988.4" cy="456.6" r="7.2"/><circle class="sa1" cx="988.4" cy="456.6" r="6.2"/>
<circle class="fa1" cx="988.2" cy="457.2" r="7.2"/><circle class="sa1" cx="988.2" cy="457.2" r="6.2"/>
<circle class="fa1" cx="987.9" cy="456.7" r="7.2"/><circle class="sa1" cx="987.9" cy="456.7" r="6.2"/>
</g>
<line x1="846.7" y1="392.1" x2="1421.0" y2="392.1" stroke="#000" stroke-width="3.6"/>
<line x1="846.7" y1="535.3" x2="1421.0" y2="535.3" stroke="#000" stroke-width="3.6"/>
<rect x="846.7" y="32.5" width="574.3" height="575.0" fill="none" stroke="#1a1a1a" stroke-width="1.4"/>
<line x1="846.8" y1="32.5" x2="846.8" y2="607.5" stroke="#000" stroke-width="2"/>
<line x1="834.7" y1="391.9" x2="846.7" y2="391.9" stroke="#1a1a1a" stroke-width="1.4"/>
<text x="817.6" y="400.0" font-size="23.0" text-anchor="end" font-weight="normal" textLength="26.8" lengthAdjust="spacingAndGlyphs">0.1</text>
<line x1="834.7" y1="463.5" x2="846.7" y2="463.5" stroke="#1a1a1a" stroke-width="1.4"/>
<text x="817.6" y="471.6" font-size="23.0" text-anchor="end" font-weight="normal">0</text>
<line x1="834.7" y1="535.1" x2="846.7" y2="535.1" stroke="#1a1a1a" stroke-width="1.4"/>
<text x="817.6" y="543.2" font-size="23.0" text-anchor="end" font-weight="normal" textLength="38.3" lengthAdjust="spacingAndGlyphs">−0.1</text>
<line x1="872.8" y1="607.5" x2="872.8" y2="619.0" stroke="#1a1a1a" stroke-width="1.4"/>
<text x="872.8" y="648.2" font-size="23.0" text-anchor="middle" font-weight="normal">0</text>
<line x1="982.1" y1="607.5" x2="982.1" y2="619.0" stroke="#1a1a1a" stroke-width="1.4"/>
<text x="982.1" y="648.2" font-size="23.0" text-anchor="middle" font-weight="normal" textLength="32.6" lengthAdjust="spacingAndGlyphs">0.2</text>
<line x1="1091.4" y1="607.5" x2="1091.4" y2="619.0" stroke="#1a1a1a" stroke-width="1.4"/>
<text x="1091.4" y="648.2" font-size="23.0" text-anchor="middle" font-weight="normal" textLength="32.6" lengthAdjust="spacingAndGlyphs">0.4</text>
<line x1="1200.7" y1="607.5" x2="1200.7" y2="619.0" stroke="#1a1a1a" stroke-width="1.4"/>
<text x="1200.7" y="648.2" font-size="23.0" text-anchor="middle" font-weight="normal" textLength="32.6" lengthAdjust="spacingAndGlyphs">0.6</text>
<line x1="1310.0" y1="607.5" x2="1310.0" y2="619.0" stroke="#1a1a1a" stroke-width="1.4"/>
<text x="1310.0" y="648.2" font-size="23.0" text-anchor="middle" font-weight="normal" textLength="32.6" lengthAdjust="spacingAndGlyphs">0.8</text>
<line x1="1419.3" y1="607.5" x2="1419.3" y2="619.0" stroke="#1a1a1a" stroke-width="1.4"/>
<text x="1419.3" y="648.2" font-size="23.0" text-anchor="middle" font-weight="normal" textLength="30.0" lengthAdjust="spacingAndGlyphs">1.0</text>
<text x="774.2" y="317.9" font-size="27.5" text-anchor="middle" font-weight="normal" textLength="389.5" lengthAdjust="spacingAndGlyphs" transform="rotate(-90 774.2 317.9)">ΔQS-score (QSMap – QSMapR)</text>
<text x="1134.0" y="689.1" font-size="27.5" text-anchor="middle" font-weight="normal" textLength="235.4" lengthAdjust="spacingAndGlyphs">QS-score (QSMap)</text>
<text x="744.5" y="29.2" font-size="39.0" text-anchor="start" font-weight="bold" stroke="#000" stroke-width="0.8">b</text>
<rect x="1579.5" y="19.7" width="587.3" height="587.6" fill="#e4e4e4"/>
<rect x="1579.5" y="387.4" width="587.3" height="147.0" fill="#fff"/>
<text x="2015.0" y="379.5" font-size="27.5" textLength="87.6" lengthAdjust="spacingAndGlyphs"><tspan font-style="italic">N</tspan> = 219</text>
<text x="2015.0" y="526.5" font-size="27.5" textLength="113.6" lengthAdjust="spacingAndGlyphs"><tspan font-style="italic">N</tspan> = 3,325</text>
<text x="2015.0" y="601.5" font-size="27.5" textLength="73.0" lengthAdjust="spacingAndGlyphs"><tspan font-style="italic">N</tspan> = 15</text>
<g>
<line x1="1634.0" y1="460.5" x2="1730.0" y2="460.5" stroke="#000" stroke-width="17.0" stroke-linecap="round"/>
<line x1="1730.0" y1="460.6" x2="2139.5" y2="460.6" stroke="#000" stroke-width="16.4" stroke-linecap="round"/>
<ellipse cx="1676" cy="462" rx="17" ry="26" fill="#000" fill-opacity="0.92"/>
<ellipse cx="2080" cy="470" rx="8" ry="15" fill="#000" fill-opacity="0.9"/>
<circle class="fa1" cx="2065.6" cy="81.9" r="7.2"/><circle class="sa1" cx="2065.6" cy="81.9" r="6.2"/>
<circle class="fa1" cx="2065.3" cy="83.1" r="7.2"/><circle class="sa1" cx="2065.3" cy="83.1" r="6.2"/>
<circle class="fa1" cx="2064.3" cy="81.9" r="7.2"/><circle class="sa1" cx="2064.3" cy="81.9" r="6.2"/>
<circle class="fa1" cx="2064.5" cy="81.7" r="7.2"/><circle class="sa1" cx="2064.5" cy="81.7" r="6.2"/>
<circle class="fa1" cx="2065.1" cy="81.6" r="7.2"/><circle class="sa1" cx="2065.1" cy="81.6" r="6.2"/>
<circle class="fa1" cx="2072.7" cy="148.8" r="7.2"/><circle class="sa1" cx="2072.7" cy="148.8" r="6.2"/>
<circle class="fa1" cx="2031.5" cy="171.2" r="7.2"/><circle class="sa1" cx="2031.5" cy="171.2" r="6.2"/>
<circle class="fa1" cx="2014.6" cy="178.7" r="7.2"/><circle class="sa1" cx="2014.6" cy="178.7" r="6.2"/>
<circle class="fa1" cx="2024.6" cy="186.4" r="7.2"/><circle class="sa1" cx="2024.6" cy="186.4" r="6.2"/>
<circle class="fa1" cx="1997.0" cy="200.5" r="7.2"/><circle class="sa1" cx="1997.0" cy="200.5" r="6.2"/>
<circle class="fa1" cx="2012.1" cy="202.7" r="7.2"/><circle class="sa1" cx="2012.1" cy="202.7" r="6.2"/>
<circle class="fa1" cx="2094.6" cy="191.6" r="7.2"/><circle class="sa1" cx="2094.6" cy="191.6" r="6.2"/>
<circle class="fa1" cx="2086.5" cy="205.1" r="7.2"/><circle class="sa1" cx="2086.5" cy="205.1" r="6.2"/>
<circle class="fa1" cx="2085.5" cy="204.3" r="7.2"/><circle class="sa1" cx="2085.5" cy="204.3" r="6.2"/>
<circle class="fa1" cx="2107.0" cy="200.8" r="7.2"/><circle class="sa1" cx="2107.0" cy="200.8" r="6.2"/>
<circle class="fa1" cx="2107.4" cy="200.3" r="7.2"/><circle class="sa1" cx="2107.4" cy="200.3" r="6.2"/>
<circle class="fa1" cx="2107.8" cy="200.8" r="7.2"/><circle class="sa1" cx="2107.8" cy="200.8" r="6.2"/>
<circle class="fa1" cx="2107.6" cy="200.5" r="7.2"/><circle class="sa1" cx="2107.6" cy="200.5" r="6.2"/>
<circle class="fa1" cx="1792.8" cy="318.4" r="7.2"/><circle class="sa1" cx="1792.8" cy="318.4" r="6.2"/>
<circle class="fa1" cx="1792.5" cy="318.3" r="7.2"/><circle class="sa1" cx="1792.5" cy="318.3" r="6.2"/>
<circle class="fa1" cx="1792.3" cy="318.1" r="7.2"/><circle class="sa1" cx="1792.3" cy="318.1" r="6.2"/>
<circle class="fa1" cx="1857.1" cy="312.4" r="7.2"/><circle class="sa1" cx="1857.1" cy="312.4" r="6.2"/>
<circle class="fa1" cx="2050.1" cy="218.4" r="7.2"/><circle class="sa1" cx="2050.1" cy="218.4" r="6.2"/>
<circle class="fa1" cx="1963.2" cy="219.0" r="7.2"/><circle class="sa1" cx="1963.2" cy="219.0" r="6.2"/>
<circle class="fa1" cx="1961.7" cy="219.1" r="7.2"/><circle class="sa1" cx="1961.7" cy="219.1" r="6.2"/>
<circle class="fa1" cx="1980.1" cy="214.8" r="7.2"/><circle class="sa1" cx="1980.1" cy="214.8" r="6.2"/>
<circle class="fa1" cx="1968.6" cy="216.9" r="7.2"/><circle class="sa1" cx="1968.6" cy="216.9" r="6.2"/>
<circle class="fa1" cx="1983.9" cy="225.6" r="7.2"/><circle class="sa1" cx="1983.9" cy="225.6" r="6.2"/>
<circle class="fa1" cx="1983.9" cy="226.7" r="7.2"/><circle class="sa1" cx="1983.9" cy="226.7" r="6.2"/>
<circle class="fa1" cx="1990.6" cy="230.5" r="7.2"/><circle class="sa1" cx="1990.6" cy="230.5" r="6.2"/>
<circle class="fa1" cx="1977.0" cy="232.2" r="7.2"/><circle class="sa1" cx="1977.0" cy="232.2" r="6.2"/>
<circle class="fa1" cx="2025.7" cy="233.7" r="7.2"/><circle class="sa1" cx="2025.7" cy="233.7" r="6.2"/>
<circle class="fa1" cx="1994.8" cy="243.1" r="7.2"/><circle class="sa1" cx="1994.8" cy="243.1" r="6.2"/>
<circle class="fa1" cx="1886.3" cy="237.7" r="7.2"/><circle class="sa1" cx="1886.3" cy="237.7" r="6.2"/>
<circle class="fa1" cx="1885.6" cy="237.3" r="7.2"/><circle class="sa1" cx="1885.6" cy="237.3" r="6.2"/>
<circle class="fa1" cx="1886.8" cy="237.9" r="7.2"/><circle class="sa1" cx="1886.8" cy="237.9" r="6.2"/>
<circle class="fa1" cx="1883.4" cy="258.1" r="7.2"/><circle class="sa1" cx="1883.4" cy="258.1" r="6.2"/>
<circle class="fa1" cx="1956.8" cy="234.9" r="7.2"/><circle class="sa1" cx="1956.8" cy="234.9" r="6.2"/>
<circle class="fa1" cx="1956.8" cy="236.5" r="7.2"/><circle class="sa1" cx="1956.8" cy="236.5" r="6.2"/>
<circle class="fa1" cx="1956.6" cy="235.7" r="7.2"/><circle class="sa1" cx="1956.6" cy="235.7" r="6.2"/>
<circle class="fa1" cx="1968.7" cy="244.0" r="7.2"/><circle class="sa1" cx="1968.7" cy="244.0" r="6.2"/>
<circle class="fa1" cx="1968.5" cy="243.4" r="7.2"/><circle class="sa1" cx="1968.5" cy="243.4" r="6.2"/>
<circle class="fa1" cx="1949.8" cy="248.3" r="7.2"/><circle class="sa1" cx="1949.8" cy="248.3" r="6.2"/>
<circle class="fa1" cx="1962.0" cy="249.0" r="7.2"/><circle class="sa1" cx="1962.0" cy="249.0" r="6.2"/>
<circle class="fa1" cx="1962.0" cy="248.8" r="7.2"/><circle class="sa1" cx="1962.0" cy="248.8" r="6.2"/>
<circle class="fa3" cx="1947.8" cy="261.9" r="7.2"/><circle class="sa3" cx="1947.8" cy="261.9" r="6.2"/>
<circle class="fa1" cx="1942.8" cy="265.9" r="7.2"/><circle class="sa1" cx="1942.8" cy="265.9" r="6.2"/>
<circle class="fa1" cx="1943.7" cy="266.6" r="7.2"/><circle class="sa1" cx="1943.7" cy="266.6" r="6.2"/>
<circle class="fa1" cx="1943.0" cy="266.3" r="7.2"/><circle class="sa1" cx="1943.0" cy="266.3" r="6.2"/>
<circle class="fa1" cx="1943.8" cy="265.6" r="7.2"/><circle class="sa1" cx="1943.8" cy="265.6" r="6.2"/>
<circle class="fa1" cx="1937.3" cy="264.0" r="7.2"/><circle class="sa1" cx="1937.3" cy="264.0" r="6.2"/>
<circle class="fa1" cx="1973.9" cy="257.7" r="7.2"/><circle class="sa1" cx="1973.9" cy="257.7" r="6.2"/>
<circle class="fa1" cx="1985.4" cy="257.7" r="7.2"/><circle class="sa1" cx="1985.4" cy="257.7" r="6.2"/>
<circle class="fa1" cx="1962.4" cy="266.0" r="7.2"/><circle class="sa1" cx="1962.4" cy="266.0" r="6.2"/>
<circle class="fa1" cx="1974.2" cy="269.7" r="7.2"/><circle class="sa1" cx="1974.2" cy="269.7" r="6.2"/>
<circle class="fa1" cx="1973.4" cy="270.2" r="7.2"/><circle class="sa1" cx="1973.4" cy="270.2" r="6.2"/>
<circle class="fa1" cx="1973.0" cy="270.2" r="7.2"/><circle class="sa1" cx="1973.0" cy="270.2" r="6.2"/>
<circle class="fa1" cx="2020.4" cy="252.8" r="7.2"/><circle class="sa1" cx="2020.4" cy="252.8" r="6.2"/>
<circle class="fa1" cx="2020.7" cy="253.9" r="7.2"/><circle class="sa1" cx="2020.7" cy="253.9" r="6.2"/>
<circle class="fa1" cx="2027.2" cy="255.6" r="7.2"/><circle class="sa1" cx="2027.2" cy="255.6" r="6.2"/>
<circle class="fa1" cx="2013.6" cy="259.8" r="7.2"/><circle class="sa1" cx="2013.6" cy="259.8" r="6.2"/>
<circle class="fa0" cx="1998.8" cy="267.8" r="7.2"/><circle class="sa0" cx="1998.8" cy="267.8" r="6.2"/>
<circle class="fa0" cx="1998.5" cy="266.5" r="7.2"/><circle class="sa0" cx="1998.5" cy="266.5" r="6.2"/>
<circle class="fa1" cx="2006.3" cy="272.3" r="7.2"/><circle class="sa1" cx="2006.3" cy="272.3" r="6.2"/>
<circle class="fa1" cx="2044.9" cy="275.4" r="7.2"/><circle class="sa1" cx="2044.9" cy="275.4" r="6.2"/>
<circle class="fa1" cx="2063.0" cy="279.8" r="7.2"/><circle class="sa1" cx="2063.0" cy="279.8" r="6.2"/>
<circle class="fa1" cx="2062.8" cy="279.2" r="7.2"/><circle class="sa1" cx="2062.8" cy="279.2" r="6.2"/>
<circle class="fa1" cx="2062.8" cy="279.8" r="7.2"/><circle class="sa1" cx="2062.8" cy="279.8" r="6.2"/>
<circle class="fa1" cx="2062.7" cy="279.6" r="7.2"/><circle class="sa1" cx="2062.7" cy="279.6" r="6.2"/>
<circle class="fa1" cx="1921.6" cy="281.1" r="7.2"/><circle class="sa1" cx="1921.6" cy="281.1" r="6.2"/>
<circle class="fa1" cx="1940.0" cy="282.5" r="7.2"/><circle class="sa1" cx="1940.0" cy="282.5" r="6.2"/>
<circle class="fa1" cx="1939.0" cy="282.1" r="7.2"/><circle class="sa1" cx="1939.0" cy="282.1" r="6.2"/>
<circle class="fa1" cx="1940.0" cy="282.4" r="7.2"/><circle class="sa1" cx="1940.0" cy="282.4" r="6.2"/>
<circle class="fa1" cx="1938.9" cy="282.3" r="7.2"/><circle class="sa1" cx="1938.9" cy="282.3" r="6.2"/>
<circle class="fa1" cx="1947.6" cy="286.2" r="7.2"/><circle class="sa1" cx="1947.6" cy="286.2" r="6.2"/>
<circle class="fa1" cx="1947.6" cy="286.5" r="7.2"/><circle class="sa1" cx="1947.6" cy="286.5" r="6.2"/>
<circle class="fa1" cx="1954.0" cy="275.4" r="7.2"/><circle class="sa1" cx="1954.0" cy="275.4" r="6.2"/>
<circle class="fa1" cx="2012.5" cy="291.5" r="7.2"/><circle class="sa1" cx="2012.5" cy="291.5" r="6.2"/>
<circle class="fa1" cx="1998.4" cy="301.6" r="7.2"/><circle class="sa1" cx="1998.4" cy="301.6" r="6.2"/>
<circle class="fa1" cx="1964.2" cy="292.7" r="7.2"/><circle class="sa1" cx="1964.2" cy="292.7" r="6.2"/>
<circle class="fa1" cx="1964.5" cy="292.9" r="7.2"/><circle class="sa1" cx="1964.5" cy="292.9" r="6.2"/>
<circle class="fa1" cx="1967.7" cy="297.6" r="7.2"/><circle class="sa1" cx="1967.7" cy="297.6" r="6.2"/>
<circle class="fa1" cx="1967.7" cy="296.5" r="7.2"/><circle class="sa1" cx="1967.7" cy="296.5" r="6.2"/>
<circle class="fa1" cx="1967.3" cy="296.9" r="7.2"/><circle class="sa1" cx="1967.3" cy="296.9" r="6.2"/>
<circle class="fa1" cx="1968.0" cy="296.7" r="7.2"/><circle class="sa1" cx="1968.0" cy="296.7" r="6.2"/>
<circle class="fa1" cx="1967.2" cy="305.5" r="7.2"/><circle class="sa1" cx="1967.2" cy="305.5" r="6.2"/>
<circle class="fa1" cx="1967.4" cy="306.3" r="7.2"/><circle class="sa1" cx="1967.4" cy="306.3" r="6.2"/>
<circle class="fa1" cx="1967.4" cy="306.2" r="7.2"/><circle class="sa1" cx="1967.4" cy="306.2" r="6.2"/>
<circle class="fa1" cx="1967.1" cy="305.0" r="7.2"/><circle class="sa1" cx="1967.1" cy="305.0" r="6.2"/>
<circle class="fa1" cx="1910.1" cy="304.9" r="7.2"/><circle class="sa1" cx="1910.1" cy="304.9" r="6.2"/>
<circle class="fa1" cx="1909.8" cy="304.8" r="7.2"/><circle class="sa1" cx="1909.8" cy="304.8" r="6.2"/>
<circle class="fa1" cx="1909.8" cy="304.1" r="7.2"/><circle class="sa1" cx="1909.8" cy="304.1" r="6.2"/>
<circle class="fa1" cx="1926.9" cy="301.6" r="7.2"/><circle class="sa1" cx="1926.9" cy="301.6" r="6.2"/>
<circle class="fa1" cx="1938.4" cy="301.6" r="7.2"/><circle class="sa1" cx="1938.4" cy="301.6" r="6.2"/>
<circle class="fa1" cx="1944.1" cy="311.7" r="7.2"/><circle class="sa1" cx="1944.1" cy="311.7" r="6.2"/>
<circle class="fa1" cx="1944.2" cy="312.0" r="7.2"/><circle class="sa1" cx="1944.2" cy="312.0" r="6.2"/>
<circle class="fa1" cx="1942.9" cy="311.5" r="7.2"/><circle class="sa1" cx="1942.9" cy="311.5" r="6.2"/>
<circle class="fa1" cx="1944.2" cy="311.9" r="7.2"/><circle class="sa1" cx="1944.2" cy="311.9" r="6.2"/>
<circle class="fa1" cx="1958.2" cy="307.8" r="7.2"/><circle class="sa1" cx="1958.2" cy="307.8" r="6.2"/>
<circle class="fa1" cx="1973.7" cy="323.7" r="7.2"/><circle class="sa1" cx="1973.7" cy="323.7" r="6.2"/>
<circle class="fa1" cx="1973.6" cy="323.2" r="7.2"/><circle class="sa1" cx="1973.6" cy="323.2" r="6.2"/>
<circle class="fa1" cx="1974.0" cy="323.6" r="7.2"/><circle class="sa1" cx="1974.0" cy="323.6" r="6.2"/>
<circle class="fa1" cx="1974.6" cy="323.5" r="7.2"/><circle class="sa1" cx="1974.6" cy="323.5" r="6.2"/>
<circle class="fa1" cx="1974.5" cy="324.1" r="7.2"/><circle class="sa1" cx="1974.5" cy="324.1" r="6.2"/>
<circle class="fa1" cx="1974.6" cy="323.9" r="7.2"/><circle class="sa1" cx="1974.6" cy="323.9" r="6.2"/>
<circle class="fa1" cx="1988.6" cy="325.7" r="7.2"/><circle class="sa1" cx="1988.6" cy="325.7" r="6.2"/>
<circle class="fa1" cx="1988.4" cy="325.2" r="7.2"/><circle class="sa1" cx="1988.4" cy="325.2" r="6.2"/>
<circle class="fa1" cx="1980.1" cy="320.0" r="7.2"/><circle class="sa1" cx="1980.1" cy="320.0" r="6.2"/>
<circle class="fa1" cx="1980.9" cy="320.6" r="7.2"/><circle class="sa1" cx="1980.9" cy="320.6" r="6.2"/>
<circle class="fa1" cx="1892.4" cy="319.3" r="7.2"/><circle class="sa1" cx="1892.4" cy="319.3" r="6.2"/>
<circle class="fa1" cx="1924.8" cy="318.3" r="7.2"/><circle class="sa1" cx="1924.8" cy="318.3" r="6.2"/>
<circle class="fa1" cx="1930.0" cy="319.3" r="7.2"/><circle class="sa1" cx="1930.0" cy="319.3" r="6.2"/>
<circle class="fa1" cx="1899.7" cy="330.8" r="7.2"/><circle class="sa1" cx="1899.7" cy="330.8" r="6.2"/>
<circle class="fa1" cx="1912.2" cy="325.6" r="7.2"/><circle class="sa1" cx="1912.2" cy="325.6" r="6.2"/>
<circle class="fa1" cx="1880.7" cy="333.1" r="7.2"/><circle class="sa1" cx="1880.7" cy="333.1" r="6.2"/>
<circle class="fa1" cx="1880.9" cy="333.6" r="7.2"/><circle class="sa1" cx="1880.9" cy="333.6" r="6.2"/>
<circle class="fa1" cx="1880.4" cy="333.4" r="7.2"/><circle class="sa1" cx="1880.4" cy="333.4" r="6.2"/>
<circle class="fa1" cx="1880.1" cy="334.1" r="7.2"/><circle class="sa1" cx="1880.1" cy="334.1" r="6.2"/>
<circle class="fa1" cx="1872.5" cy="335.0" r="7.2"/><circle class="sa1" cx="1872.5" cy="335.0" r="6.2"/>
<circle class="fa1" cx="1883.0" cy="346.2" r="7.2"/><circle class="sa1" cx="1883.0" cy="346.2" r="6.2"/>
<circle class="fa1" cx="1897.0" cy="332.2" r="7.2"/><circle class="sa1" cx="1897.0" cy="332.2" r="6.2"/>
<circle class="fa1" cx="1916.5" cy="342.8" r="7.2"/><circle class="sa1" cx="1916.5" cy="342.8" r="6.2"/>
<circle class="fa1" cx="1916.5" cy="341.8" r="7.2"/><circle class="sa1" cx="1916.5" cy="341.8" r="6.2"/>
<circle class="fa1" cx="1917.2" cy="342.0" r="7.2"/><circle class="sa1" cx="1917.2" cy="342.0" r="6.2"/>
<circle class="fa1" cx="1916.6" cy="341.7" r="7.2"/><circle class="sa1" cx="1916.6" cy="341.7" r="6.2"/>
<circle class="fa1" cx="1916.2" cy="342.6" r="7.2"/><circle class="sa1" cx="1916.2" cy="342.6" r="6.2"/>
<circle class="fa1" cx="1916.9" cy="342.6" r="7.2"/><circle class="sa1" cx="1916.9" cy="342.6" r="6.2"/>
<circle class="fa1" cx="1916.3" cy="341.9" r="7.2"/><circle class="sa1" cx="1916.3" cy="341.9" r="6.2"/>
<circle class="fa1" cx="1924.6" cy="337.0" r="7.2"/><circle class="sa1" cx="1924.6" cy="337.0" r="6.2"/>
<circle class="fa1" cx="1924.4" cy="336.8" r="7.2"/><circle class="sa1" cx="1924.4" cy="336.8" r="6.2"/>
<circle class="fa1" cx="1925.6" cy="337.1" r="7.2"/><circle class="sa1" cx="1925.6" cy="337.1" r="6.2"/>
<circle class="fa1" cx="1924.6" cy="337.0" r="7.2"/><circle class="sa1" cx="1924.6" cy="337.0" r="6.2"/>
<circle class="fa1" cx="1936.6" cy="338.2" r="7.2"/><circle class="sa1" cx="1936.6" cy="338.2" r="6.2"/>
<circle class="fa1" cx="1936.4" cy="339.1" r="7.2"/><circle class="sa1" cx="1936.4" cy="339.1" r="6.2"/>
<circle class="fa1" cx="1937.7" cy="338.3" r="7.2"/><circle class="sa1" cx="1937.7" cy="338.3" r="6.2"/>
<circle class="fa1" cx="1936.6" cy="338.4" r="7.2"/><circle class="sa1" cx="1936.6" cy="338.4" r="6.2"/>
<circle class="fa1" cx="1911.9" cy="336.8" r="7.2"/><circle class="sa1" cx="1911.9" cy="336.8" r="6.2"/>
<circle class="fa1" cx="1910.9" cy="335.7" r="7.2"/><circle class="sa1" cx="1910.9" cy="335.7" r="6.2"/>
<circle class="fa1" cx="1910.8" cy="337.1" r="7.2"/><circle class="sa1" cx="1910.8" cy="337.1" r="6.2"/>
<circle class="fa0" cx="1957.3" cy="333.1" r="7.2"/><circle class="sa0" cx="1957.3" cy="333.1" r="6.2"/>
<circle class="fa0" cx="1956.1" cy="332.9" r="7.2"/><circle class="sa0" cx="1956.1" cy="332.9" r="6.2"/>
<circle class="fa1" cx="1987.8" cy="330.5" r="7.2"/><circle class="sa1" cx="1987.8" cy="330.5" r="6.2"/>
<circle class="fa1" cx="1967.3" cy="344.6" r="7.2"/><circle class="sa1" cx="1967.3" cy="344.6" r="6.2"/>
<circle class="fa1" cx="1952.4" cy="350.9" r="7.2"/><circle class="sa1" cx="1952.4" cy="350.9" r="6.2"/>
<circle class="fa1" cx="1952.7" cy="351.0" r="7.2"/><circle class="sa1" cx="1952.7" cy="351.0" r="6.2"/>
<circle class="fa1" cx="1952.5" cy="350.0" r="7.2"/><circle class="sa1" cx="1952.5" cy="350.0" r="6.2"/>
<circle class="fa1" cx="1948.9" cy="354.9" r="7.2"/><circle class="sa1" cx="1948.9" cy="354.9" r="6.2"/>
<circle class="fa1" cx="1937.0" cy="353.8" r="7.2"/><circle class="sa1" cx="1937.0" cy="353.8" r="6.2"/>
<circle class="fa1" cx="1928.6" cy="350.1" r="7.2"/><circle class="sa1" cx="1928.6" cy="350.1" r="6.2"/>
<circle class="fa1" cx="1928.9" cy="350.5" r="7.2"/><circle class="sa1" cx="1928.9" cy="350.5" r="6.2"/>
<circle class="fa1" cx="1912.6" cy="360.6" r="7.2"/><circle class="sa1" cx="1912.6" cy="360.6" r="6.2"/>
<circle class="fa1" cx="1913.5" cy="359.5" r="7.2"/><circle class="sa1" cx="1913.5" cy="359.5" r="6.2"/>
<circle class="fa1" cx="1931.3" cy="361.5" r="7.2"/><circle class="sa1" cx="1931.3" cy="361.5" r="6.2"/>
<circle class="fa1" cx="1930.8" cy="360.5" r="7.2"/><circle class="sa1" cx="1930.8" cy="360.5" r="6.2"/>
<circle class="fa1" cx="1930.1" cy="361.1" r="7.2"/><circle class="sa1" cx="1930.1" cy="361.1" r="6.2"/>
<circle class="fa1" cx="1931.0" cy="360.6" r="7.2"/><circle class="sa1" cx="1931.0" cy="360.6" r="6.2"/>
<circle class="fa1" cx="1937.0" cy="366.7" r="7.2"/><circle class="sa1" cx="1937.0" cy="366.7" r="6.2"/>
<circle class="fa1" cx="1932.7" cy="371.1" r="7.2"/><circle class="sa1" cx="1932.7" cy="371.1" r="6.2"/>
<circle class="fa1" cx="1998.3" cy="347.0" r="7.2"/><circle class="sa1" cx="1998.3" cy="347.0" r="6.2"/>
<circle class="fa1" cx="1998.4" cy="348.0" r="7.2"/><circle class="sa1" cx="1998.4" cy="348.0" r="6.2"/>
<circle class="fa1" cx="1997.8" cy="347.5" r="7.2"/><circle class="sa1" cx="1997.8" cy="347.5" r="6.2"/>
<circle class="fa1" cx="1872.4" cy="371.8" r="7.2"/><circle class="sa1" cx="1872.4" cy="371.8" r="6.2"/>
<circle class="fa1" cx="1872.6" cy="370.9" r="7.2"/><circle class="sa1" cx="1872.6" cy="370.9" r="6.2"/>
<circle class="fa1" cx="1871.6" cy="370.6" r="7.2"/><circle class="sa1" cx="1871.6" cy="370.6" r="6.2"/>
<circle class="fa1" cx="1885.8" cy="377.7" r="7.2"/><circle class="sa1" cx="1885.8" cy="377.7" r="6.2"/>
<circle class="fa1" cx="1886.2" cy="378.4" r="7.2"/><circle class="sa1" cx="1886.2" cy="378.4" r="6.2"/>
<circle class="fa1" cx="1898.3" cy="374.8" r="7.2"/><circle class="sa1" cx="1898.3" cy="374.8" r="6.2"/>
<circle class="fa1" cx="1898.8" cy="375.8" r="7.2"/><circle class="sa1" cx="1898.8" cy="375.8" r="6.2"/>
<circle class="fa1" cx="1906.8" cy="372.8" r="7.2"/><circle class="sa1" cx="1906.8" cy="372.8" r="6.2"/>
<circle class="fa1" cx="1906.0" cy="372.8" r="7.2"/><circle class="sa1" cx="1906.0" cy="372.8" r="6.2"/>
<circle class="fa1" cx="1915.4" cy="375.4" r="7.2"/><circle class="sa1" cx="1915.4" cy="375.4" r="6.2"/>
<circle class="fa1" cx="1929.4" cy="379.7" r="7.2"/><circle class="sa1" cx="1929.4" cy="379.7" r="6.2"/>
<circle class="fa1" cx="1881.3" cy="382.6" r="7.2"/><circle class="sa1" cx="1881.3" cy="382.6" r="6.2"/>
<circle class="fa1" cx="1880.1" cy="383.1" r="7.2"/><circle class="sa1" cx="1880.1" cy="383.1" r="6.2"/>
<circle class="fa1" cx="1900.3" cy="381.9" r="7.2"/><circle class="sa1" cx="1900.3" cy="381.9" r="6.2"/>
<circle class="fa1" cx="1879.7" cy="393.8" r="7.2"/><circle class="sa1" cx="1879.7" cy="393.8" r="6.2"/>
<circle class="fa1" cx="1894.9" cy="395.9" r="7.2"/><circle class="sa1" cx="1894.9" cy="395.9" r="6.2"/>
<circle class="fa1" cx="1905.7" cy="394.8" r="7.2"/><circle class="sa1" cx="1905.7" cy="394.8" r="6.2"/>
<circle class="fa1" cx="1927.3" cy="395.9" r="7.2"/><circle class="sa1" cx="1927.3" cy="395.9" r="6.2"/>
<circle class="fa1" cx="1878.7" cy="403.9" r="7.2"/><circle class="sa1" cx="1878.7" cy="403.9" r="6.2"/>
<circle class="fa1" cx="1878.9" cy="404.2" r="7.2"/><circle class="sa1" cx="1878.9" cy="404.2" r="6.2"/>
<circle class="fa1" cx="1933.8" cy="403.5" r="7.2"/><circle class="sa1" cx="1933.8" cy="403.5" r="6.2"/>
<circle class="fa1" cx="1998.6" cy="403.5" r="7.2"/><circle class="sa1" cx="1998.6" cy="403.5" r="6.2"/>
<circle class="fa1" cx="2038.5" cy="351.6" r="7.2"/><circle class="sa1" cx="2038.5" cy="351.6" r="6.2"/>
<circle class="fa1" cx="2049.9" cy="380.8" r="7.2"/><circle class="sa1" cx="2049.9" cy="380.8" r="6.2"/>
<circle class="fa1" cx="1869.1" cy="334.9" r="7.2"/><circle class="sa1" cx="1869.1" cy="334.9" r="6.2"/>
<circle class="fa1" cx="1756.2" cy="353.2" r="7.2"/><circle class="sa1" cx="1756.2" cy="353.2" r="6.2"/>
<circle class="fa1" cx="1745.5" cy="362.2" r="7.2"/><circle class="sa1" cx="1745.5" cy="362.2" r="6.2"/>
<circle class="fa1" cx="1745.4" cy="362.1" r="7.2"/><circle class="sa1" cx="1745.4" cy="362.1" r="6.2"/>
<circle class="fa1" cx="1746.0" cy="361.9" r="7.2"/><circle class="sa1" cx="1746.0" cy="361.9" r="6.2"/>
<circle class="fa1" cx="1737.4" cy="375.4" r="7.2"/><circle class="sa1" cx="1737.4" cy="375.4" r="6.2"/>
<circle class="fa1" cx="1737.4" cy="375.8" r="7.2"/><circle class="sa1" cx="1737.4" cy="375.8" r="6.2"/>
<circle class="fa1" cx="1736.9" cy="375.1" r="7.2"/><circle class="sa1" cx="1736.9" cy="375.1" r="6.2"/>
<circle class="fa1" cx="1761.7" cy="370.2" r="7.2"/><circle class="sa1" cx="1761.7" cy="370.2" r="6.2"/>
<circle class="fa1" cx="1762.0" cy="370.5" r="7.2"/><circle class="sa1" cx="1762.0" cy="370.5" r="6.2"/>
<circle class="fa1" cx="1763.0" cy="370.7" r="7.2"/><circle class="sa1" cx="1763.0" cy="370.7" r="6.2"/>
<circle class="fa1" cx="1770.8" cy="367.3" r="7.2"/><circle class="sa1" cx="1770.8" cy="367.3" r="6.2"/>
<circle class="fa1" cx="1787.0" cy="370.5" r="7.2"/><circle class="sa1" cx="1787.0" cy="370.5" r="6.2"/>
<circle class="fa1" cx="1795.0" cy="374.3" r="7.2"/><circle class="sa1" cx="1795.0" cy="374.3" r="6.2"/>
<circle class="fa1" cx="1794.2" cy="374.6" r="7.2"/><circle class="sa1" cx="1794.2" cy="374.6" r="6.2"/>
<circle class="fa1" cx="1794.7" cy="374.2" r="7.2"/><circle class="sa1" cx="1794.7" cy="374.2" r="6.2"/>
<circle class="fa1" cx="1795.3" cy="374.5" r="7.2"/><circle class="sa1" cx="1795.3" cy="374.5" r="6.2"/>
<circle class="fa1" cx="1795.0" cy="374.0" r="7.2"/><circle class="sa1" cx="1795.0" cy="374.0" r="6.2"/>
<circle class="fa1" cx="1794.6" cy="375.0" r="7.2"/><circle class="sa1" cx="1794.6" cy="375.0" r="6.2"/>
<circle class="fa1" cx="1789.3" cy="376.3" r="7.2"/><circle class="sa1" cx="1789.3" cy="376.3" r="6.2"/>
<circle class="fa1" cx="1789.4" cy="376.0" r="7.2"/><circle class="sa1" cx="1789.4" cy="376.0" r="6.2"/>
<circle class="fa1" cx="1788.4" cy="375.6" r="7.2"/><circle class="sa1" cx="1788.4" cy="375.6" r="6.2"/>
<circle class="fa1" cx="1808.9" cy="362.6" r="7.2"/><circle class="sa1" cx="1808.9" cy="362.6" r="6.2"/>
<circle class="fa1" cx="1809.9" cy="362.3" r="7.2"/><circle class="sa1" cx="1809.9" cy="362.3" r="6.2"/>
<circle class="fa1" cx="1809.2" cy="362.1" r="7.2"/><circle class="sa1" cx="1809.2" cy="362.1" r="6.2"/>
<circle class="fa1" cx="1815.1" cy="361.9" r="7.2"/><circle class="sa1" cx="1815.1" cy="361.9" r="6.2"/>
<circle class="fa1" cx="1820.5" cy="370.5" r="7.2"/><circle class="sa1" cx="1820.5" cy="370.5" r="6.2"/>
<circle class="fa0" cx="1860.0" cy="364.6" r="7.2"/><circle class="sa0" cx="1860.0" cy="364.6" r="6.2"/>
<circle class="fa0" cx="1859.4" cy="364.7" r="7.2"/><circle class="sa0" cx="1859.4" cy="364.7" r="6.2"/>
<circle class="fa1" cx="1864.2" cy="369.8" r="7.2"/><circle class="sa1" cx="1864.2" cy="369.8" r="6.2"/>
<circle class="fa1" cx="1864.5" cy="370.0" r="7.2"/><circle class="sa1" cx="1864.5" cy="370.0" r="6.2"/>
<circle class="fa1" cx="1864.5" cy="370.6" r="7.2"/><circle class="sa1" cx="1864.5" cy="370.6" r="6.2"/>
<circle class="fa1" cx="1865.7" cy="370.3" r="7.2"/><circle class="sa1" cx="1865.7" cy="370.3" r="6.2"/>
<circle class="fa1" cx="1865.9" cy="377.2" r="7.2"/><circle class="sa1" cx="1865.9" cy="377.2" r="6.2"/>
<circle class="fa1" cx="1865.9" cy="377.5" r="7.2"/><circle class="sa1" cx="1865.9" cy="377.5" r="6.2"/>
<circle class="fa1" cx="1866.6" cy="376.5" r="7.2"/><circle class="sa1" cx="1866.6" cy="376.5" r="6.2"/>
<circle class="fa1" cx="1776.3" cy="380.0" r="7.2"/><circle class="sa1" cx="1776.3" cy="380.0" r="6.2"/>
<circle class="fa1" cx="1776.4" cy="379.5" r="7.2"/><circle class="sa1" cx="1776.4" cy="379.5" r="6.2"/>
<circle class="fa1" cx="1721.7" cy="380.6" r="7.2"/><circle class="sa1" cx="1721.7" cy="380.6" r="6.2"/>
<circle class="fa1" cx="1722.5" cy="381.4" r="7.2"/><circle class="sa1" cx="1722.5" cy="381.4" r="6.2"/>
<circle class="fa1" cx="1722.2" cy="380.4" r="7.2"/><circle class="sa1" cx="1722.2" cy="380.4" r="6.2"/>
<circle class="fa1" cx="1728.4" cy="383.1" r="7.2"/><circle class="sa1" cx="1728.4" cy="383.1" r="6.2"/>
<circle class="fa1" cx="1727.9" cy="383.1" r="7.2"/><circle class="sa1" cx="1727.9" cy="383.1" r="6.2"/>
<circle class="fa1" cx="1805.4" cy="382.4" r="7.2"/><circle class="sa1" cx="1805.4" cy="382.4" r="6.2"/>
<circle class="fa1" cx="1832.4" cy="384.6" r="7.2"/><circle class="sa1" cx="1832.4" cy="384.6" r="6.2"/>
<circle class="fa1" cx="1747.0" cy="384.6" r="7.2"/><circle class="sa1" cx="1747.0" cy="384.6" r="6.2"/>
<circle class="fa1" cx="1719.8" cy="382.2" r="7.2"/><circle class="sa1" cx="1719.8" cy="382.2" r="6.2"/>
<circle class="fa1" cx="1719.4" cy="382.2" r="7.2"/><circle class="sa1" cx="1719.4" cy="382.2" r="6.2"/>
<circle class="fa1" cx="1719.0" cy="381.9" r="7.2"/><circle class="sa1" cx="1719.0" cy="381.9" r="6.2"/>
<circle class="fa1" cx="1712.9" cy="393.0" r="7.2"/><circle class="sa1" cx="1712.9" cy="393.0" r="6.2"/>
<circle class="fa1" cx="1712.9" cy="392.6" r="7.2"/><circle class="sa1" cx="1712.9" cy="392.6" r="6.2"/>
<circle class="fa1" cx="1720.4" cy="391.2" r="7.2"/><circle class="sa1" cx="1720.4" cy="391.2" r="6.2"/>
<circle class="fa1" cx="1721.3" cy="391.8" r="7.2"/><circle class="sa1" cx="1721.3" cy="391.8" r="6.2"/>
<circle class="fa1" cx="1720.7" cy="392.5" r="7.2"/><circle class="sa1" cx="1720.7" cy="392.5" r="6.2"/>
<circle class="fa1" cx="1701.6" cy="406.1" r="7.2"/><circle class="sa1" cx="1701.6" cy="406.1" r="6.2"/>
<circle class="fa1" cx="1701.4" cy="407.2" r="7.2"/><circle class="sa1" cx="1701.4" cy="407.2" r="6.2"/>
<circle class="fa1" cx="1706.1" cy="411.6" r="7.2"/><circle class="sa1" cx="1706.1" cy="411.6" r="6.2"/>
<circle class="fa1" cx="1705.8" cy="410.5" r="7.2"/><circle class="sa1" cx="1705.8" cy="410.5" r="6.2"/>
<circle class="fa1" cx="1704.9" cy="411.3" r="7.2"/><circle class="sa1" cx="1704.9" cy="411.3" r="6.2"/>
<circle class="fa1" cx="1705.7" cy="410.5" r="7.2"/><circle class="sa1" cx="1705.7" cy="410.5" r="6.2"/>
<circle class="fa1" cx="1705.2" cy="410.9" r="7.2"/><circle class="sa1" cx="1705.2" cy="410.9" r="6.2"/>
<circle class="fa1" cx="1722.7" cy="404.8" r="7.2"/><circle class="sa1" cx="1722.7" cy="404.8" r="6.2"/>
<circle class="fa1" cx="1722.5" cy="403.9" r="7.2"/><circle class="sa1" cx="1722.5" cy="403.9" r="6.2"/>
<circle class="fa1" cx="1723.2" cy="405.3" r="7.2"/><circle class="sa1" cx="1723.2" cy="405.3" r="6.2"/>
<circle class="fa1" cx="1722.6" cy="405.2" r="7.2"/><circle class="sa1" cx="1722.6" cy="405.2" r="6.2"/>
<circle class="fa1" cx="1723.0" cy="405.0" r="7.2"/><circle class="sa1" cx="1723.0" cy="405.0" r="6.2"/>
<circle class="fa1" cx="1723.0" cy="404.2" r="7.2"/><circle class="sa1" cx="1723.0" cy="404.2" r="6.2"/>
<circle class="fa1" cx="1717.6" cy="420.2" r="7.2"/><circle class="sa1" cx="1717.6" cy="420.2" r="6.2"/>
<circle class="fa1" cx="1716.9" cy="420.5" r="7.2"/><circle class="sa1" cx="1716.9" cy="420.5" r="6.2"/>
<circle class="fa1" cx="1718.0" cy="420.3" r="7.2"/><circle class="sa1" cx="1718.0" cy="420.3" r="6.2"/>
<circle class="fa1" cx="1681.6" cy="421.9" r="7.2"/><circle class="sa1" cx="1681.6" cy="421.9" r="6.2"/>
<circle class="fa1" cx="1690.2" cy="417.6" r="7.2"/><circle class="sa1" cx="1690.2" cy="417.6" r="6.2"/>
<circle class="fa1" cx="1681.3" cy="430.8" r="7.2"/><circle class="sa1" cx="1681.3" cy="430.8" r="6.2"/>
<circle class="fa1" cx="1680.3" cy="430.1" r="7.2"/><circle class="sa1" cx="1680.3" cy="430.1" r="6.2"/>
<circle class="fa1" cx="1680.0" cy="430.6" r="7.2"/><circle class="sa1" cx="1680.0" cy="430.6" r="6.2"/>
<circle class="fa1" cx="1680.5" cy="430.9" r="7.2"/><circle class="sa1" cx="1680.5" cy="430.9" r="6.2"/>
<circle class="fa1" cx="1679.9" cy="431.2" r="7.2"/><circle class="sa1" cx="1679.9" cy="431.2" r="6.2"/>
<circle class="fa1" cx="1681.4" cy="430.5" r="7.2"/><circle class="sa1" cx="1681.4" cy="430.5" r="6.2"/>
<circle class="fa1" cx="1697.1" cy="422.2" r="7.2"/><circle class="sa1" cx="1697.1" cy="422.2" r="6.2"/>
<circle class="fa1" cx="1696.9" cy="421.8" r="7.2"/><circle class="sa1" cx="1696.9" cy="421.8" r="6.2"/>
<circle class="fa1" cx="1696.6" cy="421.4" r="7.2"/><circle class="sa1" cx="1696.6" cy="421.4" r="6.2"/>
<circle class="fa1" cx="1696.8" cy="421.9" r="7.2"/><circle class="sa1" cx="1696.8" cy="421.9" r="6.2"/>
<circle class="fa1" cx="1696.9" cy="421.4" r="7.2"/><circle class="sa1" cx="1696.9" cy="421.4" r="6.2"/>
<circle class="fa1" cx="1704.3" cy="428.4" r="7.2"/><circle class="sa1" cx="1704.3" cy="428.4" r="6.2"/>
<circle class="fa1" cx="1704.6" cy="427.8" r="7.2"/><circle class="sa1" cx="1704.6" cy="427.8" r="6.2"/>
<circle class="fa1" cx="1704.5" cy="428.9" r="7.2"/><circle class="sa1" cx="1704.5" cy="428.9" r="6.2"/>
<circle class="fa1" cx="1704.7" cy="428.2" r="7.2"/><circle class="sa1" cx="1704.7" cy="428.2" r="6.2"/>
<circle class="fa1" cx="1704.0" cy="428.3" r="7.2"/><circle class="sa1" cx="1704.0" cy="428.3" r="6.2"/>
<circle class="fa1" cx="1670.0" cy="440.9" r="7.2"/><circle class="sa1" cx="1670.0" cy="440.9" r="6.2"/>
<circle class="fa1" cx="1669.6" cy="439.8" r="7.2"/><circle class="sa1" cx="1669.6" cy="439.8" r="6.2"/>
<circle class="fa1" cx="1669.9" cy="440.3" r="7.2"/><circle class="sa1" cx="1669.9" cy="440.3" r="6.2"/>
<circle class="fa1" cx="1669.2" cy="439.8" r="7.2"/><circle class="sa1" cx="1669.2" cy="439.8" r="6.2"/>
<circle class="fa1" cx="1669.6" cy="440.6" r="7.2"/><circle class="sa1" cx="1669.6" cy="440.6" r="6.2"/>
<circle class="fa1" cx="1669.1" cy="439.7" r="7.2"/><circle class="sa1" cx="1669.1" cy="439.7" r="6.2"/>
<circle class="fa1" cx="1688.4" cy="438.6" r="7.2"/><circle class="sa1" cx="1688.4" cy="438.6" r="6.2"/>
<circle class="fa1" cx="1688.2" cy="439.4" r="7.2"/><circle class="sa1" cx="1688.2" cy="439.4" r="6.2"/>
<circle class="fa1" cx="1688.0" cy="438.6" r="7.2"/><circle class="sa1" cx="1688.0" cy="438.6" r="6.2"/>
<circle class="fa1" cx="1688.1" cy="439.0" r="7.2"/><circle class="sa1" cx="1688.1" cy="439.0" r="6.2"/>
<circle class="fa1" cx="1688.3" cy="438.7" r="7.2"/><circle class="sa1" cx="1688.3" cy="438.7" r="6.2"/>
<circle class="fa1" cx="1688.6" cy="438.5" r="7.2"/><circle class="sa1" cx="1688.6" cy="438.5" r="6.2"/>
<circle class="fa1" cx="1720.4" cy="434.8" r="7.2"/><circle class="sa1" cx="1720.4" cy="434.8" r="6.2"/>
<circle class="fa1" cx="1721.0" cy="434.5" r="7.2"/><circle class="sa1" cx="1721.0" cy="434.5" r="6.2"/>
<circle class="fa1" cx="1720.8" cy="434.5" r="7.2"/><circle class="sa1" cx="1720.8" cy="434.5" r="6.2"/>
<circle class="fa1" cx="1720.8" cy="435.6" r="7.2"/><circle class="sa1" cx="1720.8" cy="435.6" r="6.2"/>
<circle class="fa1" cx="1644.3" cy="432.7" r="7.2"/><circle class="sa1" cx="1644.3" cy="432.7" r="6.2"/>
<circle class="fa1" cx="1638.4" cy="441.3" r="7.2"/><circle class="sa1" cx="1638.4" cy="441.3" r="6.2"/>
<circle class="fa1" cx="1648.1" cy="441.3" r="7.2"/><circle class="sa1" cx="1648.1" cy="441.3" r="6.2"/>
<circle class="fa1" cx="1612.4" cy="444.6" r="7.2"/><circle class="sa1" cx="1612.4" cy="444.6" r="6.2"/>
<circle class="fa1" cx="1611.7" cy="451.1" r="7.2"/><circle class="sa1" cx="1611.7" cy="451.1" r="6.2"/>
<circle class="fa1" cx="1611.4" cy="451.3" r="7.2"/><circle class="sa1" cx="1611.4" cy="451.3" r="6.2"/>
<circle class="fa1" cx="1612.5" cy="450.8" r="7.2"/><circle class="sa1" cx="1612.5" cy="450.8" r="6.2"/>
<circle class="fa1" cx="1602.7" cy="461.1" r="7.2"/><circle class="sa1" cx="1602.7" cy="461.1" r="6.2"/>
<circle class="fa1" cx="1608.6" cy="461.8" r="7.2"/><circle class="sa1" cx="1608.6" cy="461.8" r="6.2"/>
<circle class="fa1" cx="1609.8" cy="462.1" r="7.2"/><circle class="sa1" cx="1609.8" cy="462.1" r="6.2"/>
<circle class="fa1" cx="1615.7" cy="460.5" r="7.2"/><circle class="sa1" cx="1615.7" cy="460.5" r="6.2"/>
<circle class="fa1" cx="1605.4" cy="464.9" r="7.2"/><circle class="sa1" cx="1605.4" cy="464.9" r="6.2"/>
<circle class="fa1" cx="1655.6" cy="482.1" r="7.2"/><circle class="sa1" cx="1655.6" cy="482.1" r="6.2"/>
<circle class="fa1" cx="1661.1" cy="494.6" r="7.2"/><circle class="sa1" cx="1661.1" cy="494.6" r="6.2"/>
<circle class="fa1" cx="1662.1" cy="509.2" r="7.2"/><circle class="sa1" cx="1662.1" cy="509.2" r="6.2"/>
<circle class="fa1" cx="1677.6" cy="499.7" r="7.2"/><circle class="sa1" cx="1677.6" cy="499.7" r="6.2"/>
<circle class="fa1" cx="1677.0" cy="501.2" r="7.2"/><circle class="sa1" cx="1677.0" cy="501.2" r="6.2"/>
<circle class="fa1" cx="1676.7" cy="501.0" r="7.2"/><circle class="sa1" cx="1676.7" cy="501.0" r="6.2"/>
<circle class="fa1" cx="1678.1" cy="500.8" r="7.2"/><circle class="sa1" cx="1678.1" cy="500.8" r="6.2"/>
<circle class="fa1" cx="1671.4" cy="504.6" r="7.2"/><circle class="sa1" cx="1671.4" cy="504.6" r="6.2"/>
<circle class="fa1" cx="1670.1" cy="504.7" r="7.2"/><circle class="sa1" cx="1670.1" cy="504.7" r="6.2"/>
<circle class="fa1" cx="1670.7" cy="504.8" r="7.2"/><circle class="sa1" cx="1670.7" cy="504.8" r="6.2"/>
<circle class="fa1" cx="1690.6" cy="499.3" r="7.2"/><circle class="sa1" cx="1690.6" cy="499.3" r="6.2"/>
<circle class="fa1" cx="1690.3" cy="499.7" r="7.2"/><circle class="sa1" cx="1690.3" cy="499.7" r="6.2"/>
<circle class="fa1" cx="1688.1" cy="488.4" r="7.2"/><circle class="sa1" cx="1688.1" cy="488.4" r="6.2"/>
<circle class="fa1" cx="1688.4" cy="487.7" r="7.2"/><circle class="sa1" cx="1688.4" cy="487.7" r="6.2"/>
<circle class="fa1" cx="1688.0" cy="487.2" r="7.2"/><circle class="sa1" cx="1688.0" cy="487.2" r="6.2"/>
<circle class="fa1" cx="1696.7" cy="509.2" r="7.2"/><circle class="sa1" cx="1696.7" cy="509.2" r="6.2"/>
<circle class="fa1" cx="1704.3" cy="509.2" r="7.2"/><circle class="sa1" cx="1704.3" cy="509.2" r="6.2"/>
<circle class="fa1" cx="1707.5" cy="495.1" r="7.2"/><circle class="sa1" cx="1707.5" cy="495.1" r="6.2"/>
<circle class="fa1" cx="1713.6" cy="490.9" r="7.2"/><circle class="sa1" cx="1713.6" cy="490.9" r="6.2"/>
<circle class="fa1" cx="1712.3" cy="490.5" r="7.2"/><circle class="sa1" cx="1712.3" cy="490.5" r="6.2"/>
<circle class="fa1" cx="1709.6" cy="485.1" r="7.2"/><circle class="sa1" cx="1709.6" cy="485.1" r="6.2"/>
<circle class="fa1" cx="1710.2" cy="484.8" r="7.2"/><circle class="sa1" cx="1710.2" cy="484.8" r="6.2"/>
<circle class="fa1" cx="1702.4" cy="475.8" r="7.2"/><circle class="sa1" cx="1702.4" cy="475.8" r="6.2"/>
<circle class="fa1" cx="1701.5" cy="475.7" r="7.2"/><circle class="sa1" cx="1701.5" cy="475.7" r="6.2"/>
<circle class="fa1" cx="1702.0" cy="476.0" r="7.2"/><circle class="sa1" cx="1702.0" cy="476.0" r="6.2"/>
<circle class="fa1" cx="1701.8" cy="475.9" r="7.2"/><circle class="sa1" cx="1701.8" cy="475.9" r="6.2"/>
<circle class="fa1" cx="1692.8" cy="475.2" r="7.2"/><circle class="sa1" cx="1692.8" cy="475.2" r="6.2"/>
<circle class="fa1" cx="1693.9" cy="476.2" r="7.2"/><circle class="sa1" cx="1693.9" cy="476.2" r="6.2"/>
<circle class="fa1" cx="1693.5" cy="475.3" r="7.2"/><circle class="sa1" cx="1693.5" cy="475.3" r="6.2"/>
<circle class="fa1" cx="1693.9" cy="474.9" r="7.2"/><circle class="sa1" cx="1693.9" cy="474.9" r="6.2"/>
<circle class="fa1" cx="1724.4" cy="478.2" r="7.2"/><circle class="sa1" cx="1724.4" cy="478.2" r="6.2"/>
<circle class="fa1" cx="1725.1" cy="477.2" r="7.2"/><circle class="sa1" cx="1725.1" cy="477.2" r="6.2"/>
<circle class="fa1" cx="1724.1" cy="478.3" r="7.2"/><circle class="sa1" cx="1724.1" cy="478.3" r="6.2"/>
<circle class="fa1" cx="1724.9" cy="477.3" r="7.2"/><circle class="sa1" cx="1724.9" cy="477.3" r="6.2"/>
<circle class="fa1" cx="1724.8" cy="478.3" r="7.2"/><circle class="sa1" cx="1724.8" cy="478.3" r="6.2"/>
<circle class="fa1" cx="1728.1" cy="487.6" r="7.2"/><circle class="sa1" cx="1728.1" cy="487.6" r="6.2"/>
<circle class="fa1" cx="1728.1" cy="502.7" r="7.2"/><circle class="sa1" cx="1728.1" cy="502.7" r="6.2"/>
<circle class="fa1" cx="1682.9" cy="476.1" r="7.2"/><circle class="sa1" cx="1682.9" cy="476.1" r="6.2"/>
<circle class="fa1" cx="1684.0" cy="474.9" r="7.2"/><circle class="sa1" cx="1684.0" cy="474.9" r="6.2"/>
<circle class="fa1" cx="1684.0" cy="474.9" r="7.2"/><circle class="sa1" cx="1684.0" cy="474.9" r="6.2"/>
<circle class="fa1" cx="1684.3" cy="475.9" r="7.2"/><circle class="sa1" cx="1684.3" cy="475.9" r="6.2"/>
<circle class="fa1" cx="1684.5" cy="475.5" r="7.2"/><circle class="sa1" cx="1684.5" cy="475.5" r="6.2"/>
<circle class="fa1" cx="1671.9" cy="481.7" r="7.2"/><circle class="sa1" cx="1671.9" cy="481.7" r="6.2"/>
<circle class="fa1" cx="1671.5" cy="480.7" r="7.2"/><circle class="sa1" cx="1671.5" cy="480.7" r="6.2"/>
<circle class="fa1" cx="1671.7" cy="481.1" r="7.2"/><circle class="sa1" cx="1671.7" cy="481.1" r="6.2"/>
<circle class="fa1" cx="1671.3" cy="481.4" r="7.2"/><circle class="sa1" cx="1671.3" cy="481.4" r="6.2"/>
<circle class="fa1" cx="1672.2" cy="481.1" r="7.2"/><circle class="sa1" cx="1672.2" cy="481.1" r="6.2"/>
<circle class="fa1" cx="1672.7" cy="480.9" r="7.2"/><circle class="sa1" cx="1672.7" cy="480.9" r="6.2"/>
<circle class="fa1" cx="1667.2" cy="485.1" r="7.2"/><circle class="sa1" cx="1667.2" cy="485.1" r="6.2"/>
<circle class="fa1" cx="1666.8" cy="484.6" r="7.2"/><circle class="sa1" cx="1666.8" cy="484.6" r="6.2"/>
<circle class="fa1" cx="1666.6" cy="485.3" r="7.2"/><circle class="sa1" cx="1666.6" cy="485.3" r="6.2"/>
<circle class="fa1" cx="1666.2" cy="485.0" r="7.2"/><circle class="sa1" cx="1666.2" cy="485.0" r="6.2"/>
<circle class="fa1" cx="1666.3" cy="485.0" r="7.2"/><circle class="sa1" cx="1666.3" cy="485.0" r="6.2"/>
<circle class="fa1" cx="1636.2" cy="444.3" r="7.2"/><circle class="sa1" cx="1636.2" cy="444.3" r="6.2"/>
<circle class="fa1" cx="1647.0" cy="444.3" r="7.2"/><circle class="sa1" cx="1647.0" cy="444.3" r="6.2"/>
<circle class="fa1" cx="1642.7" cy="441.1" r="7.2"/><circle class="sa1" cx="1642.7" cy="441.1" r="6.2"/>
<circle class="fa1" cx="1706.7" cy="444.1" r="7.2"/><circle class="sa1" cx="1706.7" cy="444.1" r="6.2"/>
<circle class="fa1" cx="1707.2" cy="444.0" r="7.2"/><circle class="sa1" cx="1707.2" cy="444.0" r="6.2"/>
<circle class="fa1" cx="1715.6" cy="445.3" r="7.2"/><circle class="sa1" cx="1715.6" cy="445.3" r="6.2"/>
<circle class="fa1" cx="1716.7" cy="445.3" r="7.2"/><circle class="sa1" cx="1716.7" cy="445.3" r="6.2"/>
<circle class="fa1" cx="1724.6" cy="447.2" r="7.2"/><circle class="sa1" cx="1724.6" cy="447.2" r="6.2"/>
<circle class="fa1" cx="1725.3" cy="447.0" r="7.2"/><circle class="sa1" cx="1725.3" cy="447.0" r="6.2"/>
<circle class="fa3" cx="1668.0" cy="445.0" r="7.2"/><circle class="sa3" cx="1668.0" cy="445.0" r="6.2"/>
<circle class="fa3" cx="1678.0" cy="445.0" r="7.2"/><circle class="sa3" cx="1678.0" cy="445.0" r="6.2"/>
<circle class="fa3" cx="1688.0" cy="446.0" r="7.2"/><circle class="sa3" cx="1688.0" cy="446.0" r="6.2"/>
<circle class="fa1" cx="1662.6" cy="451.8" r="7.2"/><circle class="sa1" cx="1662.6" cy="451.8" r="6.2"/>
<circle class="fa1" cx="1661.9" cy="452.6" r="7.2"/><circle class="sa1" cx="1661.9" cy="452.6" r="6.2"/>
<circle class="fa1" cx="1661.7" cy="451.9" r="7.2"/><circle class="sa1" cx="1661.7" cy="451.9" r="6.2"/>
<circle class="fa1" cx="1662.2" cy="452.2" r="7.2"/><circle class="sa1" cx="1662.2" cy="452.2" r="6.2"/>
<circle class="fa1" cx="1661.8" cy="452.6" r="7.2"/><circle class="sa1" cx="1661.8" cy="452.6" r="6.2"/>
<circle class="fa1" cx="1661.9" cy="452.4" r="7.2"/><circle class="sa1" cx="1661.9" cy="452.4" r="6.2"/>
<circle class="fa1" cx="1695.6" cy="450.3" r="7.2"/><circle class="sa1" cx="1695.6" cy="450.3" r="6.2"/>
<circle class="fa1" cx="1695.4" cy="449.4" r="7.2"/><circle class="sa1" cx="1695.4" cy="449.4" r="6.2"/>
<circle class="fa1" cx="1694.3" cy="449.7" r="7.2"/><circle class="sa1" cx="1694.3" cy="449.7" r="6.2"/>
<circle class="fa1" cx="1695.2" cy="450.7" r="7.2"/><circle class="sa1" cx="1695.2" cy="450.7" r="6.2"/>
<circle class="fa1" cx="1694.4" cy="450.2" r="7.2"/><circle class="sa1" cx="1694.4" cy="450.2" r="6.2"/>
<circle class="fa1" cx="1694.5" cy="449.6" r="7.2"/><circle class="sa1" cx="1694.5" cy="449.6" r="6.2"/>
<circle class="fa1" cx="1649.8" cy="470.4" r="7.2"/><circle class="sa1" cx="1649.8" cy="470.4" r="6.2"/>
<circle class="fa1" cx="1650.1" cy="470.6" r="7.2"/><circle class="sa1" cx="1650.1" cy="470.6" r="6.2"/>
<circle class="fa1" cx="1649.5" cy="470.5" r="7.2"/><circle class="sa1" cx="1649.5" cy="470.5" r="6.2"/>
<circle class="fa1" cx="1650.5" cy="470.0" r="7.2"/><circle class="sa1" cx="1650.5" cy="470.0" r="6.2"/>
<circle class="fa1" cx="1650.3" cy="469.7" r="7.2"/><circle class="sa1" cx="1650.3" cy="469.7" r="6.2"/>
<circle class="fa1" cx="1649.4" cy="469.8" r="7.2"/><circle class="sa1" cx="1649.4" cy="469.8" r="6.2"/>
<circle class="fa1" cx="1639.8" cy="468.9" r="7.2"/><circle class="sa1" cx="1639.8" cy="468.9" r="6.2"/>
<circle class="fa1" cx="1639.8" cy="468.8" r="7.2"/><circle class="sa1" cx="1639.8" cy="468.8" r="6.2"/>
<circle class="fa1" cx="1640.1" cy="468.2" r="7.2"/><circle class="sa1" cx="1640.1" cy="468.2" r="6.2"/>
<circle class="fa1" cx="1640.4" cy="467.6" r="7.2"/><circle class="sa1" cx="1640.4" cy="467.6" r="6.2"/>
<circle class="fa1" cx="1640.5" cy="468.2" r="7.2"/><circle class="sa1" cx="1640.5" cy="468.2" r="6.2"/>
<circle class="fa1" cx="1659.3" cy="475.3" r="7.2"/><circle class="sa1" cx="1659.3" cy="475.3" r="6.2"/>
<circle class="fa1" cx="1660.3" cy="475.3" r="7.2"/><circle class="sa1" cx="1660.3" cy="475.3" r="6.2"/>
<circle class="fa1" cx="1660.7" cy="474.8" r="7.2"/><circle class="sa1" cx="1660.7" cy="474.8" r="6.2"/>
<circle class="fa1" cx="1660.3" cy="475.4" r="7.2"/><circle class="sa1" cx="1660.3" cy="475.4" r="6.2"/>
<circle class="fa1" cx="1659.6" cy="475.6" r="7.2"/><circle class="sa1" cx="1659.6" cy="475.6" r="6.2"/>
<circle class="fa1" cx="1659.4" cy="474.4" r="7.2"/><circle class="sa1" cx="1659.4" cy="474.4" r="6.2"/>
<circle class="fa1" cx="1672.3" cy="489.4" r="7.2"/><circle class="sa1" cx="1672.3" cy="489.4" r="6.2"/>
<circle class="fa1" cx="1671.9" cy="489.2" r="7.2"/><circle class="sa1" cx="1671.9" cy="489.2" r="6.2"/>
<circle class="fa1" cx="1672.0" cy="489.4" r="7.2"/><circle class="sa1" cx="1672.0" cy="489.4" r="6.2"/>
<circle class="fa1" cx="1672.2" cy="489.3" r="7.2"/><circle class="sa1" cx="1672.2" cy="489.3" r="6.2"/>
<circle class="fa1" cx="1655.3" cy="479.8" r="7.2"/><circle class="sa1" cx="1655.3" cy="479.8" r="6.2"/>
<circle class="fa1" cx="1655.0" cy="480.0" r="7.2"/><circle class="sa1" cx="1655.0" cy="480.0" r="6.2"/>
<circle class="fa1" cx="1655.1" cy="479.3" r="7.2"/><circle class="sa1" cx="1655.1" cy="479.3" r="6.2"/>
<circle class="fa3" cx="1665.0" cy="462.0" r="7.2"/><circle class="sa3" cx="1665.0" cy="462.0" r="6.2"/>
<circle class="fa3" cx="1680.0" cy="465.0" r="7.2"/><circle class="sa3" cx="1680.0" cy="465.0" r="6.2"/>
<circle class="fa1" cx="1689.1" cy="470.0" r="7.2"/><circle class="sa1" cx="1689.1" cy="470.0" r="6.2"/>
<circle class="fa1" cx="1689.5" cy="469.7" r="7.2"/><circle class="sa1" cx="1689.5" cy="469.7" r="6.2"/>
<circle class="fa1" cx="1690.2" cy="469.2" r="7.2"/><circle class="sa1" cx="1690.2" cy="469.2" r="6.2"/>
<circle class="fa1" cx="1689.6" cy="469.7" r="7.2"/><circle class="sa1" cx="1689.6" cy="469.7" r="6.2"/>
<circle class="fa1" cx="1689.4" cy="470.2" r="7.2"/><circle class="sa1" cx="1689.4" cy="470.2" r="6.2"/>
<circle class="fa1" cx="1689.9" cy="469.5" r="7.2"/><circle class="sa1" cx="1689.9" cy="469.5" r="6.2"/>
<circle class="fa1" cx="1746.1" cy="393.8" r="7.2"/><circle class="sa1" cx="1746.1" cy="393.8" r="6.2"/>
<circle class="fa1" cx="1746.2" cy="393.7" r="7.2"/><circle class="sa1" cx="1746.2" cy="393.7" r="6.2"/>
<circle class="fa0" cx="1760.9" cy="394.7" r="7.2"/><circle class="sa0" cx="1760.9" cy="394.7" r="6.2"/>
<circle class="fa0" cx="1760.1" cy="395.5" r="7.2"/><circle class="sa0" cx="1760.1" cy="395.5" r="6.2"/>
<circle class="fa1" cx="1731.7" cy="395.0" r="7.2"/><circle class="sa1" cx="1731.7" cy="395.0" r="6.2"/>
<circle class="fa1" cx="1731.9" cy="395.0" r="7.2"/><circle class="sa1" cx="1731.9" cy="395.0" r="6.2"/>
<circle class="fa1" cx="1731.3" cy="394.4" r="7.2"/><circle class="sa1" cx="1731.3" cy="394.4" r="6.2"/>
<circle class="fa1" cx="1731.9" cy="405.1" r="7.2"/><circle class="sa1" cx="1731.9" cy="405.1" r="6.2"/>
<circle class="fa1" cx="1732.0" cy="404.6" r="7.2"/><circle class="sa1" cx="1732.0" cy="404.6" r="6.2"/>
<circle class="fa1" cx="1731.9" cy="405.2" r="7.2"/><circle class="sa1" cx="1731.9" cy="405.2" r="6.2"/>
<circle class="fa1" cx="1730.7" cy="405.7" r="7.2"/><circle class="sa1" cx="1730.7" cy="405.7" r="6.2"/>
<circle class="fa1" cx="1731.7" cy="405.3" r="7.2"/><circle class="sa1" cx="1731.7" cy="405.3" r="6.2"/>
<circle class="fa1" cx="1730.9" cy="405.0" r="7.2"/><circle class="sa1" cx="1730.9" cy="405.0" r="6.2"/>
<circle class="fa1" cx="1741.9" cy="405.9" r="7.2"/><circle class="sa1" cx="1741.9" cy="405.9" r="6.2"/>
<circle class="fa1" cx="1740.3" cy="406.1" r="7.2"/><circle class="sa1" cx="1740.3" cy="406.1" r="6.2"/>
<circle class="fa1" cx="1740.6" cy="406.2" r="7.2"/><circle class="sa1" cx="1740.6" cy="406.2" r="6.2"/>
<circle class="fa1" cx="1741.0" cy="405.8" r="7.2"/><circle class="sa1" cx="1741.0" cy="405.8" r="6.2"/>
<circle class="fa1" cx="1763.5" cy="410.1" r="7.2"/><circle class="sa1" cx="1763.5" cy="410.1" r="6.2"/>
<circle class="fa1" cx="1763.4" cy="410.3" r="7.2"/><circle class="sa1" cx="1763.4" cy="410.3" r="6.2"/>
<circle class="fa1" cx="1763.6" cy="409.0" r="7.2"/><circle class="sa1" cx="1763.6" cy="409.0" r="6.2"/>
<circle class="fa1" cx="1764.3" cy="409.9" r="7.2"/><circle class="sa1" cx="1764.3" cy="409.9" r="6.2"/>
<circle class="fa1" cx="1774.7" cy="408.5" r="7.2"/><circle class="sa1" cx="1774.7" cy="408.5" r="6.2"/>
<circle class="fa1" cx="1786.6" cy="409.6" r="7.2"/><circle class="sa1" cx="1786.6" cy="409.6" r="6.2"/>
<circle class="fa1" cx="1798.0" cy="403.5" r="7.2"/><circle class="sa1" cx="1798.0" cy="403.5" r="6.2"/>
<circle class="fa1" cx="1797.7" cy="402.7" r="7.2"/><circle class="sa1" cx="1797.7" cy="402.7" r="6.2"/>
<circle class="fa1" cx="1809.9" cy="394.4" r="7.2"/><circle class="sa1" cx="1809.9" cy="394.4" r="6.2"/>
<circle class="fa1" cx="1808.6" cy="394.8" r="7.2"/><circle class="sa1" cx="1808.6" cy="394.8" r="6.2"/>
<circle class="fa1" cx="1809.8" cy="394.5" r="7.2"/><circle class="sa1" cx="1809.8" cy="394.5" r="6.2"/>
<circle class="fa1" cx="1816.9" cy="398.8" r="7.2"/><circle class="sa1" cx="1816.9" cy="398.8" r="6.2"/>
<circle class="fa1" cx="1816.9" cy="405.3" r="7.2"/><circle class="sa1" cx="1816.9" cy="405.3" r="6.2"/>
<circle class="fa1" cx="1834.4" cy="398.6" r="7.2"/><circle class="sa1" cx="1834.4" cy="398.6" r="6.2"/>
<circle class="fa1" cx="1835.4" cy="399.2" r="7.2"/><circle class="sa1" cx="1835.4" cy="399.2" r="6.2"/>
<circle class="fa1" cx="1836.0" cy="398.7" r="7.2"/><circle class="sa1" cx="1836.0" cy="398.7" r="6.2"/>
<circle class="fa1" cx="1834.9" cy="398.8" r="7.2"/><circle class="sa1" cx="1834.9" cy="398.8" r="6.2"/>
<circle class="fa1" cx="1831.5" cy="394.0" r="7.2"/><circle class="sa1" cx="1831.5" cy="394.0" r="6.2"/>
<circle class="fa1" cx="1831.3" cy="393.7" r="7.2"/><circle class="sa1" cx="1831.3" cy="393.7" r="6.2"/>
<circle class="fa1" cx="1828.1" cy="410.3" r="7.2"/><circle class="sa1" cx="1828.1" cy="410.3" r="6.2"/>
<circle class="fa1" cx="1828.0" cy="411.1" r="7.2"/><circle class="sa1" cx="1828.0" cy="411.1" r="6.2"/>
<circle class="fa1" cx="1838.5" cy="412.8" r="7.2"/><circle class="sa1" cx="1838.5" cy="412.8" r="6.2"/>
<circle class="fa1" cx="1868.1" cy="412.8" r="7.2"/><circle class="sa1" cx="1868.1" cy="412.8" r="6.2"/>
<circle class="fa1" cx="1868.8" cy="413.2" r="7.2"/><circle class="sa1" cx="1868.8" cy="413.2" r="6.2"/>
<circle class="fa1" cx="1868.2" cy="412.3" r="7.2"/><circle class="sa1" cx="1868.2" cy="412.3" r="6.2"/>
<circle class="fa1" cx="1868.2" cy="413.5" r="7.2"/><circle class="sa1" cx="1868.2" cy="413.5" r="6.2"/>
<circle class="fa1" cx="1862.3" cy="410.7" r="7.2"/><circle class="sa1" cx="1862.3" cy="410.7" r="6.2"/>
<circle class="fa1" cx="1807.1" cy="416.1" r="7.2"/><circle class="sa1" cx="1807.1" cy="416.1" r="6.2"/>
<circle class="fa1" cx="1818.9" cy="424.6" r="7.2"/><circle class="sa1" cx="1818.9" cy="424.6" r="6.2"/>
<circle class="fa1" cx="1818.3" cy="425.1" r="7.2"/><circle class="sa1" cx="1818.3" cy="425.1" r="6.2"/>
<circle class="fa1" cx="1818.7" cy="425.4" r="7.2"/><circle class="sa1" cx="1818.7" cy="425.4" r="6.2"/>
<circle class="fa1" cx="1848.7" cy="421.5" r="7.2"/><circle class="sa1" cx="1848.7" cy="421.5" r="6.2"/>
<circle class="fa1" cx="1848.6" cy="420.9" r="7.2"/><circle class="sa1" cx="1848.6" cy="420.9" r="6.2"/>
<circle class="fa1" cx="1848.0" cy="421.2" r="7.2"/><circle class="sa1" cx="1848.0" cy="421.2" r="6.2"/>
<circle class="fa1" cx="1847.5" cy="421.5" r="7.2"/><circle class="sa1" cx="1847.5" cy="421.5" r="6.2"/>
<circle class="fa1" cx="1848.1" cy="422.2" r="7.2"/><circle class="sa1" cx="1848.1" cy="422.2" r="6.2"/>
<circle class="fa1" cx="1847.3" cy="421.3" r="7.2"/><circle class="sa1" cx="1847.3" cy="421.3" r="6.2"/>
<circle class="fa1" cx="1848.2" cy="429.8" r="7.2"/><circle class="sa1" cx="1848.2" cy="429.8" r="6.2"/>
<circle class="fa1" cx="1849.0" cy="430.3" r="7.2"/><circle class="sa1" cx="1849.0" cy="430.3" r="6.2"/>
<circle class="fa1" cx="1848.7" cy="429.8" r="7.2"/><circle class="sa1" cx="1848.7" cy="429.8" r="6.2"/>
<circle class="fa1" cx="1849.0" cy="430.3" r="7.2"/><circle class="sa1" cx="1849.0" cy="430.3" r="6.2"/>
<circle class="fa1" cx="1847.9" cy="430.0" r="7.2"/><circle class="sa1" cx="1847.9" cy="430.0" r="6.2"/>
<circle class="fa1" cx="1848.1" cy="429.6" r="7.2"/><circle class="sa1" cx="1848.1" cy="429.6" r="6.2"/>
<circle class="fa1" cx="1753.1" cy="420.4" r="7.2"/><circle class="sa1" cx="1753.1" cy="420.4" r="6.2"/>
<circle class="fa1" cx="1739.2" cy="418.2" r="7.2"/><circle class="sa1" cx="1739.2" cy="418.2" r="6.2"/>
<circle class="fa1" cx="1739.2" cy="417.7" r="7.2"/><circle class="sa1" cx="1739.2" cy="417.7" r="6.2"/>
<circle class="fa1" cx="1739.0" cy="417.7" r="7.2"/><circle class="sa1" cx="1739.0" cy="417.7" r="6.2"/>
<circle class="fa1" cx="1768.4" cy="426.2" r="7.2"/><circle class="sa1" cx="1768.4" cy="426.2" r="6.2"/>
<circle class="fa1" cx="1768.9" cy="426.3" r="7.2"/><circle class="sa1" cx="1768.9" cy="426.3" r="6.2"/>
<circle class="fa1" cx="1767.7" cy="425.5" r="7.2"/><circle class="sa1" cx="1767.7" cy="425.5" r="6.2"/>
<circle class="fa1" cx="1767.7" cy="426.0" r="7.2"/><circle class="sa1" cx="1767.7" cy="426.0" r="6.2"/>
<circle class="fa1" cx="1769.0" cy="426.1" r="7.2"/><circle class="sa1" cx="1769.0" cy="426.1" r="6.2"/>
<circle class="fa1" cx="1767.4" cy="425.4" r="7.2"/><circle class="sa1" cx="1767.4" cy="425.4" r="6.2"/>
<circle class="fa1" cx="1760.0" cy="431.5" r="7.2"/><circle class="sa1" cx="1760.0" cy="431.5" r="6.2"/>
<circle class="fa1" cx="1760.7" cy="431.4" r="7.2"/><circle class="sa1" cx="1760.7" cy="431.4" r="6.2"/>
<circle class="fa1" cx="1761.5" cy="430.8" r="7.2"/><circle class="sa1" cx="1761.5" cy="430.8" r="6.2"/>
<circle class="fa1" cx="1760.4" cy="432.0" r="7.2"/><circle class="sa1" cx="1760.4" cy="432.0" r="6.2"/>
<circle class="fa1" cx="1760.9" cy="430.7" r="7.2"/><circle class="sa1" cx="1760.9" cy="430.7" r="6.2"/>
<circle class="fa1" cx="1769.7" cy="435.0" r="7.2"/><circle class="sa1" cx="1769.7" cy="435.0" r="6.2"/>
<circle class="fa1" cx="1769.5" cy="435.5" r="7.2"/><circle class="sa1" cx="1769.5" cy="435.5" r="6.2"/>
<circle class="fa1" cx="1770.4" cy="436.1" r="7.2"/><circle class="sa1" cx="1770.4" cy="436.1" r="6.2"/>
<circle class="fa1" cx="1770.3" cy="435.1" r="7.2"/><circle class="sa1" cx="1770.3" cy="435.1" r="6.2"/>
<circle class="fa1" cx="1770.1" cy="436.3" r="7.2"/><circle class="sa1" cx="1770.1" cy="436.3" r="6.2"/>
<circle class="fa1" cx="1738.3" cy="429.1" r="7.2"/><circle class="sa1" cx="1738.3" cy="429.1" r="6.2"/>
<circle class="fa1" cx="1739.1" cy="429.4" r="7.2"/><circle class="sa1" cx="1739.1" cy="429.4" r="6.2"/>
<circle class="fa1" cx="1738.9" cy="429.3" r="7.2"/><circle class="sa1" cx="1738.9" cy="429.3" r="6.2"/>
<circle class="fa1" cx="1732.0" cy="426.8" r="7.2"/><circle class="sa1" cx="1732.0" cy="426.8" r="6.2"/>
<circle class="fa1" cx="1731.2" cy="426.8" r="7.2"/><circle class="sa1" cx="1731.2" cy="426.8" r="6.2"/>
<circle class="fa1" cx="1792.6" cy="433.3" r="7.2"/><circle class="sa1" cx="1792.6" cy="433.3" r="6.2"/>
<circle class="fa1" cx="1792.9" cy="433.5" r="7.2"/><circle class="sa1" cx="1792.9" cy="433.5" r="6.2"/>
<circle class="fa1" cx="1793.7" cy="434.0" r="7.2"/><circle class="sa1" cx="1793.7" cy="434.0" r="6.2"/>
<circle class="fa1" cx="1792.8" cy="433.8" r="7.2"/><circle class="sa1" cx="1792.8" cy="433.8" r="6.2"/>
<circle class="fa1" cx="1811.7" cy="432.7" r="7.2"/><circle class="sa1" cx="1811.7" cy="432.7" r="6.2"/>
<circle class="fa1" cx="1811.5" cy="432.5" r="7.2"/><circle class="sa1" cx="1811.5" cy="432.5" r="6.2"/>
<circle class="fa1" cx="1811.2" cy="431.8" r="7.2"/><circle class="sa1" cx="1811.2" cy="431.8" r="6.2"/>
<circle class="fa1" cx="1811.9" cy="432.9" r="7.2"/><circle class="sa1" cx="1811.9" cy="432.9" r="6.2"/>
<circle class="fa1" cx="1811.9" cy="432.6" r="7.2"/><circle class="sa1" cx="1811.9" cy="432.6" r="6.2"/>
<circle class="fa1" cx="1805.2" cy="439.5" r="7.2"/><circle class="sa1" cx="1805.2" cy="439.5" r="6.2"/>
<circle class="fa1" cx="1804.2" cy="440.1" r="7.2"/><circle class="sa1" cx="1804.2" cy="440.1" r="6.2"/>
<circle class="fa1" cx="1805.1" cy="439.5" r="7.2"/><circle class="sa1" cx="1805.1" cy="439.5" r="6.2"/>
<circle class="fa1" cx="1842.3" cy="439.4" r="7.2"/><circle class="sa1" cx="1842.3" cy="439.4" r="6.2"/>
<circle class="fa1" cx="1842.2" cy="439.4" r="7.2"/><circle class="sa1" cx="1842.2" cy="439.4" r="6.2"/>
<circle class="fa1" cx="1843.0" cy="439.6" r="7.2"/><circle class="sa1" cx="1843.0" cy="439.6" r="6.2"/>
<circle class="fa1" cx="1833.1" cy="444.2" r="7.2"/><circle class="sa1" cx="1833.1" cy="444.2" r="6.2"/>
<circle class="fa1" cx="1782.3" cy="431.2" r="7.2"/><circle class="sa1" cx="1782.3" cy="431.2" r="6.2"/>
<circle class="fa1" cx="1735.4" cy="442.0" r="7.2"/><circle class="sa1" cx="1735.4" cy="442.0" r="6.2"/>
<circle class="fa1" cx="1735.5" cy="442.1" r="7.2"/><circle class="sa1" cx="1735.5" cy="442.1" r="6.2"/>
<circle class="fa1" cx="1735.7" cy="441.6" r="7.2"/><circle class="sa1" cx="1735.7" cy="441.6" r="6.2"/>
<circle class="fa1" cx="1736.4" cy="441.6" r="7.2"/><circle class="sa1" cx="1736.4" cy="441.6" r="6.2"/>
<circle class="fa1" cx="1752.8" cy="442.3" r="7.2"/><circle class="sa1" cx="1752.8" cy="442.3" r="6.2"/>
<circle class="fa1" cx="1752.8" cy="441.7" r="7.2"/><circle class="sa1" cx="1752.8" cy="441.7" r="6.2"/>
<circle class="fa1" cx="1753.3" cy="441.8" r="7.2"/><circle class="sa1" cx="1753.3" cy="441.8" r="6.2"/>
<circle class="fa1" cx="1752.4" cy="441.9" r="7.2"/><circle class="sa1" cx="1752.4" cy="441.9" r="6.2"/>
<circle class="fa1" cx="1784.3" cy="442.8" r="7.2"/><circle class="sa1" cx="1784.3" cy="442.8" r="6.2"/>
<circle class="fa1" cx="1783.9" cy="442.5" r="7.2"/><circle class="sa1" cx="1783.9" cy="442.5" r="6.2"/>
<circle class="fa1" cx="1783.9" cy="441.8" r="7.2"/><circle class="sa1" cx="1783.9" cy="441.8" r="6.2"/>
<circle class="fa1" cx="1867.7" cy="442.0" r="7.2"/><circle class="sa1" cx="1867.7" cy="442.0" r="6.2"/>
<circle class="fa1" cx="1873.0" cy="431.2" r="7.2"/><circle class="sa1" cx="1873.0" cy="431.2" r="6.2"/>
<circle class="fa1" cx="1857.7" cy="446.5" r="7.2"/><circle class="sa1" cx="1857.7" cy="446.5" r="6.2"/>
<circle class="fa1" cx="1858.3" cy="447.0" r="7.2"/><circle class="sa1" cx="1858.3" cy="447.0" r="6.2"/>
<circle class="fa1" cx="1724.7" cy="446.7" r="7.2"/><circle class="sa1" cx="1724.7" cy="446.7" r="6.2"/>
<circle class="fa1" cx="1725.5" cy="446.4" r="7.2"/><circle class="sa1" cx="1725.5" cy="446.4" r="6.2"/>
<circle class="fa1" cx="1724.6" cy="446.5" r="7.2"/><circle class="sa1" cx="1724.6" cy="446.5" r="6.2"/>
<circle class="fa1" cx="1724.9" cy="446.2" r="7.2"/><circle class="sa1" cx="1724.9" cy="446.2" r="6.2"/>
<circle class="fa1" cx="1734.8" cy="444.4" r="7.2"/><circle class="sa1" cx="1734.8" cy="444.4" r="6.2"/>
<circle class="fa1" cx="1735.5" cy="444.5" r="7.2"/><circle class="sa1" cx="1735.5" cy="444.5" r="6.2"/>
<circle class="fa1" cx="1734.9" cy="444.6" r="7.2"/><circle class="sa1" cx="1734.9" cy="444.6" r="6.2"/>
<circle class="fa1" cx="1735.7" cy="443.6" r="7.2"/><circle class="sa1" cx="1735.7" cy="443.6" r="6.2"/>
<circle class="fa1" cx="1745.6" cy="446.4" r="7.2"/><circle class="sa1" cx="1745.6" cy="446.4" r="6.2"/>
<circle class="fa1" cx="1745.3" cy="447.3" r="7.2"/><circle class="sa1" cx="1745.3" cy="447.3" r="6.2"/>
<circle class="fa1" cx="1745.7" cy="447.1" r="7.2"/><circle class="sa1" cx="1745.7" cy="447.1" r="6.2"/>
<circle class="fa1" cx="1744.7" cy="446.5" r="7.2"/><circle class="sa1" cx="1744.7" cy="446.5" r="6.2"/>
<circle class="fa1" cx="1754.4" cy="443.4" r="7.2"/><circle class="sa1" cx="1754.4" cy="443.4" r="6.2"/>
<circle class="fa1" cx="1754.9" cy="442.6" r="7.2"/><circle class="sa1" cx="1754.9" cy="442.6" r="6.2"/>
<circle class="fa1" cx="1755.3" cy="442.6" r="7.2"/><circle class="sa1" cx="1755.3" cy="442.6" r="6.2"/>
<circle class="fa1" cx="1754.7" cy="442.7" r="7.2"/><circle class="sa1" cx="1754.7" cy="442.7" r="6.2"/>
<circle class="fa1" cx="1765.6" cy="446.6" r="7.2"/><circle class="sa1" cx="1765.6" cy="446.6" r="6.2"/>
<circle class="fa1" cx="1764.9" cy="445.2" r="7.2"/><circle class="sa1" cx="1764.9" cy="445.2" r="6.2"/>
<circle class="fa1" cx="1765.2" cy="446.0" r="7.2"/><circle class="sa1" cx="1765.2" cy="446.0" r="6.2"/>
<circle class="fa1" cx="1765.2" cy="446.3" r="7.2"/><circle class="sa1" cx="1765.2" cy="446.3" r="6.2"/>
<circle class="fa1" cx="1774.8" cy="444.5" r="7.2"/><circle class="sa1" cx="1774.8" cy="444.5" r="6.2"/>
<circle class="fa1" cx="1775.5" cy="444.1" r="7.2"/><circle class="sa1" cx="1775.5" cy="444.1" r="6.2"/>
<circle class="fa1" cx="1774.8" cy="443.7" r="7.2"/><circle class="sa1" cx="1774.8" cy="443.7" r="6.2"/>
<circle class="fa1" cx="1785.4" cy="446.4" r="7.2"/><circle class="sa1" cx="1785.4" cy="446.4" r="6.2"/>
<circle class="fa1" cx="1784.9" cy="446.6" r="7.2"/><circle class="sa1" cx="1784.9" cy="446.6" r="6.2"/>
<circle class="fa1" cx="1784.3" cy="447.3" r="7.2"/><circle class="sa1" cx="1784.3" cy="447.3" r="6.2"/>
<circle class="fa1" cx="1795.0" cy="443.0" r="7.2"/><circle class="sa1" cx="1795.0" cy="443.0" r="6.2"/>
<circle class="fa1" cx="1795.4" cy="442.3" r="7.2"/><circle class="sa1" cx="1795.4" cy="442.3" r="6.2"/>
<circle class="fa1" cx="1795.0" cy="443.2" r="7.2"/><circle class="sa1" cx="1795.0" cy="443.2" r="6.2"/>
<circle class="fa1" cx="1805.4" cy="446.4" r="7.2"/><circle class="sa1" cx="1805.4" cy="446.4" r="6.2"/>
<circle class="fa1" cx="1805.4" cy="447.1" r="7.2"/><circle class="sa1" cx="1805.4" cy="447.1" r="6.2"/>
<circle class="fa1" cx="1805.6" cy="447.5" r="7.2"/><circle class="sa1" cx="1805.6" cy="447.5" r="6.2"/>
<circle class="fa1" cx="1815.2" cy="444.8" r="7.2"/><circle class="sa1" cx="1815.2" cy="444.8" r="6.2"/>
<circle class="fa1" cx="1815.0" cy="443.7" r="7.2"/><circle class="sa1" cx="1815.0" cy="443.7" r="6.2"/>
<circle class="fa1" cx="1814.8" cy="443.5" r="7.2"/><circle class="sa1" cx="1814.8" cy="443.5" r="6.2"/>
<circle class="fa1" cx="1830.0" cy="446.2" r="7.2"/><circle class="sa1" cx="1830.0" cy="446.2" r="6.2"/>
<circle class="fa1" cx="1829.9" cy="447.3" r="7.2"/><circle class="sa1" cx="1829.9" cy="447.3" r="6.2"/>
<circle class="fa1" cx="1840.0" cy="445.0" r="7.2"/><circle class="sa1" cx="1840.0" cy="445.0" r="6.2"/>
<circle class="fa1" cx="1850.6" cy="447.8" r="7.2"/><circle class="sa1" cx="1850.6" cy="447.8" r="6.2"/>
<circle class="fa1" cx="1850.7" cy="447.7" r="7.2"/><circle class="sa1" cx="1850.7" cy="447.7" r="6.2"/>
<circle class="fa1" cx="1860.0" cy="446.0" r="7.2"/><circle class="sa1" cx="1860.0" cy="446.0" r="6.2"/>
<circle class="fa1" cx="1726.4" cy="476.7" r="7.2"/><circle class="sa1" cx="1726.4" cy="476.7" r="6.2"/>
<circle class="fa1" cx="1726.1" cy="477.1" r="7.2"/><circle class="sa1" cx="1726.1" cy="477.1" r="6.2"/>
<circle class="fa1" cx="1727.2" cy="477.8" r="7.2"/><circle class="sa1" cx="1727.2" cy="477.8" r="6.2"/>
<circle class="fa1" cx="1725.9" cy="477.8" r="7.2"/><circle class="sa1" cx="1725.9" cy="477.8" r="6.2"/>
<circle class="fa1" cx="1744.1" cy="473.8" r="7.2"/><circle class="sa1" cx="1744.1" cy="473.8" r="6.2"/>
<circle class="fa1" cx="1743.8" cy="473.7" r="7.2"/><circle class="sa1" cx="1743.8" cy="473.7" r="6.2"/>
<circle class="fa1" cx="1743.8" cy="482.6" r="7.2"/><circle class="sa1" cx="1743.8" cy="482.6" r="6.2"/>
<circle class="fa1" cx="1754.4" cy="472.4" r="7.2"/><circle class="sa1" cx="1754.4" cy="472.4" r="6.2"/>
<circle class="fa1" cx="1754.6" cy="473.9" r="7.2"/><circle class="sa1" cx="1754.6" cy="473.9" r="6.2"/>
<circle class="fa1" cx="1770.4" cy="471.6" r="7.2"/><circle class="sa1" cx="1770.4" cy="471.6" r="6.2"/>
<circle class="fa1" cx="1769.3" cy="471.6" r="7.2"/><circle class="sa1" cx="1769.3" cy="471.6" r="6.2"/>
<circle class="fa1" cx="1770.2" cy="471.9" r="7.2"/><circle class="sa1" cx="1770.2" cy="471.9" r="6.2"/>
<circle class="fa3" cx="1781.2" cy="479.7" r="7.2"/><circle class="sa3" cx="1781.2" cy="479.7" r="6.2"/>
<circle class="fa1" cx="1795.6" cy="473.9" r="7.2"/><circle class="sa1" cx="1795.6" cy="473.9" r="6.2"/>
<circle class="fa1" cx="1806.2" cy="478.4" r="7.2"/><circle class="sa1" cx="1806.2" cy="478.4" r="6.2"/>
<circle class="fa1" cx="1806.4" cy="478.5" r="7.2"/><circle class="sa1" cx="1806.4" cy="478.5" r="6.2"/>
<circle class="fa1" cx="1831.7" cy="472.5" r="7.2"/><circle class="sa1" cx="1831.7" cy="472.5" r="6.2"/>
<circle class="fa1" cx="1854.7" cy="475.3" r="7.2"/><circle class="sa1" cx="1854.7" cy="475.3" r="6.2"/>
<circle class="fa1" cx="1820.9" cy="472.5" r="7.2"/><circle class="sa1" cx="1820.9" cy="472.5" r="6.2"/>
<circle class="fa1" cx="1878.4" cy="406.9" r="7.2"/><circle class="sa1" cx="1878.4" cy="406.9" r="6.2"/>
<circle class="fa1" cx="1878.6" cy="408.0" r="7.2"/><circle class="sa1" cx="1878.6" cy="408.0" r="6.2"/>
<circle class="fa1" cx="1871.6" cy="411.8" r="7.2"/><circle class="sa1" cx="1871.6" cy="411.8" r="6.2"/>
<circle class="fa1" cx="1872.7" cy="411.7" r="7.2"/><circle class="sa1" cx="1872.7" cy="411.7" r="6.2"/>
<circle class="fa1" cx="1871.9" cy="412.7" r="7.2"/><circle class="sa1" cx="1871.9" cy="412.7" r="6.2"/>
<circle class="fa1" cx="1872.6" cy="412.4" r="7.2"/><circle class="sa1" cx="1872.6" cy="412.4" r="6.2"/>
<circle class="fa1" cx="1874.3" cy="420.5" r="7.2"/><circle class="sa1" cx="1874.3" cy="420.5" r="6.2"/>
<circle class="fa1" cx="1897.2" cy="433.1" r="7.2"/><circle class="sa1" cx="1897.2" cy="433.1" r="6.2"/>
<circle class="fa1" cx="1896.9" cy="432.2" r="7.2"/><circle class="sa1" cx="1896.9" cy="432.2" r="6.2"/>
<circle class="fa1" cx="1898.0" cy="433.0" r="7.2"/><circle class="sa1" cx="1898.0" cy="433.0" r="6.2"/>
<circle class="fa1" cx="1876.0" cy="434.2" r="7.2"/><circle class="sa1" cx="1876.0" cy="434.2" r="6.2"/>
<circle class="fa1" cx="1876.6" cy="433.8" r="7.2"/><circle class="sa1" cx="1876.6" cy="433.8" r="6.2"/>
<circle class="fa1" cx="1880.1" cy="444.6" r="7.2"/><circle class="sa1" cx="1880.1" cy="444.6" r="6.2"/>
<circle class="fa1" cx="1879.4" cy="444.6" r="7.2"/><circle class="sa1" cx="1879.4" cy="444.6" r="6.2"/>
<circle class="fa1" cx="1880.1" cy="444.5" r="7.2"/><circle class="sa1" cx="1880.1" cy="444.5" r="6.2"/>
<circle class="fa1" cx="1879.9" cy="445.0" r="7.2"/><circle class="sa1" cx="1879.9" cy="445.0" r="6.2"/>
<circle class="fa1" cx="1894.6" cy="445.5" r="7.2"/><circle class="sa1" cx="1894.6" cy="445.5" r="6.2"/>
<circle class="fa1" cx="1894.6" cy="445.9" r="7.2"/><circle class="sa1" cx="1894.6" cy="445.9" r="6.2"/>
<circle class="fa1" cx="1872.2" cy="443.2" r="7.2"/><circle class="sa1" cx="1872.2" cy="443.2" r="6.2"/>
<circle class="fa1" cx="1934.3" cy="408.6" r="7.2"/><circle class="sa1" cx="1934.3" cy="408.6" r="6.2"/>
<circle class="fa1" cx="1926.7" cy="420.5" r="7.2"/><circle class="sa1" cx="1926.7" cy="420.5" r="6.2"/>
<circle class="fa1" cx="1954.3" cy="422.7" r="7.2"/><circle class="sa1" cx="1954.3" cy="422.7" r="6.2"/>
<circle class="fa1" cx="1919.2" cy="442.1" r="7.2"/><circle class="sa1" cx="1919.2" cy="442.1" r="6.2"/>
<circle class="fa1" cx="1945.5" cy="437.0" r="7.2"/><circle class="sa1" cx="1945.5" cy="437.0" r="6.2"/>
<circle class="fa1" cx="1945.8" cy="436.7" r="7.2"/><circle class="sa1" cx="1945.8" cy="436.7" r="6.2"/>
<circle class="fa1" cx="1942.4" cy="441.1" r="7.2"/><circle class="sa1" cx="1942.4" cy="441.1" r="6.2"/>
<circle class="fa1" cx="1947.8" cy="444.3" r="7.2"/><circle class="sa1" cx="1947.8" cy="444.3" r="6.2"/>
<circle class="fa1" cx="1933.5" cy="447.6" r="7.2"/><circle class="sa1" cx="1933.5" cy="447.6" r="6.2"/>
<circle class="fa1" cx="1933.4" cy="448.0" r="7.2"/><circle class="sa1" cx="1933.4" cy="448.0" r="6.2"/>
<circle class="fa1" cx="1933.4" cy="447.5" r="7.2"/><circle class="sa1" cx="1933.4" cy="447.5" r="6.2"/>
<circle class="fa1" cx="1967.3" cy="448.6" r="7.2"/><circle class="sa1" cx="1967.3" cy="448.6" r="6.2"/>
<circle class="fa1" cx="1978.6" cy="452.3" r="7.2"/><circle class="sa1" cx="1978.6" cy="452.3" r="6.2"/>
<circle class="fa1" cx="1977.7" cy="452.1" r="7.2"/><circle class="sa1" cx="1977.7" cy="452.1" r="6.2"/>
<circle class="fa1" cx="1999.1" cy="407.6" r="7.2"/><circle class="sa1" cx="1999.1" cy="407.6" r="6.2"/>
<circle class="fa1" cx="1993.6" cy="419.5" r="7.2"/><circle class="sa1" cx="1993.6" cy="419.5" r="6.2"/>
<circle class="fa1" cx="1994.3" cy="419.2" r="7.2"/><circle class="sa1" cx="1994.3" cy="419.2" r="6.2"/>
<circle class="fa1" cx="1993.1" cy="418.9" r="7.2"/><circle class="sa1" cx="1993.1" cy="418.9" r="6.2"/>
<circle class="fa1" cx="1993.4" cy="419.1" r="7.2"/><circle class="sa1" cx="1993.4" cy="419.1" r="6.2"/>
<circle class="fa1" cx="1993.7" cy="419.8" r="7.2"/><circle class="sa1" cx="1993.7" cy="419.8" r="6.2"/>
<circle class="fa1" cx="1987.8" cy="424.9" r="7.2"/><circle class="sa1" cx="1987.8" cy="424.9" r="6.2"/>
<circle class="fa1" cx="2000.5" cy="425.0" r="7.2"/><circle class="sa1" cx="2000.5" cy="425.0" r="6.2"/>
<circle class="fa1" cx="2000.0" cy="424.5" r="7.2"/><circle class="sa1" cx="2000.0" cy="424.5" r="6.2"/>
<circle class="fa1" cx="1999.1" cy="448.6" r="7.2"/><circle class="sa1" cx="1999.1" cy="448.6" r="6.2"/>
<circle class="fa1" cx="2016.2" cy="449.3" r="7.2"/><circle class="sa1" cx="2016.2" cy="449.3" r="6.2"/>
<circle class="fa1" cx="2016.4" cy="447.9" r="7.2"/><circle class="sa1" cx="2016.4" cy="447.9" r="6.2"/>
<circle class="fa1" cx="1902.8" cy="473.1" r="7.2"/><circle class="sa1" cx="1902.8" cy="473.1" r="6.2"/>
<circle class="fa1" cx="1902.8" cy="471.7" r="7.2"/><circle class="sa1" cx="1902.8" cy="471.7" r="6.2"/>
<circle class="fa1" cx="1910.9" cy="472.7" r="7.2"/><circle class="sa1" cx="1910.9" cy="472.7" r="6.2"/>
<circle class="fa1" cx="1911.3" cy="471.9" r="7.2"/><circle class="sa1" cx="1911.3" cy="471.9" r="6.2"/>
<circle class="fa1" cx="1910.6" cy="472.9" r="7.2"/><circle class="sa1" cx="1910.6" cy="472.9" r="6.2"/>
<circle class="fa1" cx="1962.9" cy="473.5" r="7.2"/><circle class="sa1" cx="1962.9" cy="473.5" r="6.2"/>
<circle class="fa1" cx="1994.3" cy="473.5" r="7.2"/><circle class="sa1" cx="1994.3" cy="473.5" r="6.2"/>
<circle class="fa1" cx="2015.9" cy="473.5" r="7.2"/><circle class="sa1" cx="2015.9" cy="473.5" r="6.2"/>
<circle class="fa1" cx="2039.0" cy="441.7" r="7.2"/><circle class="sa1" cx="2039.0" cy="441.7" r="6.2"/>
<circle class="fa1" cx="2039.6" cy="441.3" r="7.2"/><circle class="sa1" cx="2039.6" cy="441.3" r="6.2"/>
<circle class="fa1" cx="2021.2" cy="445.4" r="7.2"/><circle class="sa1" cx="2021.2" cy="445.4" r="6.2"/>
<circle class="fa1" cx="2104.8" cy="442.9" r="7.2"/><circle class="sa1" cx="2104.8" cy="442.9" r="6.2"/>
<circle class="fa1" cx="2105.8" cy="442.5" r="7.2"/><circle class="sa1" cx="2105.8" cy="442.5" r="6.2"/>
<circle class="fa1" cx="2106.2" cy="442.7" r="7.2"/><circle class="sa1" cx="2106.2" cy="442.7" r="6.2"/>
<circle class="fa1" cx="2104.9" cy="443.2" r="7.2"/><circle class="sa1" cx="2104.9" cy="443.2" r="6.2"/>
<circle class="fa1" cx="2105.8" cy="443.6" r="7.2"/><circle class="sa1" cx="2105.8" cy="443.6" r="6.2"/>
<circle class="fa1" cx="2105.3" cy="443.1" r="7.2"/><circle class="sa1" cx="2105.3" cy="443.1" r="6.2"/>
<circle class="fa1" cx="2087.1" cy="447.3" r="7.2"/><circle class="sa1" cx="2087.1" cy="447.3" r="6.2"/>
<circle class="fa1" cx="2086.4" cy="447.9" r="7.2"/><circle class="sa1" cx="2086.4" cy="447.9" r="6.2"/>
<circle class="fa1" cx="2087.4" cy="447.7" r="7.2"/><circle class="sa1" cx="2087.4" cy="447.7" r="6.2"/>
<circle class="fa1" cx="2086.8" cy="447.7" r="7.2"/><circle class="sa1" cx="2086.8" cy="447.7" r="6.2"/>
<circle class="fa1" cx="2050.4" cy="450.8" r="7.2"/><circle class="sa1" cx="2050.4" cy="450.8" r="6.2"/>
<circle class="fa1" cx="2050.8" cy="450.1" r="7.2"/><circle class="sa1" cx="2050.8" cy="450.1" r="6.2"/>
<circle class="fa1" cx="2050.5" cy="450.2" r="7.2"/><circle class="sa1" cx="2050.5" cy="450.2" r="6.2"/>
<circle class="fa1" cx="2076.2" cy="451.5" r="7.2"/><circle class="sa1" cx="2076.2" cy="451.5" r="6.2"/>
<circle class="fa1" cx="2075.8" cy="450.7" r="7.2"/><circle class="sa1" cx="2075.8" cy="450.7" r="6.2"/>
<circle class="fa1" cx="2076.1" cy="451.3" r="7.2"/><circle class="sa1" cx="2076.1" cy="451.3" r="6.2"/>
<circle class="fa1" cx="2082.4" cy="471.7" r="7.2"/><circle class="sa1" cx="2082.4" cy="471.7" r="6.2"/>
<circle class="fa1" cx="2083.1" cy="472.2" r="7.2"/><circle class="sa1" cx="2083.1" cy="472.2" r="6.2"/>
<circle class="fa1" cx="2082.6" cy="473.0" r="7.2"/><circle class="sa1" cx="2082.6" cy="473.0" r="6.2"/>
<circle class="fa1" cx="2082.3" cy="472.2" r="7.2"/><circle class="sa1" cx="2082.3" cy="472.2" r="6.2"/>
<circle class="fa1" cx="2041.9" cy="473.7" r="7.2"/><circle class="sa1" cx="2041.9" cy="473.7" r="6.2"/>
<circle class="fa1" cx="2041.5" cy="474.0" r="7.2"/><circle class="sa1" cx="2041.5" cy="474.0" r="6.2"/>
<circle class="fa1" cx="2022.3" cy="472.4" r="7.2"/><circle class="sa1" cx="2022.3" cy="472.4" r="6.2"/>
<circle class="fa1" cx="1647.3" cy="546.5" r="7.2"/><circle class="sa1" cx="1647.3" cy="546.5" r="6.2"/>
<circle class="fa1" cx="1716.9" cy="545.4" r="7.2"/><circle class="sa1" cx="1716.9" cy="545.4" r="6.2"/>
<circle class="fa1" cx="1703.3" cy="584.5" r="7.2"/><circle class="sa1" cx="1703.3" cy="584.5" r="6.2"/>
<circle class="fa1" cx="1777.5" cy="565.3" r="7.2"/><circle class="sa1" cx="1777.5" cy="565.3" r="6.2"/>
<circle class="fa1" cx="1805.0" cy="569.1" r="7.2"/><circle class="sa1" cx="1805.0" cy="569.1" r="6.2"/>
<circle class="fa1" cx="1864.2" cy="552.3" r="7.2"/><circle class="sa1" cx="1864.2" cy="552.3" r="6.2"/>
<circle class="fa1" cx="1661.5" cy="531.9" r="7.2"/><circle class="sa1" cx="1661.5" cy="531.9" r="6.2"/>
<circle class="fa0" cx="1675.9" cy="527.5" r="7.2"/><circle class="sa0" cx="1675.9" cy="527.5" r="6.2"/>
<circle class="fa0" cx="1675.7" cy="527.0" r="7.2"/><circle class="sa0" cx="1675.7" cy="527.0" r="6.2"/>
<circle class="fa1" cx="1668.5" cy="535.8" r="7.2"/><circle class="sa1" cx="1668.5" cy="535.8" r="6.2"/>
<circle class="fa1" cx="1667.9" cy="535.8" r="7.2"/><circle class="sa1" cx="1667.9" cy="535.8" r="6.2"/>
<circle class="fa1" cx="1703.3" cy="527.3" r="7.2"/><circle class="sa1" cx="1703.3" cy="527.3" r="6.2"/>
<circle class="fa0" cx="1810.6" cy="527.1" r="7.2"/><circle class="sa0" cx="1810.6" cy="527.1" r="6.2"/>
<circle class="fa0" cx="1810.7" cy="528.4" r="7.2"/><circle class="sa0" cx="1810.7" cy="528.4" r="6.2"/>
<circle class="fa1" cx="1764.9" cy="523.5" r="7.2"/><circle class="sa1" cx="1764.9" cy="523.5" r="6.2"/>
<circle class="fa1" cx="1772.2" cy="515.1" r="7.2"/><circle class="sa1" cx="1772.2" cy="515.1" r="6.2"/>
<circle class="fa1" cx="1777.5" cy="508.9" r="7.2"/><circle class="sa1" cx="1777.5" cy="508.9" r="6.2"/>
<circle class="fa1" cx="1854.8" cy="516.2" r="7.2"/><circle class="sa1" cx="1854.8" cy="516.2" r="6.2"/>
<circle class="fa1" cx="1865.2" cy="523.5" r="7.2"/><circle class="sa1" cx="1865.2" cy="523.5" r="6.2"/>
<circle class="fa1" cx="1661.5" cy="494.3" r="7.2"/><circle class="sa1" cx="1661.5" cy="494.3" r="6.2"/>
<circle class="fa1" cx="1663.6" cy="509.9" r="7.2"/><circle class="sa1" cx="1663.6" cy="509.9" r="6.2"/>
<circle class="fa1" cx="1678.8" cy="501.4" r="7.2"/><circle class="sa1" cx="1678.8" cy="501.4" r="6.2"/>
<circle class="fa1" cx="1677.9" cy="501.2" r="7.2"/><circle class="sa1" cx="1677.9" cy="501.2" r="6.2"/>
<circle class="fa1" cx="1677.7" cy="502.3" r="7.2"/><circle class="sa1" cx="1677.7" cy="502.3" r="6.2"/>
<circle class="fa1" cx="1689.1" cy="499.6" r="7.2"/><circle class="sa1" cx="1689.1" cy="499.6" r="6.2"/>
<circle class="fa1" cx="1688.4" cy="499.0" r="7.2"/><circle class="sa1" cx="1688.4" cy="499.0" r="6.2"/>
<circle class="fa1" cx="1672.5" cy="507.2" r="7.2"/><circle class="sa1" cx="1672.5" cy="507.2" r="6.2"/>
<circle class="fa1" cx="1671.4" cy="507.3" r="7.2"/><circle class="sa1" cx="1671.4" cy="507.3" r="6.2"/>
<circle class="fa1" cx="1685.5" cy="514.1" r="7.2"/><circle class="sa1" cx="1685.5" cy="514.1" r="6.2"/>
<circle class="fa1" cx="1694.3" cy="512.3" r="7.2"/><circle class="sa1" cx="1694.3" cy="512.3" r="6.2"/>
<circle class="fa1" cx="1694.4" cy="511.8" r="7.2"/><circle class="sa1" cx="1694.4" cy="511.8" r="6.2"/>
<circle class="fa1" cx="1703.3" cy="511.0" r="7.2"/><circle class="sa1" cx="1703.3" cy="511.0" r="6.2"/>
<circle class="fa1" cx="1705.4" cy="495.3" r="7.2"/><circle class="sa1" cx="1705.4" cy="495.3" r="6.2"/>
<circle class="fa1" cx="1713.7" cy="490.1" r="7.2"/><circle class="sa1" cx="1713.7" cy="490.1" r="6.2"/>
<circle class="fa1" cx="1710.6" cy="483.8" r="7.2"/><circle class="sa1" cx="1710.6" cy="483.8" r="6.2"/>
<circle class="fa1" cx="1731.5" cy="502.6" r="7.2"/><circle class="sa1" cx="1731.5" cy="502.6" r="6.2"/>
<circle class="fa1" cx="1726.6" cy="478.9" r="7.2"/><circle class="sa1" cx="1726.6" cy="478.9" r="6.2"/>
<circle class="fa1" cx="1726.8" cy="478.2" r="7.2"/><circle class="sa1" cx="1726.8" cy="478.2" r="6.2"/>
<circle class="fa1" cx="1726.9" cy="479.1" r="7.2"/><circle class="sa1" cx="1726.9" cy="479.1" r="6.2"/>
<circle class="fa1" cx="1726.3" cy="478.9" r="7.2"/><circle class="sa1" cx="1726.3" cy="478.9" r="6.2"/>
<circle class="fa1" cx="1730.4" cy="485.9" r="7.2"/><circle class="sa1" cx="1730.4" cy="485.9" r="6.2"/>
<circle class="fa0" cx="1743.6" cy="484.7" r="7.2"/><circle class="sa0" cx="1743.6" cy="484.7" r="6.2"/>
<circle class="fa0" cx="1743.3" cy="484.8" r="7.2"/><circle class="sa0" cx="1743.3" cy="484.8" r="6.2"/>
<circle class="fa3" cx="1781.6" cy="481.7" r="7.2"/><circle class="sa3" cx="1781.6" cy="481.7" r="6.2"/>
<circle class="fa1" cx="1783.7" cy="491.1" r="7.2"/><circle class="sa1" cx="1783.7" cy="491.1" r="6.2"/>
<circle class="fa1" cx="1805.8" cy="479.3" r="7.2"/><circle class="sa1" cx="1805.8" cy="479.3" r="6.2"/>
<circle class="fa1" cx="1806.2" cy="479.0" r="7.2"/><circle class="sa1" cx="1806.2" cy="479.0" r="6.2"/>
<circle class="fa1" cx="1805.5" cy="478.5" r="7.2"/><circle class="sa1" cx="1805.5" cy="478.5" r="6.2"/>
<circle class="fa1" cx="1809.8" cy="482.8" r="7.2"/><circle class="sa1" cx="1809.8" cy="482.8" r="6.2"/>
<circle class="fa1" cx="1854.8" cy="474.4" r="7.2"/><circle class="sa1" cx="1854.8" cy="474.4" r="6.2"/>
<circle class="fa1" cx="1855.6" cy="496.4" r="7.2"/><circle class="sa1" cx="1855.6" cy="496.4" r="6.2"/>
<circle class="fa1" cx="1855.0" cy="496.6" r="7.2"/><circle class="sa1" cx="1855.0" cy="496.6" r="6.2"/>
<circle class="fa1" cx="1859.3" cy="501.4" r="7.2"/><circle class="sa1" cx="1859.3" cy="501.4" r="6.2"/>
<circle class="fa1" cx="1860.0" cy="501.3" r="7.2"/><circle class="sa1" cx="1860.0" cy="501.3" r="6.2"/>
<circle class="fa1" cx="1868.3" cy="511.0" r="7.2"/><circle class="sa1" cx="1868.3" cy="511.0" r="6.2"/>
<circle class="fa1" cx="1655.2" cy="480.7" r="7.2"/><circle class="sa1" cx="1655.2" cy="480.7" r="6.2"/>
<circle class="fa1" cx="1611.3" cy="465.0" r="7.2"/><circle class="sa1" cx="1611.3" cy="465.0" r="6.2"/>
<circle class="fa1" cx="1689.5" cy="483.8" r="7.2"/><circle class="sa1" cx="1689.5" cy="483.8" r="6.2"/>
<circle class="fa1" cx="1689.4" cy="484.3" r="7.2"/><circle class="sa1" cx="1689.4" cy="484.3" r="6.2"/>
<circle class="fa1" cx="1696.7" cy="475.6" r="7.2"/><circle class="sa1" cx="1696.7" cy="475.6" r="6.2"/>
<circle class="fa1" cx="1697.7" cy="475.2" r="7.2"/><circle class="sa1" cx="1697.7" cy="475.2" r="6.2"/>
<circle class="fa1" cx="1755.6" cy="471.0" r="7.2"/><circle class="sa1" cx="1755.6" cy="471.0" r="6.2"/>
<circle class="fa1" cx="1755.5" cy="471.1" r="7.2"/><circle class="sa1" cx="1755.5" cy="471.1" r="6.2"/>
<circle class="fa1" cx="1768.0" cy="471.8" r="7.2"/><circle class="sa1" cx="1768.0" cy="471.8" r="6.2"/>
<circle class="fa1" cx="1768.7" cy="471.4" r="7.2"/><circle class="sa1" cx="1768.7" cy="471.4" r="6.2"/>
<circle class="fa1" cx="1795.2" cy="473.4" r="7.2"/><circle class="sa1" cx="1795.2" cy="473.4" r="6.2"/>
<circle class="fa1" cx="1830.7" cy="472.3" r="7.2"/><circle class="sa1" cx="1830.7" cy="472.3" r="6.2"/>
<circle class="fa0" cx="1903.5" cy="475.9" r="7.2"/><circle class="sa0" cx="1903.5" cy="475.9" r="6.2"/>
<circle class="fa0" cx="1903.2" cy="474.8" r="7.2"/><circle class="sa0" cx="1903.2" cy="474.8" r="6.2"/>
<circle class="fa1" cx="1911.8" cy="472.3" r="7.2"/><circle class="sa1" cx="1911.8" cy="472.3" r="6.2"/>
<circle class="fa1" cx="1924.8" cy="492.7" r="7.2"/><circle class="sa1" cx="1924.8" cy="492.7" r="6.2"/>
<circle class="fa1" cx="1924.8" cy="492.7" r="7.2"/><circle class="sa1" cx="1924.8" cy="492.7" r="6.2"/>
<circle class="fa1" cx="1925.0" cy="492.8" r="7.2"/><circle class="sa1" cx="1925.0" cy="492.8" r="6.2"/>
<circle class="fa1" cx="1924.7" cy="493.9" r="7.2"/><circle class="sa1" cx="1924.7" cy="493.9" r="6.2"/>
<circle class="fa1" cx="1923.9" cy="493.9" r="7.2"/><circle class="sa1" cx="1923.9" cy="493.9" r="6.2"/>
<circle class="fa1" cx="1924.0" cy="492.5" r="7.2"/><circle class="sa1" cx="1924.0" cy="492.5" r="6.2"/>
<circle class="fa1" cx="1881.5" cy="496.3" r="7.2"/><circle class="sa1" cx="1881.5" cy="496.3" r="6.2"/>
<circle class="fa1" cx="1873.5" cy="512.4" r="7.2"/><circle class="sa1" cx="1873.5" cy="512.4" r="6.2"/>
<circle class="fa1" cx="1873.0" cy="511.1" r="7.2"/><circle class="sa1" cx="1873.0" cy="511.1" r="6.2"/>
<circle class="fa1" cx="1871.0" cy="523.5" r="7.2"/><circle class="sa1" cx="1871.0" cy="523.5" r="6.2"/>
<circle class="fa1" cx="1963.0" cy="473.4" r="7.2"/><circle class="sa1" cx="1963.0" cy="473.4" r="6.2"/>
<circle class="fa1" cx="1982.8" cy="480.7" r="7.2"/><circle class="sa1" cx="1982.8" cy="480.7" r="6.2"/>
<circle class="fa1" cx="1995.4" cy="482.8" r="7.2"/><circle class="sa1" cx="1995.4" cy="482.8" r="6.2"/>
<circle class="fa1" cx="1993.3" cy="473.4" r="7.2"/><circle class="sa1" cx="1993.3" cy="473.4" r="6.2"/>
<circle class="fa1" cx="2020.4" cy="473.4" r="7.2"/><circle class="sa1" cx="2020.4" cy="473.4" r="6.2"/>
<circle class="fa1" cx="2002.7" cy="494.1" r="7.2"/><circle class="sa1" cx="2002.7" cy="494.1" r="6.2"/>
<circle class="fa1" cx="2002.5" cy="494.1" r="7.2"/><circle class="sa1" cx="2002.5" cy="494.1" r="6.2"/>
<circle class="fa1" cx="2014.4" cy="490.9" r="7.2"/><circle class="sa1" cx="2014.4" cy="490.9" r="6.2"/>
<circle class="fa1" cx="2015.9" cy="491.7" r="7.2"/><circle class="sa1" cx="2015.9" cy="491.7" r="6.2"/>
<circle class="fa1" cx="2015.0" cy="490.7" r="7.2"/><circle class="sa1" cx="2015.0" cy="490.7" r="6.2"/>
<circle class="fa1" cx="2012.1" cy="499.5" r="7.2"/><circle class="sa1" cx="2012.1" cy="499.5" r="6.2"/>
<circle class="fa1" cx="2042.6" cy="478.1" r="7.2"/><circle class="sa1" cx="2042.6" cy="478.1" r="6.2"/>
<circle class="fa1" cx="2042.8" cy="476.9" r="7.2"/><circle class="sa1" cx="2042.8" cy="476.9" r="6.2"/>
<circle class="fa1" cx="2047.6" cy="506.8" r="7.2"/><circle class="sa1" cx="2047.6" cy="506.8" r="6.2"/>
<circle class="fa1" cx="2054.0" cy="486.0" r="7.2"/><circle class="sa1" cx="2054.0" cy="486.0" r="6.2"/>
<circle class="fa1" cx="2054.5" cy="486.4" r="7.2"/><circle class="sa1" cx="2054.5" cy="486.4" r="6.2"/>
<circle class="fa1" cx="2054.2" cy="486.5" r="7.2"/><circle class="sa1" cx="2054.2" cy="486.5" r="6.2"/>
<circle class="fa1" cx="2057.8" cy="492.9" r="7.2"/><circle class="sa1" cx="2057.8" cy="492.9" r="6.2"/>
<circle class="fa1" cx="2057.7" cy="492.4" r="7.2"/><circle class="sa1" cx="2057.7" cy="492.4" r="6.2"/>
<circle class="fa1" cx="2058.5" cy="491.7" r="7.2"/><circle class="sa1" cx="2058.5" cy="491.7" r="6.2"/>
<circle class="fa1" cx="2066.1" cy="495.5" r="7.2"/><circle class="sa1" cx="2066.1" cy="495.5" r="6.2"/>
<circle class="fa1" cx="2066.5" cy="496.3" r="7.2"/><circle class="sa1" cx="2066.5" cy="496.3" r="6.2"/>
<circle class="fa1" cx="2066.2" cy="496.6" r="7.2"/><circle class="sa1" cx="2066.2" cy="496.6" r="6.2"/>
<circle class="fa1" cx="2069.8" cy="502.6" r="7.2"/><circle class="sa1" cx="2069.8" cy="502.6" r="6.2"/>
<circle class="fa1" cx="2070.7" cy="502.4" r="7.2"/><circle class="sa1" cx="2070.7" cy="502.4" r="6.2"/>
<circle class="fa1" cx="2075.1" cy="495.0" r="7.2"/><circle class="sa1" cx="2075.1" cy="495.0" r="6.2"/>
<circle class="fa1" cx="2074.6" cy="493.8" r="7.2"/><circle class="sa1" cx="2074.6" cy="493.8" r="6.2"/>
<circle class="fa1" cx="2074.4" cy="494.4" r="7.2"/><circle class="sa1" cx="2074.4" cy="494.4" r="6.2"/>
<circle class="fa1" cx="2070.9" cy="489.5" r="7.2"/><circle class="sa1" cx="2070.9" cy="489.5" r="6.2"/>
<circle class="fa1" cx="2071.1" cy="489.5" r="7.2"/><circle class="sa1" cx="2071.1" cy="489.5" r="6.2"/>
<circle class="fa1" cx="2071.1" cy="490.2" r="7.2"/><circle class="sa1" cx="2071.1" cy="490.2" r="6.2"/>
<circle class="fa3" cx="2078.9" cy="477.5" r="7.2"/><circle class="sa3" cx="2078.9" cy="477.5" r="6.2"/>
<circle class="fa5" cx="1722.8" cy="424.7" r="7.2"/><circle class="sa5" cx="1722.8" cy="424.7" r="6.2"/>
<circle class="fa5" cx="1754.8" cy="419.7" r="7.2"/><circle class="sa5" cx="1754.8" cy="419.7" r="6.2"/>
<circle class="fa5" cx="1726.5" cy="426.1" r="7.2"/><circle class="sa5" cx="1726.5" cy="426.1" r="6.2"/>
<circle class="fa5" cx="1704.6" cy="422.1" r="7.2"/><circle class="sa5" cx="1704.6" cy="422.1" r="6.2"/>
<circle class="fa5" cx="1734.8" cy="437.0" r="7.2"/><circle class="sa5" cx="1734.8" cy="437.0" r="6.2"/>
<circle class="fa5" cx="1698.4" cy="411.1" r="7.2"/><circle class="sa5" cx="1698.4" cy="411.1" r="6.2"/>
<circle class="fa5" cx="1698.2" cy="437.9" r="7.2"/><circle class="sa5" cx="1698.2" cy="437.9" r="6.2"/>
<circle class="fa5" cx="1739.2" cy="397.2" r="7.2"/><circle class="sa5" cx="1739.2" cy="397.2" r="6.2"/>
<circle class="fa5" cx="1758.8" cy="446.1" r="7.2"/><circle class="sa5" cx="1758.8" cy="446.1" r="6.2"/>
<circle class="fa5" cx="1736.5" cy="427.6" r="7.2"/><circle class="sa5" cx="1736.5" cy="427.6" r="6.2"/>
<circle class="fa5" cx="1702.7" cy="395.8" r="7.2"/><circle class="sa5" cx="1702.7" cy="395.8" r="6.2"/>
<circle class="fa5" cx="1727.9" cy="398.2" r="7.2"/><circle class="sa5" cx="1727.9" cy="398.2" r="6.2"/>
<circle class="fa5" cx="1704.9" cy="407.8" r="7.2"/><circle class="sa5" cx="1704.9" cy="407.8" r="6.2"/>
<circle class="fa5" cx="1694.0" cy="419.6" r="7.2"/><circle class="sa5" cx="1694.0" cy="419.6" r="6.2"/>
<circle class="fa5" cx="1722.0" cy="439.6" r="7.2"/><circle class="sa5" cx="1722.0" cy="439.6" r="6.2"/>
<circle class="fa5" cx="1727.3" cy="428.9" r="7.2"/><circle class="sa5" cx="1727.3" cy="428.9" r="6.2"/>
<circle class="fa5" cx="1726.0" cy="430.1" r="7.2"/><circle class="sa5" cx="1726.0" cy="430.1" r="6.2"/>
<circle class="fa5" cx="1723.1" cy="409.7" r="7.2"/><circle class="sa5" cx="1723.1" cy="409.7" r="6.2"/>
<circle class="fa5" cx="1759.8" cy="447.8" r="7.2"/><circle class="sa5" cx="1759.8" cy="447.8" r="6.2"/>
<circle class="fa5" cx="1749.1" cy="432.5" r="7.2"/><circle class="sa5" cx="1749.1" cy="432.5" r="6.2"/>
<circle class="fa5" cx="1713.4" cy="407.2" r="7.2"/><circle class="sa5" cx="1713.4" cy="407.2" r="6.2"/>
<circle class="fa5" cx="1711.7" cy="398.7" r="7.2"/><circle class="sa5" cx="1711.7" cy="398.7" r="6.2"/>
<circle class="fa5" cx="1744.1" cy="416.2" r="7.2"/><circle class="sa5" cx="1744.1" cy="416.2" r="6.2"/>
<circle class="fa5" cx="1749.6" cy="415.5" r="7.2"/><circle class="sa5" cx="1749.6" cy="415.5" r="6.2"/>
<circle class="fa5" cx="1757.1" cy="439.9" r="7.2"/><circle class="sa5" cx="1757.1" cy="439.9" r="6.2"/>
<circle class="fa5" cx="1692.0" cy="406.1" r="7.2"/><circle class="sa5" cx="1692.0" cy="406.1" r="6.2"/>
<circle class="fa5" cx="1753.9" cy="419.9" r="7.2"/><circle class="sa5" cx="1753.9" cy="419.9" r="6.2"/>
<circle class="fa5" cx="1758.7" cy="416.1" r="7.2"/><circle class="sa5" cx="1758.7" cy="416.1" r="6.2"/>
<circle class="fa5" cx="1697.0" cy="428.4" r="7.2"/><circle class="sa5" cx="1697.0" cy="428.4" r="6.2"/>
<circle class="fa5" cx="1744.9" cy="409.3" r="7.2"/><circle class="sa5" cx="1744.9" cy="409.3" r="6.2"/>
<circle class="fa5" cx="1711.3" cy="433.3" r="7.2"/><circle class="sa5" cx="1711.3" cy="433.3" r="6.2"/>
<circle class="fa5" cx="1825.3" cy="444.0" r="7.2"/><circle class="sa5" cx="1825.3" cy="444.0" r="6.2"/>
<circle class="fa5" cx="1715.3" cy="431.2" r="7.2"/><circle class="sa5" cx="1715.3" cy="431.2" r="6.2"/>
<circle class="fa5" cx="1713.1" cy="426.5" r="7.2"/><circle class="sa5" cx="1713.1" cy="426.5" r="6.2"/>
<circle class="fa5" cx="1803.6" cy="429.4" r="7.2"/><circle class="sa5" cx="1803.6" cy="429.4" r="6.2"/>
<circle class="fa5" cx="1772.7" cy="436.2" r="7.2"/><circle class="sa5" cx="1772.7" cy="436.2" r="6.2"/>
<circle class="fa5" cx="1724.8" cy="443.3" r="7.2"/><circle class="sa5" cx="1724.8" cy="443.3" r="6.2"/>
<circle class="fa5" cx="1717.0" cy="441.1" r="7.2"/><circle class="sa5" cx="1717.0" cy="441.1" r="6.2"/>
<circle class="fa5" cx="1715.1" cy="435.5" r="7.2"/><circle class="sa5" cx="1715.1" cy="435.5" r="6.2"/>
<circle class="fa5" cx="1727.7" cy="431.7" r="7.2"/><circle class="sa5" cx="1727.7" cy="431.7" r="6.2"/>
<circle class="fa5" cx="1826.2" cy="445.1" r="7.2"/><circle class="sa5" cx="1826.2" cy="445.1" r="6.2"/>
<circle class="fa5" cx="1739.5" cy="447.1" r="7.2"/><circle class="sa5" cx="1739.5" cy="447.1" r="6.2"/>
<circle class="fa5" cx="1727.4" cy="434.9" r="7.2"/><circle class="sa5" cx="1727.4" cy="434.9" r="6.2"/>
<circle class="fa5" cx="1811.1" cy="441.0" r="7.2"/><circle class="sa5" cx="1811.1" cy="441.0" r="6.2"/>
<circle class="fa5" cx="1713.0" cy="449.7" r="7.2"/><circle class="sa5" cx="1713.0" cy="449.7" r="6.2"/>
<circle class="fa5" cx="1727.7" cy="431.5" r="7.2"/><circle class="sa5" cx="1727.7" cy="431.5" r="6.2"/>
<circle class="fa5" cx="1800.4" cy="433.2" r="7.2"/><circle class="sa5" cx="1800.4" cy="433.2" r="6.2"/>
<circle class="fa5" cx="1738.5" cy="426.8" r="7.2"/><circle class="sa5" cx="1738.5" cy="426.8" r="6.2"/>
<circle class="fa5" cx="1711.7" cy="439.6" r="7.2"/><circle class="sa5" cx="1711.7" cy="439.6" r="6.2"/>
<circle class="fa5" cx="1731.6" cy="440.0" r="7.2"/><circle class="sa5" cx="1731.6" cy="440.0" r="6.2"/>
<circle class="fa5" cx="1748.3" cy="436.3" r="7.2"/><circle class="sa5" cx="1748.3" cy="436.3" r="6.2"/>
<circle class="fa5" cx="1824.7" cy="437.1" r="7.2"/><circle class="sa5" cx="1824.7" cy="437.1" r="6.2"/>
<circle class="fa5" cx="1774.7" cy="446.7" r="7.2"/><circle class="sa5" cx="1774.7" cy="446.7" r="6.2"/>
<circle class="fa5" cx="1723.8" cy="428.9" r="7.2"/><circle class="sa5" cx="1723.8" cy="428.9" r="6.2"/>
<circle class="fa5" cx="1818.1" cy="445.4" r="7.2"/><circle class="sa5" cx="1818.1" cy="445.4" r="6.2"/>
<circle class="fa5" cx="1660.0" cy="475.3" r="7.2"/><circle class="sa5" cx="1660.0" cy="475.3" r="6.2"/>
<circle class="fa5" cx="1699.2" cy="496.3" r="7.2"/><circle class="sa5" cx="1699.2" cy="496.3" r="6.2"/>
<circle class="fa5" cx="1655.7" cy="496.6" r="7.2"/><circle class="sa5" cx="1655.7" cy="496.6" r="6.2"/>
<circle class="fa5" cx="1710.6" cy="486.9" r="7.2"/><circle class="sa5" cx="1710.6" cy="486.9" r="6.2"/>
<circle class="fa5" cx="1673.7" cy="472.9" r="7.2"/><circle class="sa5" cx="1673.7" cy="472.9" r="6.2"/>
<circle class="fa5" cx="1643.1" cy="497.0" r="7.2"/><circle class="sa5" cx="1643.1" cy="497.0" r="6.2"/>
<circle class="fa5" cx="1659.1" cy="489.7" r="7.2"/><circle class="sa5" cx="1659.1" cy="489.7" r="6.2"/>
<circle class="fa5" cx="1660.6" cy="493.1" r="7.2"/><circle class="sa5" cx="1660.6" cy="493.1" r="6.2"/>
<circle class="fa5" cx="1687.7" cy="478.2" r="7.2"/><circle class="sa5" cx="1687.7" cy="478.2" r="6.2"/>
<circle class="fa5" cx="1654.0" cy="490.2" r="7.2"/><circle class="sa5" cx="1654.0" cy="490.2" r="6.2"/>
<circle class="fa5" cx="1645.5" cy="476.4" r="7.2"/><circle class="sa5" cx="1645.5" cy="476.4" r="6.2"/>
<circle class="fa5" cx="1684.7" cy="493.9" r="7.2"/><circle class="sa5" cx="1684.7" cy="493.9" r="6.2"/>
<circle class="fa5" cx="1689.1" cy="477.8" r="7.2"/><circle class="sa5" cx="1689.1" cy="477.8" r="6.2"/>
<circle class="fa5" cx="1713.4" cy="475.7" r="7.2"/><circle class="sa5" cx="1713.4" cy="475.7" r="6.2"/>
<circle class="fa5" cx="1641.3" cy="477.5" r="7.2"/><circle class="sa5" cx="1641.3" cy="477.5" r="6.2"/>
<circle class="fa5" cx="1675.7" cy="471.7" r="7.2"/><circle class="sa5" cx="1675.7" cy="471.7" r="6.2"/>
<circle class="fa5" cx="1654.1" cy="480.3" r="7.2"/><circle class="sa5" cx="1654.1" cy="480.3" r="6.2"/>
<circle class="fa5" cx="1685.8" cy="473.7" r="7.2"/><circle class="sa5" cx="1685.8" cy="473.7" r="6.2"/>
<circle class="fa2" cx="2057.4" cy="501.2" r="7.2"/><circle class="sa2" cx="2057.4" cy="501.2" r="6.2"/>
<circle class="fa2" cx="2087.1" cy="493.0" r="7.2"/><circle class="sa2" cx="2087.1" cy="493.0" r="6.2"/>
<circle class="fa2" cx="2073.2" cy="490.5" r="7.2"/><circle class="sa2" cx="2073.2" cy="490.5" r="6.2"/>
<circle class="fa2" cx="2046.7" cy="471.2" r="7.2"/><circle class="sa2" cx="2046.7" cy="471.2" r="6.2"/>
<circle class="fa2" cx="2040.9" cy="501.9" r="7.2"/><circle class="sa2" cx="2040.9" cy="501.9" r="6.2"/>
<circle class="fa2" cx="2073.6" cy="503.7" r="7.2"/><circle class="sa2" cx="2073.6" cy="503.7" r="6.2"/>
<circle class="fa2" cx="2041.0" cy="492.3" r="7.2"/><circle class="sa2" cx="2041.0" cy="492.3" r="6.2"/>
<circle class="fa2" cx="2063.1" cy="495.6" r="7.2"/><circle class="sa2" cx="2063.1" cy="495.6" r="6.2"/>
<circle class="fa2" cx="2055.3" cy="505.0" r="7.2"/><circle class="sa2" cx="2055.3" cy="505.0" r="6.2"/>
<circle class="fa2" cx="2043.6" cy="489.1" r="7.2"/><circle class="sa2" cx="2043.6" cy="489.1" r="6.2"/>
<circle class="fa2" cx="2075.4" cy="501.5" r="7.2"/><circle class="sa2" cx="2075.4" cy="501.5" r="6.2"/>
<circle class="fa2" cx="2075.4" cy="494.6" r="7.2"/><circle class="sa2" cx="2075.4" cy="494.6" r="6.2"/>
<circle class="fa2" cx="1771.4" cy="445.3" r="7.2"/><circle class="sa2" cx="1771.4" cy="445.3" r="6.2"/>
<circle class="fa2" cx="1731.7" cy="432.7" r="7.2"/><circle class="sa2" cx="1731.7" cy="432.7" r="6.2"/>
<circle class="fa2" cx="1781.1" cy="442.9" r="7.2"/><circle class="sa2" cx="1781.1" cy="442.9" r="6.2"/>
<circle class="fa2" cx="1737.5" cy="438.5" r="7.2"/><circle class="sa2" cx="1737.5" cy="438.5" r="6.2"/>
<circle class="fa2" cx="1777.7" cy="426.5" r="7.2"/><circle class="sa2" cx="1777.7" cy="426.5" r="6.2"/>
<circle class="fa2" cx="1756.2" cy="416.0" r="7.2"/><circle class="sa2" cx="1756.2" cy="416.0" r="6.2"/>
<circle class="fa2" cx="1752.4" cy="428.5" r="7.2"/><circle class="sa2" cx="1752.4" cy="428.5" r="6.2"/>
<circle class="fa2" cx="1707.2" cy="430.2" r="7.2"/><circle class="sa2" cx="1707.2" cy="430.2" r="6.2"/>
<circle class="fa2" cx="1789.4" cy="443.4" r="7.2"/><circle class="sa2" cx="1789.4" cy="443.4" r="6.2"/>
<circle class="fa2" cx="1765.5" cy="416.4" r="7.2"/><circle class="sa2" cx="1765.5" cy="416.4" r="6.2"/>
<circle class="fa2" cx="1766.2" cy="427.0" r="7.2"/><circle class="sa2" cx="1766.2" cy="427.0" r="6.2"/>
<circle class="fa2" cx="1739.6" cy="441.1" r="7.2"/><circle class="sa2" cx="1739.6" cy="441.1" r="6.2"/>
<circle class="fa2" cx="1707.5" cy="436.3" r="7.2"/><circle class="sa2" cx="1707.5" cy="436.3" r="6.2"/>
<circle class="fa2" cx="1702.7" cy="428.1" r="7.2"/><circle class="sa2" cx="1702.7" cy="428.1" r="6.2"/>
<circle class="fa2" cx="1743.3" cy="407.7" r="7.2"/><circle class="sa2" cx="1743.3" cy="407.7" r="6.2"/>
<circle class="fa2" cx="1762.9" cy="422.3" r="7.2"/><circle class="sa2" cx="1762.9" cy="422.3" r="6.2"/>
<circle class="fa2" cx="1755.3" cy="445.6" r="7.2"/><circle class="sa2" cx="1755.3" cy="445.6" r="6.2"/>
<circle class="fa2" cx="1723.0" cy="395.6" r="7.2"/><circle class="sa2" cx="1723.0" cy="395.6" r="6.2"/>
<circle class="fa2" cx="1727.1" cy="432.3" r="7.2"/><circle class="sa2" cx="1727.1" cy="432.3" r="6.2"/>
<circle class="fa2" cx="1718.2" cy="404.3" r="7.2"/><circle class="sa2" cx="1718.2" cy="404.3" r="6.2"/>
<circle class="fa2" cx="1781.5" cy="431.3" r="7.2"/><circle class="sa2" cx="1781.5" cy="431.3" r="6.2"/>
<circle class="fa2" cx="1739.8" cy="444.0" r="7.2"/><circle class="sa2" cx="1739.8" cy="444.0" r="6.2"/>
<circle class="fa2" cx="1729.4" cy="431.6" r="7.2"/><circle class="sa2" cx="1729.4" cy="431.6" r="6.2"/>
<circle class="fa2" cx="1717.9" cy="418.7" r="7.2"/><circle class="sa2" cx="1717.9" cy="418.7" r="6.2"/>
<circle class="fa2" cx="1772.5" cy="445.3" r="7.2"/><circle class="sa2" cx="1772.5" cy="445.3" r="6.2"/>
<circle class="fa2" cx="1779.2" cy="416.1" r="7.2"/><circle class="sa2" cx="1779.2" cy="416.1" r="6.2"/>
<circle class="fa2" cx="1752.5" cy="412.4" r="7.2"/><circle class="sa2" cx="1752.5" cy="412.4" r="6.2"/>
<circle class="fa2" cx="1712.3" cy="422.3" r="7.2"/><circle class="sa2" cx="1712.3" cy="422.3" r="6.2"/>
<circle class="fa2" cx="1793.5" cy="446.2" r="7.2"/><circle class="sa2" cx="1793.5" cy="446.2" r="6.2"/>
<circle class="fa2" cx="1788.4" cy="448.8" r="7.2"/><circle class="sa2" cx="1788.4" cy="448.8" r="6.2"/>
<circle class="fa2" cx="1771.1" cy="429.2" r="7.2"/><circle class="sa2" cx="1771.1" cy="429.2" r="6.2"/>
<circle class="fa2" cx="1778.0" cy="431.9" r="7.2"/><circle class="sa2" cx="1778.0" cy="431.9" r="6.2"/>
<circle class="fa2" cx="1768.6" cy="435.3" r="7.2"/><circle class="sa2" cx="1768.6" cy="435.3" r="6.2"/>
<circle class="fa2" cx="1785.0" cy="437.3" r="7.2"/><circle class="sa2" cx="1785.0" cy="437.3" r="6.2"/>
<circle class="fa2" cx="1772.6" cy="446.0" r="7.2"/><circle class="sa2" cx="1772.6" cy="446.0" r="6.2"/>
<circle class="fa2" cx="1799.3" cy="436.3" r="7.2"/><circle class="sa2" cx="1799.3" cy="436.3" r="6.2"/>
<circle class="fa2" cx="1751.9" cy="440.4" r="7.2"/><circle class="sa2" cx="1751.9" cy="440.4" r="6.2"/>
<circle class="fa2" cx="1879.7" cy="440.5" r="7.2"/><circle class="sa2" cx="1879.7" cy="440.5" r="6.2"/>
<circle class="fa2" cx="1853.4" cy="446.8" r="7.2"/><circle class="sa2" cx="1853.4" cy="446.8" r="6.2"/>
<circle class="fa2" cx="1789.4" cy="449.5" r="7.2"/><circle class="sa2" cx="1789.4" cy="449.5" r="6.2"/>
<circle class="fa2" cx="1743.1" cy="441.6" r="7.2"/><circle class="sa2" cx="1743.1" cy="441.6" r="6.2"/>
<circle class="fa2" cx="1812.8" cy="440.3" r="7.2"/><circle class="sa2" cx="1812.8" cy="440.3" r="6.2"/>
<circle class="fa2" cx="1872.7" cy="442.8" r="7.2"/><circle class="sa2" cx="1872.7" cy="442.8" r="6.2"/>
<circle class="fa2" cx="1762.5" cy="440.6" r="7.2"/><circle class="sa2" cx="1762.5" cy="440.6" r="6.2"/>
<circle class="fa2" cx="1840.7" cy="445.4" r="7.2"/><circle class="sa2" cx="1840.7" cy="445.4" r="6.2"/>
<circle class="fa2" cx="1840.8" cy="447.9" r="7.2"/><circle class="sa2" cx="1840.8" cy="447.9" r="6.2"/>
<circle class="fa2" cx="1869.2" cy="451.5" r="7.2"/><circle class="sa2" cx="1869.2" cy="451.5" r="6.2"/>
<circle class="fa2" cx="1849.5" cy="442.4" r="7.2"/><circle class="sa2" cx="1849.5" cy="442.4" r="6.2"/>
<circle class="fa2" cx="1816.0" cy="442.1" r="7.2"/><circle class="sa2" cx="1816.0" cy="442.1" r="6.2"/>
<circle class="fa2" cx="1741.7" cy="445.7" r="7.2"/><circle class="sa2" cx="1741.7" cy="445.7" r="6.2"/>
<circle class="fa2" cx="1854.3" cy="442.1" r="7.2"/><circle class="sa2" cx="1854.3" cy="442.1" r="6.2"/>
<circle class="fa2" cx="1783.6" cy="444.1" r="7.2"/><circle class="sa2" cx="1783.6" cy="444.1" r="6.2"/>
<circle class="fa2" cx="1851.6" cy="446.2" r="7.2"/><circle class="sa2" cx="1851.6" cy="446.2" r="6.2"/>
<circle class="fa2" cx="1838.3" cy="449.1" r="7.2"/><circle class="sa2" cx="1838.3" cy="449.1" r="6.2"/>
<circle class="fa2" cx="1803.0" cy="449.5" r="7.2"/><circle class="sa2" cx="1803.0" cy="449.5" r="6.2"/>
<circle class="fa2" cx="1885.0" cy="441.0" r="7.2"/><circle class="sa2" cx="1885.0" cy="441.0" r="6.2"/>
</g>
<line x1="1579.5" y1="387.6" x2="2166.8" y2="387.6" stroke="#000" stroke-width="3.6"/>
<line x1="1579.5" y1="534.6" x2="2166.8" y2="534.6" stroke="#000" stroke-width="3.6"/>
<rect x="1579.5" y="19.7" width="587.3" height="587.6" fill="none" stroke="#1a1a1a" stroke-width="1.4"/>
<line x1="2166.8" y1="19.7" x2="2166.8" y2="607.3" stroke="#222" stroke-width="2"/>
<line x1="1567.5" y1="387.4" x2="1579.5" y2="387.4" stroke="#1a1a1a" stroke-width="1.4"/>
<text x="1551.3" y="395.5" font-size="23.0" text-anchor="end" font-weight="normal" textLength="26.8" lengthAdjust="spacingAndGlyphs">0.1</text>
<line x1="1567.5" y1="460.9" x2="1579.5" y2="460.9" stroke="#1a1a1a" stroke-width="1.4"/>
<text x="1551.3" y="469.0" font-size="23.0" text-anchor="end" font-weight="normal">0</text>
<line x1="1567.5" y1="534.4" x2="1579.5" y2="534.4" stroke="#1a1a1a" stroke-width="1.4"/>
<text x="1551.3" y="542.5" font-size="23.0" text-anchor="end" font-weight="normal" textLength="38.3" lengthAdjust="spacingAndGlyphs">−0.1</text>
<line x1="1596.0" y1="607.3" x2="1596.0" y2="618.8" stroke="#1a1a1a" stroke-width="1.4"/>
<text x="1596.0" y="648.2" font-size="23.0" text-anchor="middle" font-weight="normal">0</text>
<line x1="1705.0" y1="607.3" x2="1705.0" y2="618.8" stroke="#1a1a1a" stroke-width="1.4"/>
<text x="1705.0" y="648.2" font-size="23.0" text-anchor="middle" font-weight="normal" textLength="32.6" lengthAdjust="spacingAndGlyphs">0.2</text>
<line x1="1814.1" y1="607.3" x2="1814.1" y2="618.8" stroke="#1a1a1a" stroke-width="1.4"/>
<text x="1814.1" y="648.2" font-size="23.0" text-anchor="middle" font-weight="normal" textLength="32.6" lengthAdjust="spacingAndGlyphs">0.4</text>
<line x1="1923.1" y1="607.3" x2="1923.1" y2="618.8" stroke="#1a1a1a" stroke-width="1.4"/>
<text x="1923.1" y="648.2" font-size="23.0" text-anchor="middle" font-weight="normal" textLength="32.6" lengthAdjust="spacingAndGlyphs">0.6</text>
<line x1="2032.2" y1="607.3" x2="2032.2" y2="618.8" stroke="#1a1a1a" stroke-width="1.4"/>
<text x="2032.2" y="648.2" font-size="23.0" text-anchor="middle" font-weight="normal" textLength="32.6" lengthAdjust="spacingAndGlyphs">0.8</text>
<line x1="2141.2" y1="607.3" x2="2141.2" y2="618.8" stroke="#1a1a1a" stroke-width="1.4"/>
<text x="2141.2" y="648.2" font-size="23.0" text-anchor="middle" font-weight="normal" textLength="30.0" lengthAdjust="spacingAndGlyphs">1.0</text>
<text x="1499.0" y="318.0" font-size="27.5" text-anchor="middle" font-weight="normal" textLength="391.2" lengthAdjust="spacingAndGlyphs" transform="rotate(-90 1499.0 318.0)">ΔTM-score (QSMapR – QSMap)</text>
<text x="1873.3" y="689.1" font-size="27.5" text-anchor="middle" font-weight="normal" textLength="252.8" lengthAdjust="spacingAndGlyphs">TM-score (QSMapR)</text>
<text x="1476.0" y="29.2" font-size="39.0" text-anchor="start" font-weight="bold" stroke="#000" stroke-width="0.8">c</text>
</svg>
</body></html>
